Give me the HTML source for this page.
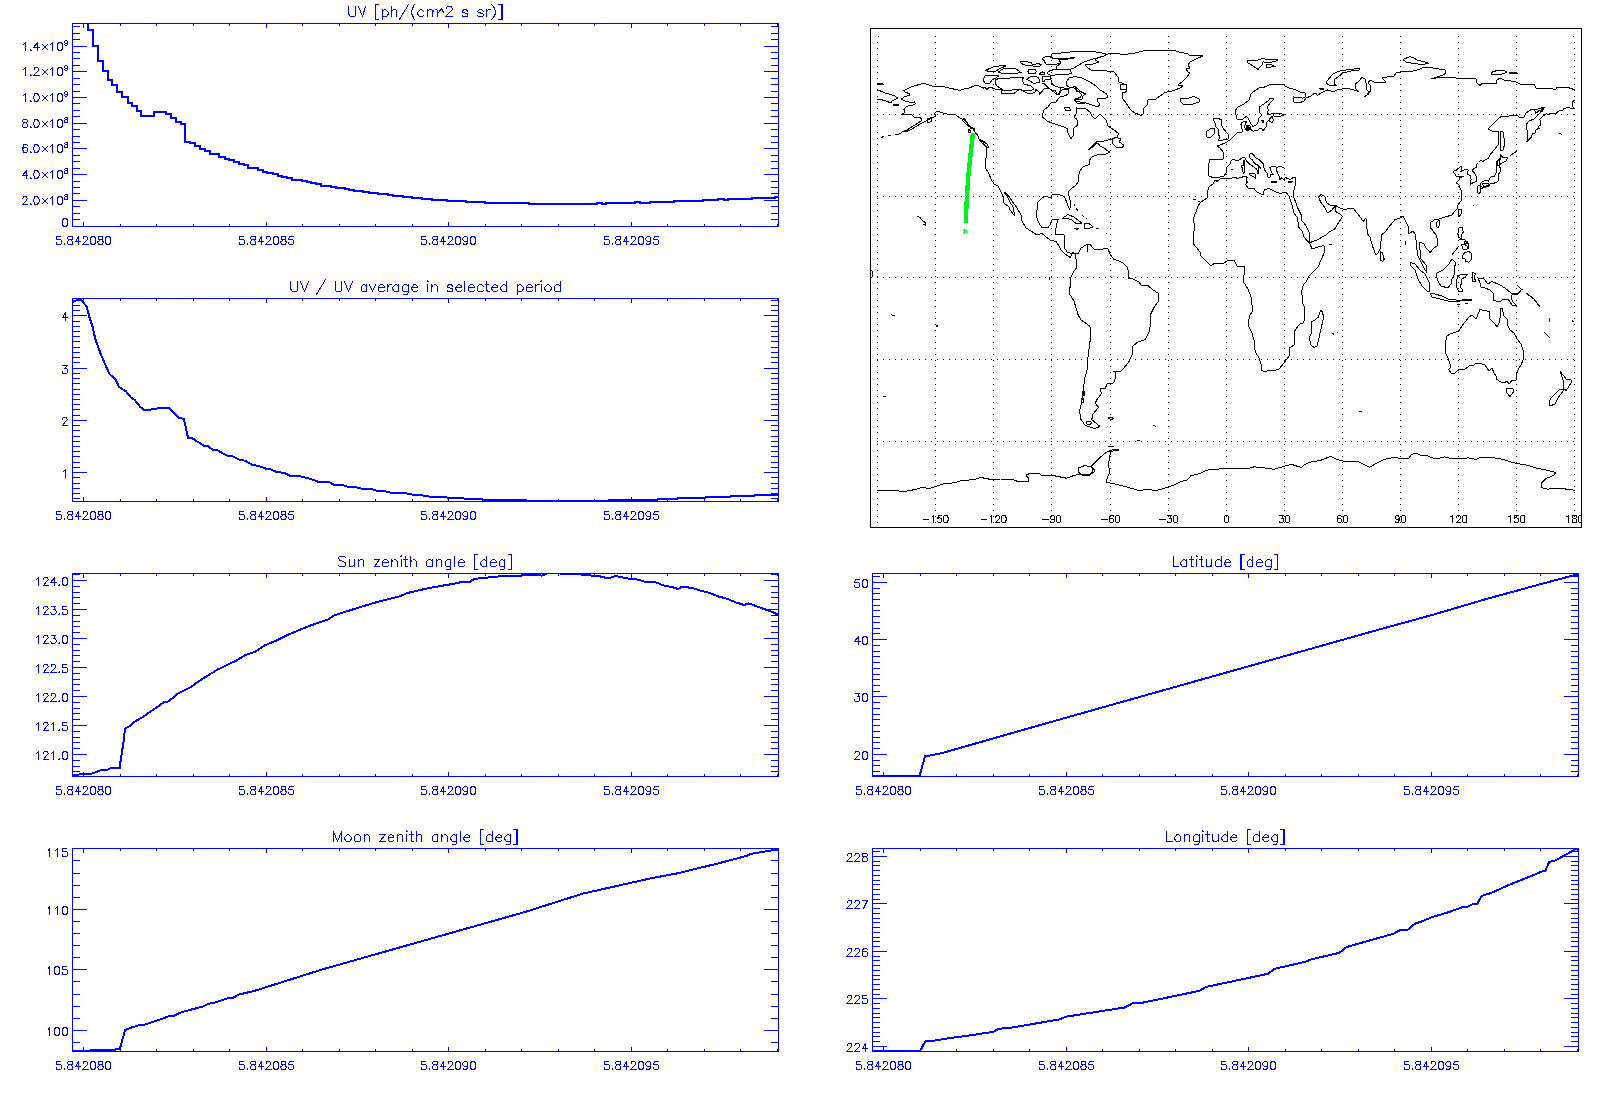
<!DOCTYPE html>
<html><head><meta charset="utf-8"><title>IDL plots</title>
<style>
html,body{margin:0;padding:0;background:#fff;width:1600px;height:1100px;overflow:hidden;font-family:"Liberation Sans",sans-serif}
svg{display:block}
</style></head><body>
<svg xmlns="http://www.w3.org/2000/svg" width="1600" height="1100" viewBox="0 0 1600 1100">
<defs><clipPath id="c00"><rect x="72" y="23" width="707" height="204"/></clipPath><clipPath id="c01"><rect x="72" y="298" width="707" height="204"/></clipPath><clipPath id="c02"><rect x="72" y="573" width="707" height="204"/></clipPath><clipPath id="c03"><rect x="72" y="848" width="707" height="204"/></clipPath><clipPath id="c10"><rect x="872" y="23" width="707" height="204"/></clipPath><clipPath id="c11"><rect x="872" y="298" width="707" height="204"/></clipPath><clipPath id="c12"><rect x="872" y="573" width="707" height="204"/></clipPath><clipPath id="c13"><rect x="872" y="848" width="707" height="204"/></clipPath><clipPath id="mapclip"><rect x="871" y="29" width="710" height="498"/></clipPath><clipPath id="coastclip"><rect x="877" y="29" width="698" height="498"/></clipPath></defs>
<rect width="1600" height="1100" fill="#fff"/>
<path d="M72 23.5H779M72 226.5H779M72.5 23V227M778.5 23V227M83.5 222V226M83.5 24V28M120.5 224V226M120.5 24V26M156.5 224V226M156.5 24V26M193.5 224V226M193.5 24V26M229.5 224V226M229.5 24V26M266.5 222V226M266.5 24V28M302.5 224V226M302.5 24V26M339.5 224V226M339.5 24V26M375.5 224V226M375.5 24V26M412.5 224V226M412.5 24V26M448.5 222V226M448.5 24V28M485.5 224V226M485.5 24V26M521.5 224V226M521.5 24V26M558.5 224V226M558.5 24V26M594.5 224V226M594.5 24V26M631.5 222V226M631.5 24V28M667.5 224V226M667.5 24V26M704.5 224V226M704.5 24V26M740.5 224V226M740.5 24V26M777.5 224V226M777.5 24V26M72 226.5H87M764 226.5H779M72 219.5H80M771 219.5H779M72 213.5H80M771 213.5H779M72 206.5H80M771 206.5H779M72 200.5H87M764 200.5H779M72 193.5H80M771 193.5H779M72 187.5H80M771 187.5H779M72 181.5H80M771 181.5H779M72 174.5H87M764 174.5H779M72 168.5H80M771 168.5H779M72 161.5H80M771 161.5H779M72 155.5H80M771 155.5H779M72 148.5H87M764 148.5H779M72 142.5H80M771 142.5H779M72 136.5H80M771 136.5H779M72 129.5H80M771 129.5H779M72 123.5H87M764 123.5H779M72 116.5H80M771 116.5H779M72 110.5H80M771 110.5H779M72 103.5H80M771 103.5H779M72 97.5H87M764 97.5H779M72 91.5H80M771 91.5H779M72 84.5H80M771 84.5H779M72 78.5H80M771 78.5H779M72 71.5H87M764 71.5H779M72 65.5H80M771 65.5H779M72 58.5H80M771 58.5H779M72 52.5H80M771 52.5H779M72 46.5H87M764 46.5H779M72 39.5H80M771 39.5H779M72 33.5H80M771 33.5H779M72 26.5H80M771 26.5H779" stroke="#0000ff" stroke-width="1" fill="none" shape-rendering="crispEdges"/>
<path d="M88 0 88 30 93 30 93 46 98 46 98 61 103 61 103 71 108 71 108 80 112 80 112 85 117 85 117 92 122 92 122 97 128 97 128 103 132 103 132 106 137 106 137 111 141 111 141 116 154 116 154 112 166 112 166 114 171 114 171 118 176 118 176 122 181 122 181 124 185 124 185 142 190 142 190 143 195 143 195 146 200 146 200 149 205 149 205 151 210 151 210 154 219 154 219 157 225 157 225 159 229 159 229 160 234 160 234 162 239 162 239 164 244 164 244 165 248 165 248 168 258 168 258 170 263 170 263 172 267 172 267 173 273 173 273 174 278 174 278 176 282 176 282 177 287 177 287 178 292 178 292 180 302 180 302 181 307 181 307 182 311 182 311 183 316 183 316 184 321 184 321 186 331 186 331 187 336 187 336 188 345 188 345 189 349 189 349 190 354 190 354 191 363 191 363 192 369 192 369 193 378 193 378 194 388 194 388 195 393 195 393 196 403 196 403 197 412 197 412 198 422 198 422 199 432 199 432 200 447 200 447 201 466 201 466 202 485 202 485 203 529 203 529 204 597 204 597 203 602 203 602 204 606 204 606 203 635 203 635 202 640 202 640 203 650 203 650 202 674 202 674 201 703 201 703 200 718 200 718 199 724 199 724 200 728 200 728 199 752 199 752 198 775 198 775 197 780 197" stroke="#0000ff" stroke-width="2" fill="none" stroke-linejoin="miter" stroke-linecap="butt" shape-rendering="crispEdges" clip-path="url(#c00)"/>
<path d="M72 298.5H779M72 501.5H779M72.5 298V502M778.5 298V502M83.5 497V501M83.5 299V303M120.5 499V501M120.5 299V301M156.5 499V501M156.5 299V301M193.5 499V501M193.5 299V301M229.5 499V501M229.5 299V301M266.5 497V501M266.5 299V303M302.5 499V501M302.5 299V301M339.5 499V501M339.5 299V301M375.5 499V501M375.5 299V301M412.5 499V501M412.5 299V301M448.5 497V501M448.5 299V303M485.5 499V501M485.5 299V301M521.5 499V501M521.5 299V301M558.5 499V501M558.5 299V301M594.5 499V501M594.5 299V301M631.5 497V501M631.5 299V303M667.5 499V501M667.5 299V301M704.5 499V501M704.5 299V301M740.5 499V501M740.5 299V301M777.5 499V501M777.5 299V301M72 498.5H80M771 498.5H779M72 493.5H80M771 493.5H779M72 488.5H80M771 488.5H779M72 483.5H80M771 483.5H779M72 477.5H80M771 477.5H779M72 472.5H87M764 472.5H779M72 467.5H80M771 467.5H779M72 462.5H80M771 462.5H779M72 456.5H80M771 456.5H779M72 451.5H80M771 451.5H779M72 446.5H80M771 446.5H779M72 441.5H80M771 441.5H779M72 436.5H80M771 436.5H779M72 430.5H80M771 430.5H779M72 425.5H80M771 425.5H779M72 420.5H87M764 420.5H779M72 415.5H80M771 415.5H779M72 409.5H80M771 409.5H779M72 404.5H80M771 404.5H779M72 399.5H80M771 399.5H779M72 394.5H80M771 394.5H779M72 389.5H80M771 389.5H779M72 383.5H80M771 383.5H779M72 378.5H80M771 378.5H779M72 373.5H80M771 373.5H779M72 368.5H87M764 368.5H779M72 362.5H80M771 362.5H779M72 357.5H80M771 357.5H779M72 352.5H80M771 352.5H779M72 347.5H80M771 347.5H779M72 341.5H80M771 341.5H779M72 336.5H80M771 336.5H779M72 331.5H80M771 331.5H779M72 326.5H80M771 326.5H779M72 321.5H80M771 321.5H779M72 315.5H87M764 315.5H779M72 310.5H80M771 310.5H779M72 305.5H80M771 305.5H779M72 300.5H80M771 300.5H779" stroke="#0000ff" stroke-width="1" fill="none" shape-rendering="crispEdges"/>
<path d="M72 302.5 77.5 299.8 81.5 300.2 86.7 306.6 89.7 318.2 92.5 326.4 95.2 338.7 100.6 353.7 104.7 363.2 109.5 374.1 115.7 379.6 119.1 387.1 125.9 391.2 130.7 397.3 134.8 400 140.2 406.9 144.3 410 150.4 410 152.5 408.6 156.6 408.6 158.6 407.7 168.2 407.7 173 411.6 179.1 417.8 183.9 419.1 188 437.6 192 438 197.5 441.7 203.75 445.6 207.5 446 213 449.75 217 449.75 223.75 454 227.5 455.6 232 455.9 240 460 245 460.6 251.9 464.75 258.75 466 266.25 468.75 270 469 276.25 471.9 285 473.1 290 475.9 300 476.25 307.5 478.1 315 480.6 318.75 481.9 328.75 481.9 333.75 484.6 342.5 485 348.1 486.9 356.25 487.25 361.25 488.5 371.25 489 376.25 490.6 385 491.25 390.6 492.75 405 492.75 410 494.4 420 495 430 496.6 444.4 496.9 448.75 497.9 463 498.1 465 499 482 499 483 500 526 500 527.5 501 608 501 608.75 500 657.5 500 658 499 677.5 499 678 498 705.6 498 706 497 730 497 730.6 496 754.4 496 755 495 780 495" stroke="#0000ff" stroke-width="2" fill="none" stroke-linejoin="miter" stroke-linecap="butt" shape-rendering="crispEdges" clip-path="url(#c01)"/>
<path d="M72 573.5H779M72 776.5H779M72.5 573V777M778.5 573V777M83.5 772V776M83.5 574V578M120.5 774V776M120.5 574V576M156.5 774V776M156.5 574V576M193.5 774V776M193.5 574V576M229.5 774V776M229.5 574V576M266.5 772V776M266.5 574V578M302.5 774V776M302.5 574V576M339.5 774V776M339.5 574V576M375.5 774V776M375.5 574V576M412.5 774V776M412.5 574V576M448.5 772V776M448.5 574V578M485.5 774V776M485.5 574V576M521.5 774V776M521.5 574V576M558.5 774V776M558.5 574V576M594.5 774V776M594.5 574V576M631.5 772V776M631.5 574V578M667.5 774V776M667.5 574V576M704.5 774V776M704.5 574V576M740.5 774V776M740.5 574V576M777.5 774V776M777.5 574V576M72 771.5H80M771 771.5H779M72 766.5H80M771 766.5H779M72 760.5H80M771 760.5H779M72 754.5H87M764 754.5H779M72 748.5H80M771 748.5H779M72 742.5H80M771 742.5H779M72 737.5H80M771 737.5H779M72 731.5H80M771 731.5H779M72 725.5H87M764 725.5H779M72 719.5H80M771 719.5H779M72 713.5H80M771 713.5H779M72 708.5H80M771 708.5H779M72 702.5H80M771 702.5H779M72 696.5H87M764 696.5H779M72 690.5H80M771 690.5H779M72 684.5H80M771 684.5H779M72 679.5H80M771 679.5H779M72 673.5H80M771 673.5H779M72 667.5H87M764 667.5H779M72 661.5H80M771 661.5H779M72 655.5H80M771 655.5H779M72 650.5H80M771 650.5H779M72 644.5H80M771 644.5H779M72 638.5H87M764 638.5H779M72 632.5H80M771 632.5H779M72 626.5H80M771 626.5H779M72 621.5H80M771 621.5H779M72 615.5H80M771 615.5H779M72 609.5H87M764 609.5H779M72 603.5H80M771 603.5H779M72 597.5H80M771 597.5H779M72 592.5H80M771 592.5H779M72 586.5H80M771 586.5H779M72 580.5H87M764 580.5H779M72 574.5H80M771 574.5H779" stroke="#0000ff" stroke-width="1" fill="none" shape-rendering="crispEdges"/>
<path d="M72 775.8 77 774.8 82 774 91 773.8 95 772.5 102 769.8 108 769.6 111 767.8 119.8 767.8 119.8 766 122 752 123.5 742 125 728.5 129 726.5 135 721.5 142 717.5 147 714 152 710.5 156 708 163.5 702.5 168 701.5 172 698.5 178 693.5 180 692.5 191.25 686.9 198.75 681.25 217.5 669.6 236.25 660.6 245.6 655 255 651.8 264.4 645.6 277.5 640 288.75 634.4 309.4 625.9 328 619.4 333.75 615.6 345 611.9 358.1 607.75 376.9 602.1 399.4 596.5 406.9 593.1 429.4 587.9 451.9 584.1 460 582.4 469 582.4 474 579 482 578 494 577 503 576 526 575.4 530 574.6 542 575.6 548 573 560 573 561 574 580 574.4 590 575.4 600 576.4 608 578.4 616 576 630 579 638 579.6 644 581.6 656 582.4 664 585.6 672 587 678 589 682 586.6 692 588 704 591.6 710 593 718 596.4 726 598.4 736 602.4 744 605 749 603.4 760 607.6 770 611 780 615.4" stroke="#0000ff" stroke-width="2" fill="none" stroke-linejoin="miter" stroke-linecap="butt" shape-rendering="crispEdges" clip-path="url(#c02)"/>
<path d="M72 848.5H779M72 1051.5H779M72.5 848V1052M778.5 848V1052M83.5 1047V1051M83.5 849V853M120.5 1049V1051M120.5 849V851M156.5 1049V1051M156.5 849V851M193.5 1049V1051M193.5 849V851M229.5 1049V1051M229.5 849V851M266.5 1047V1051M266.5 849V853M302.5 1049V1051M302.5 849V851M339.5 1049V1051M339.5 849V851M375.5 1049V1051M375.5 849V851M412.5 1049V1051M412.5 849V851M448.5 1047V1051M448.5 849V853M485.5 1049V1051M485.5 849V851M521.5 1049V1051M521.5 849V851M558.5 1049V1051M558.5 849V851M594.5 1049V1051M594.5 849V851M631.5 1047V1051M631.5 849V853M667.5 1049V1051M667.5 849V851M704.5 1049V1051M704.5 849V851M740.5 1049V1051M740.5 849V851M777.5 1049V1051M777.5 849V851M72 1042.5H80M771 1042.5H779M72 1030.5H87M764 1030.5H779M72 1018.5H80M771 1018.5H779M72 1006.5H80M771 1006.5H779M72 994.5H80M771 994.5H779M72 981.5H80M771 981.5H779M72 969.5H87M764 969.5H779M72 957.5H80M771 957.5H779M72 945.5H80M771 945.5H779M72 933.5H80M771 933.5H779M72 921.5H80M771 921.5H779M72 909.5H87M764 909.5H779M72 897.5H80M771 897.5H779M72 885.5H80M771 885.5H779M72 873.5H80M771 873.5H779M72 860.5H80M771 860.5H779M72 848.5H87M764 848.5H779" stroke="#0000ff" stroke-width="1" fill="none" shape-rendering="crispEdges"/>
<path d="M72 1051 91 1051 91 1050 115 1050 115.5 1049 120 1048.5 125 1030.25 130.75 1027.75 139.5 1025 144.5 1024.75 159.5 1019.75 169.5 1016 174.5 1015.6 179.5 1012.9 189.5 1010 203.25 1006.5 208.25 1003.75 213.25 1003.1 228.25 998.1 233.25 997.75 238.25 994.75 255 990.7 322.5 969.4 390 950.2 457.5 931.1 525 912 582.5 893.7 650 878.5 677 873.4 717.5 863.6 746.2 856 751.25 853.8 780 849" stroke="#0000ff" stroke-width="2" fill="none" stroke-linejoin="miter" stroke-linecap="butt" shape-rendering="crispEdges" clip-path="url(#c03)"/>
<path d="M872 573.5H1579M872 776.5H1579M872.5 573V777M1578.5 573V777M883.5 772V776M883.5 574V578M920.5 774V776M920.5 574V576M956.5 774V776M956.5 574V576M993.5 774V776M993.5 574V576M1029.5 774V776M1029.5 574V576M1066.5 772V776M1066.5 574V578M1102.5 774V776M1102.5 574V576M1139.5 774V776M1139.5 574V576M1175.5 774V776M1175.5 574V576M1212.5 774V776M1212.5 574V576M1248.5 772V776M1248.5 574V578M1285.5 774V776M1285.5 574V576M1321.5 774V776M1321.5 574V576M1358.5 774V776M1358.5 574V576M1394.5 774V776M1394.5 574V576M1431.5 772V776M1431.5 574V578M1467.5 774V776M1467.5 574V576M1504.5 774V776M1504.5 574V576M1540.5 774V776M1540.5 574V576M1577.5 774V776M1577.5 574V576M872 771.5H880M1571 771.5H1579M872 765.5H880M1571 765.5H1579M872 760.5H880M1571 760.5H1579M872 754.5H887M1564 754.5H1579M872 748.5H880M1571 748.5H1579M872 742.5H880M1571 742.5H1579M872 737.5H880M1571 737.5H1579M872 731.5H880M1571 731.5H1579M872 725.5H880M1571 725.5H1579M872 719.5H880M1571 719.5H1579M872 714.5H880M1571 714.5H1579M872 708.5H880M1571 708.5H1579M872 702.5H880M1571 702.5H1579M872 696.5H887M1564 696.5H1579M872 691.5H880M1571 691.5H1579M872 685.5H880M1571 685.5H1579M872 679.5H880M1571 679.5H1579M872 674.5H880M1571 674.5H1579M872 668.5H880M1571 668.5H1579M872 662.5H880M1571 662.5H1579M872 656.5H880M1571 656.5H1579M872 651.5H880M1571 651.5H1579M872 645.5H880M1571 645.5H1579M872 639.5H887M1564 639.5H1579M872 633.5H880M1571 633.5H1579M872 628.5H880M1571 628.5H1579M872 622.5H880M1571 622.5H1579M872 616.5H880M1571 616.5H1579M872 610.5H880M1571 610.5H1579M872 605.5H880M1571 605.5H1579M872 599.5H880M1571 599.5H1579M872 593.5H880M1571 593.5H1579M872 588.5H880M1571 588.5H1579M872 582.5H887M1564 582.5H1579M872 576.5H880M1571 576.5H1579" stroke="#0000ff" stroke-width="1" fill="none" shape-rendering="crispEdges"/>
<path d="M872 776 919.5 776 925.1 756 929.5 755.6 939.5 753.75 1072 716 1380 629.3 1432.5 614.9 1485 599.4 1537.5 585 1574.2 575.2 1580 574.2" stroke="#0000ff" stroke-width="2" fill="none" stroke-linejoin="miter" stroke-linecap="butt" shape-rendering="crispEdges" clip-path="url(#c12)"/>
<path d="M872 848.5H1579M872 1051.5H1579M872.5 848V1052M1578.5 848V1052M883.5 1047V1051M883.5 849V853M920.5 1049V1051M920.5 849V851M956.5 1049V1051M956.5 849V851M993.5 1049V1051M993.5 849V851M1029.5 1049V1051M1029.5 849V851M1066.5 1047V1051M1066.5 849V853M1102.5 1049V1051M1102.5 849V851M1139.5 1049V1051M1139.5 849V851M1175.5 1049V1051M1175.5 849V851M1212.5 1049V1051M1212.5 849V851M1248.5 1047V1051M1248.5 849V853M1285.5 1049V1051M1285.5 849V851M1321.5 1049V1051M1321.5 849V851M1358.5 1049V1051M1358.5 849V851M1394.5 1049V1051M1394.5 849V851M1431.5 1047V1051M1431.5 849V853M1467.5 1049V1051M1467.5 849V851M1504.5 1049V1051M1504.5 849V851M1540.5 1049V1051M1540.5 849V851M1577.5 1049V1051M1577.5 849V851M872 1046.5H887M1564 1046.5H1579M872 1041.5H880M1571 1041.5H1579M872 1036.5H880M1571 1036.5H1579M872 1032.5H880M1571 1032.5H1579M872 1027.5H880M1571 1027.5H1579M872 1022.5H880M1571 1022.5H1579M872 1017.5H880M1571 1017.5H1579M872 1013.5H880M1571 1013.5H1579M872 1008.5H880M1571 1008.5H1579M872 1003.5H880M1571 1003.5H1579M872 998.5H887M1564 998.5H1579M872 994.5H880M1571 994.5H1579M872 989.5H880M1571 989.5H1579M872 984.5H880M1571 984.5H1579M872 979.5H880M1571 979.5H1579M872 975.5H880M1571 975.5H1579M872 970.5H880M1571 970.5H1579M872 965.5H880M1571 965.5H1579M872 960.5H880M1571 960.5H1579M872 956.5H880M1571 956.5H1579M872 951.5H887M1564 951.5H1579M872 946.5H880M1571 946.5H1579M872 941.5H880M1571 941.5H1579M872 937.5H880M1571 937.5H1579M872 932.5H880M1571 932.5H1579M872 927.5H880M1571 927.5H1579M872 922.5H880M1571 922.5H1579M872 918.5H880M1571 918.5H1579M872 913.5H880M1571 913.5H1579M872 908.5H880M1571 908.5H1579M872 903.5H887M1564 903.5H1579M872 899.5H880M1571 899.5H1579M872 894.5H880M1571 894.5H1579M872 889.5H880M1571 889.5H1579M872 884.5H880M1571 884.5H1579M872 880.5H880M1571 880.5H1579M872 875.5H880M1571 875.5H1579M872 870.5H880M1571 870.5H1579M872 865.5H880M1571 865.5H1579M872 861.5H880M1571 861.5H1579M872 856.5H887M1564 856.5H1579M872 851.5H880M1571 851.5H1579" stroke="#0000ff" stroke-width="1" fill="none" shape-rendering="crispEdges"/>
<path d="M872 1051 920.1 1051 925.7 1040.6 934.4 1040.6 953 1037.6 963.1 1036.4 993.5 1031.8 998.6 1028.8 1012 1027.5 1059.3 1019.5 1066 1016.7 1099.8 1011.4 1125.1 1007.4 1133.6 1002.7 1142.6 1002.7 1199.1 990.9 1205.9 987 1268.3 973.7 1274.2 968.9 1305.4 961.8 1312.2 959.1 1339.2 952.9 1346.8 947 1393.2 933.8 1399.9 930.4 1407.8 929.7 1415.1 923.6 1420.6 921.8 1432.8 916.9 1449.8 911.8 1463.25 906.9 1468.1 906.5 1473 904.1 1477.3 903.9 1481.5 896 1491.3 892.9 1509.6 884.6 1529 876.9 1541.25 871.8 1545.5 870.6 1549.2 862 1555.9 860.2 1575.4 849.3 1580 848.5" stroke="#0000ff" stroke-width="2" fill="none" stroke-linejoin="miter" stroke-linecap="butt" shape-rendering="crispEdges" clip-path="url(#c13)"/>
<path d="M64.5 218.5L63.5 218.5L62.5 220.5L62.5 221.5L62.5 223.5L62.5 224.5L63.5 226.5L64.5 226.5L65.5 226.5L66.5 226.5L67.5 224.5L67.5 223.5L67.5 221.5L67.5 220.5L66.5 218.5L65.5 218.5L64.5 218.5M22.5 198.5L23.5 197.5L23.5 196.5L24.5 196.5L25.5 196.5L26.5 196.5L26.5 197.5L27.5 198.5L26.5 199.5L26.5 200.5L22.5 204.5L27.5 204.5M30.5 203.5L30.5 204.5L31.5 204.5L30.5 203.5M35.5 196.5L34.5 196.5L34.5 198.5L33.5 199.5L33.5 201.5L34.5 202.5L34.5 204.5L35.5 204.5L36.5 204.5L37.5 204.5L38.5 202.5L39.5 201.5L39.5 199.5L38.5 198.5L37.5 196.5L36.5 196.5L35.5 196.5M42.5 203.5L47.5 198.5M42.5 198.5L47.5 203.5M50.5 198.5L51.5 197.5L52.5 196.5L52.5 204.5M59.5 196.5L58.5 196.5L57.5 198.5L57.5 199.5L57.5 201.5L57.5 202.5L58.5 204.5L59.5 204.5L60.5 204.5L61.5 204.5L62.5 202.5L62.5 201.5L62.5 199.5L62.5 198.5L61.5 196.5L60.5 196.5L59.5 196.5M65.5 194.5L64.5 195.5L65.5 196.5L66.5 196.5L67.5 196.5L67.5 197.5L67.5 198.5L67.5 199.5L66.5 199.5L65.5 199.5L64.5 199.5L64.5 198.5L64.5 197.5L65.5 196.5L66.5 196.5L67.5 196.5L67.5 195.5L67.5 194.5L66.5 194.5L65.5 194.5M26.5 170.5L22.5 175.5L27.5 175.5M26.5 170.5L26.5 178.5M30.5 177.5L30.5 178.5L31.5 178.5L30.5 177.5M35.5 170.5L34.5 170.5L34.5 172.5L33.5 173.5L33.5 175.5L34.5 176.5L34.5 178.5L35.5 178.5L36.5 178.5L37.5 178.5L38.5 176.5L39.5 175.5L39.5 173.5L38.5 172.5L37.5 170.5L36.5 170.5L35.5 170.5M42.5 177.5L47.5 172.5M42.5 172.5L47.5 177.5M50.5 172.5L51.5 171.5L52.5 170.5L52.5 178.5M59.5 170.5L58.5 170.5L57.5 172.5L57.5 173.5L57.5 175.5L57.5 176.5L58.5 178.5L59.5 178.5L60.5 178.5L61.5 178.5L62.5 176.5L62.5 175.5L62.5 173.5L62.5 172.5L61.5 170.5L60.5 170.5L59.5 170.5M65.5 168.5L64.5 169.5L65.5 170.5L66.5 170.5L67.5 170.5L67.5 171.5L67.5 172.5L67.5 173.5L66.5 173.5L65.5 173.5L64.5 173.5L64.5 172.5L64.5 171.5L65.5 170.5L66.5 170.5L67.5 170.5L67.5 169.5L67.5 168.5L66.5 168.5L65.5 168.5M27.5 145.5L26.5 144.5L25.5 144.5L24.5 144.5L23.5 144.5L23.5 146.5L22.5 147.5L22.5 149.5L23.5 151.5L23.5 152.5L24.5 152.5L25.5 152.5L26.5 152.5L27.5 151.5L27.5 150.5L27.5 149.5L27.5 148.5L26.5 147.5L25.5 147.5L24.5 147.5L23.5 147.5L23.5 148.5L22.5 149.5M30.5 151.5L30.5 152.5L31.5 152.5L30.5 151.5M35.5 144.5L34.5 144.5L34.5 146.5L33.5 147.5L33.5 149.5L34.5 150.5L34.5 152.5L35.5 152.5L36.5 152.5L37.5 152.5L38.5 150.5L39.5 149.5L39.5 147.5L38.5 146.5L37.5 144.5L36.5 144.5L35.5 144.5M42.5 151.5L47.5 146.5M42.5 146.5L47.5 151.5M50.5 146.5L51.5 145.5L52.5 144.5L52.5 152.5M59.5 144.5L58.5 144.5L57.5 146.5L57.5 147.5L57.5 149.5L57.5 150.5L58.5 152.5L59.5 152.5L60.5 152.5L61.5 152.5L62.5 150.5L62.5 149.5L62.5 147.5L62.5 146.5L61.5 144.5L60.5 144.5L59.5 144.5M65.5 142.5L64.5 143.5L65.5 144.5L66.5 144.5L67.5 144.5L67.5 145.5L67.5 146.5L67.5 147.5L66.5 147.5L65.5 147.5L64.5 147.5L64.5 146.5L64.5 145.5L65.5 144.5L66.5 144.5L67.5 144.5L67.5 143.5L67.5 142.5L66.5 142.5L65.5 142.5M24.5 119.5L23.5 119.5L22.5 120.5L22.5 121.5L23.5 122.5L25.5 122.5L26.5 123.5L27.5 124.5L27.5 125.5L27.5 126.5L26.5 127.5L25.5 127.5L24.5 127.5L23.5 127.5L22.5 126.5L22.5 125.5L22.5 124.5L23.5 123.5L24.5 122.5L26.5 122.5L27.5 121.5L27.5 120.5L26.5 119.5L25.5 119.5L24.5 119.5M30.5 126.5L30.5 127.5L31.5 127.5L30.5 126.5M35.5 119.5L34.5 119.5L34.5 121.5L33.5 122.5L33.5 124.5L34.5 125.5L34.5 127.5L35.5 127.5L36.5 127.5L37.5 127.5L38.5 125.5L39.5 124.5L39.5 122.5L38.5 121.5L37.5 119.5L36.5 119.5L35.5 119.5M42.5 126.5L47.5 121.5M42.5 121.5L47.5 126.5M50.5 121.5L51.5 120.5L52.5 119.5L52.5 127.5M59.5 119.5L58.5 119.5L57.5 121.5L57.5 122.5L57.5 124.5L57.5 125.5L58.5 127.5L59.5 127.5L60.5 127.5L61.5 127.5L62.5 125.5L62.5 124.5L62.5 122.5L62.5 121.5L61.5 119.5L60.5 119.5L59.5 119.5M65.5 117.5L64.5 118.5L65.5 119.5L66.5 119.5L67.5 119.5L67.5 120.5L67.5 121.5L67.5 122.5L66.5 122.5L65.5 122.5L64.5 122.5L64.5 121.5L64.5 120.5L65.5 119.5L66.5 119.5L67.5 119.5L67.5 118.5L67.5 117.5L66.5 117.5L65.5 117.5M23.5 95.5L24.5 94.5L25.5 93.5L25.5 101.5M30.5 100.5L30.5 101.5L31.5 101.5L30.5 100.5M35.5 93.5L34.5 93.5L34.5 95.5L33.5 96.5L33.5 98.5L34.5 99.5L34.5 101.5L35.5 101.5L36.5 101.5L37.5 101.5L38.5 99.5L39.5 98.5L39.5 96.5L38.5 95.5L37.5 93.5L36.5 93.5L35.5 93.5M42.5 100.5L47.5 95.5M42.5 95.5L47.5 100.5M50.5 95.5L51.5 94.5L52.5 93.5L52.5 101.5M59.5 93.5L58.5 93.5L57.5 95.5L57.5 96.5L57.5 98.5L57.5 99.5L58.5 101.5L59.5 101.5L60.5 101.5L61.5 101.5L62.5 99.5L62.5 98.5L62.5 96.5L62.5 95.5L61.5 93.5L60.5 93.5L59.5 93.5M67.5 93.5L66.5 94.5L65.5 94.5L64.5 93.5L64.5 92.5L65.5 91.5L66.5 91.5L67.5 92.5L67.5 93.5L67.5 94.5L67.5 95.5L66.5 96.5L65.5 96.5L64.5 95.5M23.5 69.5L24.5 68.5L25.5 67.5L25.5 75.5M30.5 74.5L30.5 75.5L31.5 75.5L30.5 74.5M34.5 69.5L34.5 68.5L34.5 67.5L35.5 67.5L37.5 67.5L38.5 68.5L38.5 69.5L38.5 70.5L37.5 71.5L33.5 75.5L39.5 75.5M42.5 74.5L47.5 69.5M42.5 69.5L47.5 74.5M50.5 69.5L51.5 68.5L52.5 67.5L52.5 75.5M59.5 67.5L58.5 67.5L57.5 69.5L57.5 70.5L57.5 72.5L57.5 73.5L58.5 75.5L59.5 75.5L60.5 75.5L61.5 75.5L62.5 73.5L62.5 72.5L62.5 70.5L62.5 69.5L61.5 67.5L60.5 67.5L59.5 67.5M67.5 67.5L66.5 68.5L65.5 68.5L64.5 67.5L64.5 66.5L65.5 65.5L66.5 65.5L67.5 66.5L67.5 67.5L67.5 68.5L67.5 69.5L66.5 70.5L65.5 70.5L64.5 69.5M23.5 44.5L24.5 43.5L25.5 42.5L25.5 50.5M30.5 49.5L30.5 50.5L31.5 50.5L30.5 49.5M37.5 42.5L33.5 47.5L39.5 47.5M37.5 42.5L37.5 50.5M42.5 49.5L47.5 44.5M42.5 44.5L47.5 49.5M50.5 44.5L51.5 43.5L52.5 42.5L52.5 50.5M59.5 42.5L58.5 42.5L57.5 44.5L57.5 45.5L57.5 47.5L57.5 48.5L58.5 50.5L59.5 50.5L60.5 50.5L61.5 50.5L62.5 48.5L62.5 47.5L62.5 45.5L62.5 44.5L61.5 42.5L60.5 42.5L59.5 42.5M67.5 42.5L66.5 43.5L65.5 43.5L64.5 42.5L64.5 41.5L65.5 40.5L66.5 40.5L67.5 41.5L67.5 42.5L67.5 43.5L67.5 44.5L66.5 45.5L65.5 45.5L64.5 44.5M348.5 6.5L348.5 13.5L349.5 15.5L350.5 16.5L351.5 16.5L352.5 16.5L354.5 16.5L355.5 15.5L355.5 13.5L355.5 6.5M358.5 6.5L362.5 16.5M365.5 6.5L362.5 16.5M375.5 4.5L375.5 19.5M375.5 4.5L375.5 19.5M375.5 4.5L378.5 4.5M375.5 19.5L378.5 19.5M382.5 9.5L382.5 19.5M382.5 11.5L383.5 10.5L384.5 9.5L385.5 9.5L386.5 10.5L387.5 11.5L388.5 12.5L388.5 13.5L387.5 15.5L386.5 16.5L385.5 16.5L384.5 16.5L383.5 16.5L382.5 15.5M391.5 6.5L391.5 16.5M391.5 11.5L392.5 10.5L393.5 9.5L395.5 9.5L396.5 10.5L396.5 11.5L396.5 16.5M408.5 4.5L399.5 19.5M414.5 4.5L413.5 5.5L413.5 6.5L412.5 8.5L411.5 11.5L411.5 13.5L412.5 15.5L413.5 17.5L413.5 18.5L414.5 19.5M423.5 11.5L422.5 10.5L421.5 9.5L420.5 9.5L419.5 10.5L418.5 11.5L417.5 12.5L417.5 13.5L418.5 15.5L419.5 16.5L420.5 16.5L421.5 16.5L422.5 16.5L423.5 15.5M427.5 9.5L427.5 16.5M427.5 11.5L428.5 10.5L429.5 9.5L431.5 9.5L432.5 10.5L432.5 11.5L432.5 16.5M432.5 11.5L434.5 10.5L435.5 9.5L436.5 9.5L437.5 10.5L437.5 11.5L437.5 16.5M438.5 12.5L441.5 8.5L443.5 12.5M446.5 8.5L446.5 7.5L447.5 6.5L448.5 6.5L450.5 6.5L451.5 6.5L451.5 7.5L452.5 8.5L452.5 9.5L451.5 10.5L450.5 11.5L445.5 16.5L452.5 16.5M467.5 11.5L467.5 10.5L465.5 9.5L464.5 9.5L462.5 10.5L462.5 11.5L462.5 12.5L463.5 12.5L466.5 13.5L467.5 13.5L467.5 14.5L467.5 15.5L467.5 16.5L465.5 16.5L464.5 16.5L462.5 16.5L462.5 15.5M483.5 11.5L482.5 10.5L481.5 9.5L479.5 9.5L478.5 10.5L477.5 11.5L478.5 12.5L479.5 12.5L481.5 13.5L482.5 13.5L483.5 14.5L483.5 15.5L482.5 16.5L481.5 16.5L479.5 16.5L478.5 16.5L477.5 15.5M486.5 9.5L486.5 16.5M486.5 12.5L486.5 11.5L487.5 10.5L488.5 9.5L490.5 9.5M491.5 4.5L492.5 5.5L493.5 6.5L494.5 8.5L495.5 11.5L495.5 13.5L494.5 15.5L493.5 17.5L492.5 18.5L491.5 19.5M501.5 4.5L501.5 19.5M502.5 4.5L502.5 19.5M498.5 4.5L502.5 4.5M498.5 19.5L502.5 19.5M60.5 236.5L56.5 236.5L56.5 239.5L57.5 239.5L59.5 239.5L60.5 239.5L61.5 240.5L61.5 241.5L61.5 242.5L61.5 243.5L60.5 244.5L59.5 244.5L57.5 244.5L56.5 244.5L56.5 243.5L56.5 242.5M64.5 243.5L64.5 244.5L64.5 243.5M69.5 236.5L68.5 236.5L67.5 237.5L67.5 238.5L68.5 239.5L69.5 239.5L70.5 239.5L71.5 240.5L72.5 241.5L72.5 242.5L72.5 243.5L72.5 244.5L70.5 244.5L69.5 244.5L68.5 244.5L67.5 243.5L67.5 242.5L67.5 241.5L68.5 240.5L69.5 239.5L71.5 239.5L72.5 239.5L72.5 238.5L72.5 237.5L72.5 236.5L70.5 236.5L69.5 236.5M78.5 236.5L75.5 241.5L80.5 241.5M78.5 236.5L78.5 244.5M83.5 238.5L83.5 237.5L83.5 236.5L84.5 236.5L86.5 236.5L87.5 237.5L87.5 238.5L87.5 239.5L86.5 240.5L82.5 244.5L88.5 244.5M92.5 236.5L91.5 236.5L90.5 238.5L90.5 239.5L90.5 241.5L90.5 242.5L91.5 244.5L92.5 244.5L93.5 244.5L94.5 244.5L95.5 242.5L95.5 241.5L95.5 239.5L95.5 238.5L94.5 236.5L93.5 236.5L92.5 236.5M99.5 236.5L98.5 236.5L98.5 237.5L98.5 238.5L98.5 239.5L99.5 239.5L101.5 239.5L102.5 240.5L102.5 241.5L103.5 241.5L103.5 242.5L102.5 243.5L102.5 244.5L101.5 244.5L99.5 244.5L98.5 244.5L98.5 243.5L97.5 242.5L97.5 241.5L98.5 241.5L99.5 240.5L100.5 239.5L101.5 239.5L102.5 239.5L102.5 238.5L102.5 237.5L102.5 236.5L101.5 236.5L99.5 236.5M107.5 236.5L106.5 236.5L105.5 238.5L105.5 239.5L105.5 241.5L105.5 242.5L106.5 244.5L107.5 244.5L108.5 244.5L109.5 244.5L110.5 242.5L110.5 241.5L110.5 239.5L110.5 238.5L109.5 236.5L108.5 236.5L107.5 236.5M243.5 236.5L239.5 236.5L239.5 239.5L240.5 239.5L242.5 239.5L243.5 239.5L244.5 240.5L244.5 241.5L244.5 242.5L244.5 243.5L243.5 244.5L242.5 244.5L240.5 244.5L239.5 244.5L239.5 243.5L239.5 242.5M247.5 243.5L247.5 244.5L247.5 243.5M252.5 236.5L251.5 236.5L250.5 237.5L250.5 238.5L251.5 239.5L252.5 239.5L253.5 239.5L254.5 240.5L255.5 241.5L255.5 242.5L255.5 243.5L255.5 244.5L253.5 244.5L252.5 244.5L251.5 244.5L250.5 243.5L250.5 242.5L250.5 241.5L251.5 240.5L252.5 239.5L254.5 239.5L255.5 239.5L255.5 238.5L255.5 237.5L255.5 236.5L253.5 236.5L252.5 236.5M261.5 236.5L258.5 241.5L263.5 241.5M261.5 236.5L261.5 244.5M266.5 238.5L266.5 237.5L266.5 236.5L267.5 236.5L269.5 236.5L270.5 237.5L270.5 238.5L270.5 239.5L269.5 240.5L265.5 244.5L271.5 244.5M275.5 236.5L274.5 236.5L273.5 238.5L273.5 239.5L273.5 241.5L273.5 242.5L274.5 244.5L275.5 244.5L276.5 244.5L277.5 244.5L278.5 242.5L278.5 241.5L278.5 239.5L278.5 238.5L277.5 236.5L276.5 236.5L275.5 236.5M282.5 236.5L281.5 236.5L281.5 237.5L281.5 238.5L281.5 239.5L282.5 239.5L284.5 239.5L285.5 240.5L285.5 241.5L286.5 241.5L286.5 242.5L285.5 243.5L285.5 244.5L284.5 244.5L282.5 244.5L281.5 244.5L281.5 243.5L280.5 242.5L280.5 241.5L281.5 241.5L282.5 240.5L283.5 239.5L284.5 239.5L285.5 239.5L285.5 238.5L285.5 237.5L285.5 236.5L284.5 236.5L282.5 236.5M293.5 236.5L289.5 236.5L288.5 239.5L289.5 239.5L290.5 239.5L291.5 239.5L292.5 239.5L293.5 240.5L293.5 241.5L293.5 242.5L293.5 243.5L292.5 244.5L291.5 244.5L290.5 244.5L289.5 244.5L288.5 243.5L288.5 242.5M425.5 236.5L421.5 236.5L421.5 239.5L422.5 239.5L424.5 239.5L425.5 239.5L426.5 240.5L426.5 241.5L426.5 242.5L426.5 243.5L425.5 244.5L424.5 244.5L422.5 244.5L421.5 244.5L421.5 243.5L421.5 242.5M429.5 243.5L429.5 244.5L429.5 243.5M434.5 236.5L433.5 236.5L432.5 237.5L432.5 238.5L433.5 239.5L434.5 239.5L435.5 239.5L436.5 240.5L437.5 241.5L437.5 242.5L437.5 243.5L437.5 244.5L435.5 244.5L434.5 244.5L433.5 244.5L432.5 243.5L432.5 242.5L432.5 241.5L433.5 240.5L434.5 239.5L436.5 239.5L437.5 239.5L437.5 238.5L437.5 237.5L437.5 236.5L435.5 236.5L434.5 236.5M443.5 236.5L440.5 241.5L445.5 241.5M443.5 236.5L443.5 244.5M448.5 238.5L448.5 237.5L448.5 236.5L449.5 236.5L451.5 236.5L452.5 237.5L452.5 238.5L452.5 239.5L451.5 240.5L447.5 244.5L453.5 244.5M457.5 236.5L456.5 236.5L455.5 238.5L455.5 239.5L455.5 241.5L455.5 242.5L456.5 244.5L457.5 244.5L458.5 244.5L459.5 244.5L460.5 242.5L460.5 241.5L460.5 239.5L460.5 238.5L459.5 236.5L458.5 236.5L457.5 236.5M467.5 239.5L467.5 240.5L466.5 241.5L465.5 241.5L464.5 241.5L463.5 240.5L462.5 239.5L462.5 238.5L463.5 237.5L464.5 236.5L465.5 236.5L466.5 236.5L467.5 237.5L467.5 239.5L467.5 241.5L467.5 242.5L466.5 244.5L465.5 244.5L464.5 244.5L463.5 244.5L463.5 243.5M472.5 236.5L471.5 236.5L470.5 238.5L470.5 239.5L470.5 241.5L470.5 242.5L471.5 244.5L472.5 244.5L473.5 244.5L474.5 244.5L475.5 242.5L475.5 241.5L475.5 239.5L475.5 238.5L474.5 236.5L473.5 236.5L472.5 236.5M608.5 236.5L604.5 236.5L604.5 239.5L605.5 239.5L607.5 239.5L608.5 239.5L609.5 240.5L609.5 241.5L609.5 242.5L609.5 243.5L608.5 244.5L607.5 244.5L605.5 244.5L604.5 244.5L604.5 243.5L604.5 242.5M612.5 243.5L612.5 244.5L612.5 243.5M617.5 236.5L616.5 236.5L615.5 237.5L615.5 238.5L616.5 239.5L617.5 239.5L618.5 239.5L619.5 240.5L620.5 241.5L620.5 242.5L620.5 243.5L620.5 244.5L618.5 244.5L617.5 244.5L616.5 244.5L615.5 243.5L615.5 242.5L615.5 241.5L616.5 240.5L617.5 239.5L619.5 239.5L620.5 239.5L620.5 238.5L620.5 237.5L620.5 236.5L618.5 236.5L617.5 236.5M626.5 236.5L623.5 241.5L628.5 241.5M626.5 236.5L626.5 244.5M631.5 238.5L631.5 237.5L631.5 236.5L632.5 236.5L634.5 236.5L635.5 237.5L635.5 238.5L635.5 239.5L634.5 240.5L630.5 244.5L636.5 244.5M640.5 236.5L639.5 236.5L638.5 238.5L638.5 239.5L638.5 241.5L638.5 242.5L639.5 244.5L640.5 244.5L641.5 244.5L642.5 244.5L643.5 242.5L643.5 241.5L643.5 239.5L643.5 238.5L642.5 236.5L641.5 236.5L640.5 236.5M650.5 239.5L650.5 240.5L649.5 241.5L648.5 241.5L647.5 241.5L646.5 240.5L645.5 239.5L645.5 238.5L646.5 237.5L647.5 236.5L648.5 236.5L649.5 236.5L650.5 237.5L650.5 239.5L650.5 241.5L650.5 242.5L649.5 244.5L648.5 244.5L647.5 244.5L646.5 244.5L646.5 243.5M658.5 236.5L654.5 236.5L653.5 239.5L654.5 239.5L655.5 239.5L656.5 239.5L657.5 239.5L658.5 240.5L658.5 241.5L658.5 242.5L658.5 243.5L657.5 244.5L656.5 244.5L655.5 244.5L654.5 244.5L653.5 243.5L653.5 242.5M63.5 471.5L64.5 470.5L65.5 469.5L65.5 477.5M62.5 419.5L62.5 418.5L63.5 417.5L64.5 417.5L65.5 417.5L66.5 417.5L66.5 418.5L67.5 419.5L66.5 420.5L65.5 421.5L62.5 425.5L67.5 425.5M62.5 365.5L67.5 365.5L64.5 368.5L65.5 368.5L66.5 368.5L67.5 369.5L67.5 370.5L67.5 371.5L67.5 372.5L66.5 373.5L65.5 373.5L64.5 373.5L62.5 373.5L62.5 372.5L62.5 371.5M65.5 312.5L62.5 317.5L67.5 317.5M65.5 312.5L65.5 320.5M290.5 281.5L290.5 288.5L291.5 290.5L292.5 291.5L293.5 291.5L294.5 291.5L296.5 291.5L297.5 290.5L297.5 288.5L297.5 281.5M300.5 281.5L304.5 291.5M308.5 281.5L304.5 291.5M325.5 279.5L316.5 294.5M335.5 281.5L335.5 288.5L335.5 290.5L336.5 291.5L338.5 291.5L339.5 291.5L340.5 291.5L341.5 290.5L341.5 288.5L341.5 281.5M344.5 281.5L348.5 291.5M352.5 281.5L348.5 291.5M366.5 284.5L366.5 291.5M366.5 286.5L365.5 285.5L364.5 284.5L363.5 284.5L362.5 285.5L361.5 286.5L361.5 287.5L361.5 288.5L361.5 290.5L362.5 291.5L363.5 291.5L364.5 291.5L365.5 291.5L366.5 290.5M369.5 284.5L372.5 291.5M375.5 284.5L372.5 291.5M378.5 287.5L384.5 287.5L384.5 286.5L383.5 285.5L382.5 284.5L380.5 284.5L379.5 285.5L378.5 286.5L378.5 287.5L378.5 288.5L378.5 290.5L379.5 291.5L380.5 291.5L382.5 291.5L383.5 291.5L384.5 290.5M387.5 284.5L387.5 291.5M387.5 287.5L388.5 286.5L388.5 285.5L389.5 284.5L391.5 284.5M398.5 284.5L398.5 291.5M398.5 286.5L397.5 285.5L396.5 284.5L395.5 284.5L394.5 285.5L393.5 286.5L392.5 287.5L392.5 288.5L393.5 290.5L394.5 291.5L395.5 291.5L396.5 291.5L397.5 291.5L398.5 290.5M408.5 284.5L408.5 292.5L407.5 293.5L407.5 294.5L406.5 294.5L404.5 294.5L403.5 294.5M408.5 286.5L407.5 285.5L406.5 284.5L404.5 284.5L403.5 285.5L402.5 286.5L402.5 287.5L402.5 288.5L402.5 290.5L403.5 291.5L404.5 291.5L406.5 291.5L407.5 291.5L408.5 290.5M411.5 287.5L417.5 287.5L417.5 286.5L416.5 285.5L415.5 284.5L413.5 284.5L413.5 285.5L412.5 286.5L411.5 287.5L411.5 288.5L412.5 290.5L413.5 291.5L415.5 291.5L416.5 291.5L417.5 290.5M427.5 281.5L428.5 281.5L427.5 280.5L427.5 281.5M427.5 284.5L427.5 291.5M431.5 284.5L431.5 291.5M431.5 286.5L433.5 285.5L434.5 284.5L435.5 284.5L436.5 285.5L437.5 286.5L437.5 291.5M452.5 286.5L452.5 285.5L450.5 284.5L449.5 284.5L447.5 285.5L447.5 286.5L447.5 287.5L448.5 287.5L451.5 288.5L452.5 288.5L452.5 289.5L452.5 290.5L452.5 291.5L450.5 291.5L449.5 291.5L447.5 291.5L447.5 290.5M455.5 287.5L461.5 287.5L461.5 286.5L461.5 285.5L460.5 285.5L459.5 284.5L458.5 284.5L457.5 285.5L456.5 286.5L455.5 287.5L455.5 288.5L456.5 290.5L457.5 291.5L458.5 291.5L459.5 291.5L460.5 291.5L461.5 290.5M464.5 281.5L464.5 291.5M468.5 287.5L474.5 287.5L474.5 286.5L473.5 285.5L472.5 284.5L470.5 284.5L469.5 285.5L468.5 286.5L468.5 287.5L468.5 288.5L468.5 290.5L469.5 291.5L470.5 291.5L472.5 291.5L473.5 291.5L474.5 290.5M483.5 286.5L482.5 285.5L481.5 284.5L479.5 284.5L478.5 285.5L477.5 286.5L477.5 287.5L477.5 288.5L477.5 290.5L478.5 291.5L479.5 291.5L481.5 291.5L482.5 291.5L483.5 290.5M486.5 281.5L486.5 289.5L487.5 291.5L488.5 291.5L489.5 291.5M485.5 284.5L488.5 284.5M491.5 287.5L497.5 287.5L497.5 286.5L497.5 285.5L496.5 285.5L495.5 284.5L494.5 284.5L493.5 285.5L492.5 286.5L491.5 287.5L491.5 288.5L492.5 290.5L493.5 291.5L494.5 291.5L495.5 291.5L496.5 291.5L497.5 290.5M506.5 281.5L506.5 291.5M506.5 286.5L505.5 285.5L504.5 284.5L503.5 284.5L502.5 285.5L501.5 286.5L500.5 287.5L500.5 288.5L501.5 290.5L502.5 291.5L503.5 291.5L504.5 291.5L505.5 291.5L506.5 290.5M517.5 284.5L517.5 294.5M517.5 286.5L518.5 285.5L519.5 284.5L520.5 284.5L521.5 285.5L522.5 286.5L523.5 287.5L523.5 288.5L522.5 290.5L521.5 291.5L520.5 291.5L519.5 291.5L518.5 291.5L517.5 290.5M526.5 287.5L532.5 287.5L532.5 286.5L531.5 285.5L530.5 284.5L528.5 284.5L527.5 285.5L526.5 286.5L526.5 287.5L526.5 288.5L526.5 290.5L527.5 291.5L528.5 291.5L530.5 291.5L531.5 291.5L532.5 290.5M535.5 284.5L535.5 291.5M535.5 287.5L535.5 286.5L536.5 285.5L537.5 284.5L539.5 284.5M540.5 281.5L541.5 281.5L541.5 280.5L540.5 281.5M541.5 284.5L541.5 291.5M547.5 284.5L546.5 285.5L545.5 286.5L544.5 287.5L544.5 288.5L545.5 290.5L546.5 291.5L547.5 291.5L548.5 291.5L549.5 291.5L550.5 290.5L551.5 288.5L551.5 287.5L550.5 286.5L549.5 285.5L548.5 284.5L547.5 284.5M560.5 281.5L560.5 291.5M560.5 286.5L559.5 285.5L558.5 284.5L556.5 284.5L555.5 285.5L554.5 286.5L554.5 287.5L554.5 288.5L554.5 290.5L555.5 291.5L556.5 291.5L558.5 291.5L559.5 291.5L560.5 290.5M60.5 511.5L56.5 511.5L56.5 514.5L57.5 514.5L59.5 514.5L60.5 514.5L61.5 515.5L61.5 516.5L61.5 517.5L61.5 518.5L60.5 519.5L59.5 519.5L57.5 519.5L56.5 519.5L56.5 518.5L56.5 517.5M64.5 518.5L64.5 519.5L64.5 518.5M69.5 511.5L68.5 511.5L67.5 512.5L67.5 513.5L68.5 514.5L69.5 514.5L70.5 514.5L71.5 515.5L72.5 516.5L72.5 517.5L72.5 518.5L72.5 519.5L70.5 519.5L69.5 519.5L68.5 519.5L67.5 518.5L67.5 517.5L67.5 516.5L68.5 515.5L69.5 514.5L71.5 514.5L72.5 514.5L72.5 513.5L72.5 512.5L72.5 511.5L70.5 511.5L69.5 511.5M78.5 511.5L75.5 516.5L80.5 516.5M78.5 511.5L78.5 519.5M83.5 513.5L83.5 512.5L83.5 511.5L84.5 511.5L86.5 511.5L87.5 512.5L87.5 513.5L87.5 514.5L86.5 515.5L82.5 519.5L88.5 519.5M92.5 511.5L91.5 511.5L90.5 513.5L90.5 514.5L90.5 516.5L90.5 517.5L91.5 519.5L92.5 519.5L93.5 519.5L94.5 519.5L95.5 517.5L95.5 516.5L95.5 514.5L95.5 513.5L94.5 511.5L93.5 511.5L92.5 511.5M99.5 511.5L98.5 511.5L98.5 512.5L98.5 513.5L98.5 514.5L99.5 514.5L101.5 514.5L102.5 515.5L102.5 516.5L103.5 516.5L103.5 517.5L102.5 518.5L102.5 519.5L101.5 519.5L99.5 519.5L98.5 519.5L98.5 518.5L97.5 517.5L97.5 516.5L98.5 516.5L99.5 515.5L100.5 514.5L101.5 514.5L102.5 514.5L102.5 513.5L102.5 512.5L102.5 511.5L101.5 511.5L99.5 511.5M107.5 511.5L106.5 511.5L105.5 513.5L105.5 514.5L105.5 516.5L105.5 517.5L106.5 519.5L107.5 519.5L108.5 519.5L109.5 519.5L110.5 517.5L110.5 516.5L110.5 514.5L110.5 513.5L109.5 511.5L108.5 511.5L107.5 511.5M243.5 511.5L239.5 511.5L239.5 514.5L240.5 514.5L242.5 514.5L243.5 514.5L244.5 515.5L244.5 516.5L244.5 517.5L244.5 518.5L243.5 519.5L242.5 519.5L240.5 519.5L239.5 519.5L239.5 518.5L239.5 517.5M247.5 518.5L247.5 519.5L247.5 518.5M252.5 511.5L251.5 511.5L250.5 512.5L250.5 513.5L251.5 514.5L252.5 514.5L253.5 514.5L254.5 515.5L255.5 516.5L255.5 517.5L255.5 518.5L255.5 519.5L253.5 519.5L252.5 519.5L251.5 519.5L250.5 518.5L250.5 517.5L250.5 516.5L251.5 515.5L252.5 514.5L254.5 514.5L255.5 514.5L255.5 513.5L255.5 512.5L255.5 511.5L253.5 511.5L252.5 511.5M261.5 511.5L258.5 516.5L263.5 516.5M261.5 511.5L261.5 519.5M266.5 513.5L266.5 512.5L266.5 511.5L267.5 511.5L269.5 511.5L270.5 512.5L270.5 513.5L270.5 514.5L269.5 515.5L265.5 519.5L271.5 519.5M275.5 511.5L274.5 511.5L273.5 513.5L273.5 514.5L273.5 516.5L273.5 517.5L274.5 519.5L275.5 519.5L276.5 519.5L277.5 519.5L278.5 517.5L278.5 516.5L278.5 514.5L278.5 513.5L277.5 511.5L276.5 511.5L275.5 511.5M282.5 511.5L281.5 511.5L281.5 512.5L281.5 513.5L281.5 514.5L282.5 514.5L284.5 514.5L285.5 515.5L285.5 516.5L286.5 516.5L286.5 517.5L285.5 518.5L285.5 519.5L284.5 519.5L282.5 519.5L281.5 519.5L281.5 518.5L280.5 517.5L280.5 516.5L281.5 516.5L282.5 515.5L283.5 514.5L284.5 514.5L285.5 514.5L285.5 513.5L285.5 512.5L285.5 511.5L284.5 511.5L282.5 511.5M293.5 511.5L289.5 511.5L288.5 514.5L289.5 514.5L290.5 514.5L291.5 514.5L292.5 514.5L293.5 515.5L293.5 516.5L293.5 517.5L293.5 518.5L292.5 519.5L291.5 519.5L290.5 519.5L289.5 519.5L288.5 518.5L288.5 517.5M425.5 511.5L421.5 511.5L421.5 514.5L422.5 514.5L424.5 514.5L425.5 514.5L426.5 515.5L426.5 516.5L426.5 517.5L426.5 518.5L425.5 519.5L424.5 519.5L422.5 519.5L421.5 519.5L421.5 518.5L421.5 517.5M429.5 518.5L429.5 519.5L429.5 518.5M434.5 511.5L433.5 511.5L432.5 512.5L432.5 513.5L433.5 514.5L434.5 514.5L435.5 514.5L436.5 515.5L437.5 516.5L437.5 517.5L437.5 518.5L437.5 519.5L435.5 519.5L434.5 519.5L433.5 519.5L432.5 518.5L432.5 517.5L432.5 516.5L433.5 515.5L434.5 514.5L436.5 514.5L437.5 514.5L437.5 513.5L437.5 512.5L437.5 511.5L435.5 511.5L434.5 511.5M443.5 511.5L440.5 516.5L445.5 516.5M443.5 511.5L443.5 519.5M448.5 513.5L448.5 512.5L448.5 511.5L449.5 511.5L451.5 511.5L452.5 512.5L452.5 513.5L452.5 514.5L451.5 515.5L447.5 519.5L453.5 519.5M457.5 511.5L456.5 511.5L455.5 513.5L455.5 514.5L455.5 516.5L455.5 517.5L456.5 519.5L457.5 519.5L458.5 519.5L459.5 519.5L460.5 517.5L460.5 516.5L460.5 514.5L460.5 513.5L459.5 511.5L458.5 511.5L457.5 511.5M467.5 514.5L467.5 515.5L466.5 516.5L465.5 516.5L464.5 516.5L463.5 515.5L462.5 514.5L462.5 513.5L463.5 512.5L464.5 511.5L465.5 511.5L466.5 511.5L467.5 512.5L467.5 514.5L467.5 516.5L467.5 517.5L466.5 519.5L465.5 519.5L464.5 519.5L463.5 519.5L463.5 518.5M472.5 511.5L471.5 511.5L470.5 513.5L470.5 514.5L470.5 516.5L470.5 517.5L471.5 519.5L472.5 519.5L473.5 519.5L474.5 519.5L475.5 517.5L475.5 516.5L475.5 514.5L475.5 513.5L474.5 511.5L473.5 511.5L472.5 511.5M608.5 511.5L604.5 511.5L604.5 514.5L605.5 514.5L607.5 514.5L608.5 514.5L609.5 515.5L609.5 516.5L609.5 517.5L609.5 518.5L608.5 519.5L607.5 519.5L605.5 519.5L604.5 519.5L604.5 518.5L604.5 517.5M612.5 518.5L612.5 519.5L612.5 518.5M617.5 511.5L616.5 511.5L615.5 512.5L615.5 513.5L616.5 514.5L617.5 514.5L618.5 514.5L619.5 515.5L620.5 516.5L620.5 517.5L620.5 518.5L620.5 519.5L618.5 519.5L617.5 519.5L616.5 519.5L615.5 518.5L615.5 517.5L615.5 516.5L616.5 515.5L617.5 514.5L619.5 514.5L620.5 514.5L620.5 513.5L620.5 512.5L620.5 511.5L618.5 511.5L617.5 511.5M626.5 511.5L623.5 516.5L628.5 516.5M626.5 511.5L626.5 519.5M631.5 513.5L631.5 512.5L631.5 511.5L632.5 511.5L634.5 511.5L635.5 512.5L635.5 513.5L635.5 514.5L634.5 515.5L630.5 519.5L636.5 519.5M640.5 511.5L639.5 511.5L638.5 513.5L638.5 514.5L638.5 516.5L638.5 517.5L639.5 519.5L640.5 519.5L641.5 519.5L642.5 519.5L643.5 517.5L643.5 516.5L643.5 514.5L643.5 513.5L642.5 511.5L641.5 511.5L640.5 511.5M650.5 514.5L650.5 515.5L649.5 516.5L648.5 516.5L647.5 516.5L646.5 515.5L645.5 514.5L645.5 513.5L646.5 512.5L647.5 511.5L648.5 511.5L649.5 511.5L650.5 512.5L650.5 514.5L650.5 516.5L650.5 517.5L649.5 519.5L648.5 519.5L647.5 519.5L646.5 519.5L646.5 518.5M658.5 511.5L654.5 511.5L653.5 514.5L654.5 514.5L655.5 514.5L656.5 514.5L657.5 514.5L658.5 515.5L658.5 516.5L658.5 517.5L658.5 518.5L657.5 519.5L656.5 519.5L655.5 519.5L654.5 519.5L653.5 518.5L653.5 517.5M36.5 753.5L37.5 752.5L38.5 751.5L38.5 759.5M43.5 753.5L43.5 752.5L44.5 751.5L46.5 751.5L47.5 751.5L47.5 752.5L48.5 753.5L47.5 754.5L46.5 755.5L43.5 759.5L48.5 759.5M51.5 753.5L52.5 752.5L53.5 751.5L53.5 759.5M59.5 758.5L58.5 759.5L59.5 759.5L59.5 758.5M64.5 751.5L63.5 751.5L62.5 753.5L62.5 754.5L62.5 756.5L62.5 757.5L63.5 759.5L64.5 759.5L65.5 759.5L66.5 759.5L67.5 757.5L67.5 756.5L67.5 754.5L67.5 753.5L66.5 751.5L65.5 751.5L64.5 751.5M36.5 724.5L37.5 723.5L38.5 722.5L38.5 730.5M43.5 724.5L43.5 723.5L44.5 722.5L46.5 722.5L47.5 722.5L47.5 723.5L48.5 724.5L47.5 725.5L46.5 726.5L43.5 730.5L48.5 730.5M51.5 724.5L52.5 723.5L53.5 722.5L53.5 730.5M59.5 729.5L58.5 730.5L59.5 730.5L59.5 729.5M66.5 722.5L62.5 722.5L62.5 725.5L64.5 725.5L65.5 725.5L66.5 725.5L67.5 726.5L67.5 727.5L67.5 728.5L67.5 729.5L66.5 730.5L65.5 730.5L64.5 730.5L62.5 730.5L62.5 729.5L62.5 728.5M36.5 695.5L37.5 694.5L38.5 693.5L38.5 701.5M43.5 695.5L43.5 694.5L44.5 693.5L46.5 693.5L47.5 693.5L47.5 694.5L48.5 695.5L47.5 696.5L46.5 697.5L43.5 701.5L48.5 701.5M51.5 695.5L51.5 694.5L51.5 693.5L52.5 693.5L54.5 693.5L55.5 694.5L55.5 695.5L55.5 696.5L54.5 697.5L50.5 701.5L56.5 701.5M59.5 700.5L58.5 701.5L59.5 701.5L59.5 700.5M64.5 693.5L63.5 693.5L62.5 695.5L62.5 696.5L62.5 698.5L62.5 699.5L63.5 701.5L64.5 701.5L65.5 701.5L66.5 701.5L67.5 699.5L67.5 698.5L67.5 696.5L67.5 695.5L66.5 693.5L65.5 693.5L64.5 693.5M36.5 666.5L37.5 665.5L38.5 664.5L38.5 672.5M43.5 666.5L43.5 665.5L44.5 664.5L46.5 664.5L47.5 664.5L47.5 665.5L48.5 666.5L47.5 667.5L46.5 668.5L43.5 672.5L48.5 672.5M51.5 666.5L51.5 665.5L51.5 664.5L52.5 664.5L54.5 664.5L55.5 665.5L55.5 666.5L55.5 667.5L54.5 668.5L50.5 672.5L56.5 672.5M59.5 671.5L58.5 672.5L59.5 672.5L59.5 671.5M66.5 664.5L62.5 664.5L62.5 667.5L64.5 667.5L65.5 667.5L66.5 667.5L67.5 668.5L67.5 669.5L67.5 670.5L67.5 671.5L66.5 672.5L65.5 672.5L64.5 672.5L62.5 672.5L62.5 671.5L62.5 670.5M36.5 637.5L37.5 636.5L38.5 635.5L38.5 643.5M43.5 637.5L43.5 636.5L44.5 635.5L46.5 635.5L47.5 635.5L47.5 636.5L48.5 637.5L47.5 638.5L46.5 639.5L43.5 643.5L48.5 643.5M51.5 635.5L55.5 635.5L53.5 638.5L54.5 638.5L55.5 638.5L55.5 639.5L56.5 640.5L56.5 641.5L55.5 642.5L54.5 643.5L53.5 643.5L52.5 643.5L51.5 643.5L51.5 642.5L50.5 641.5M59.5 642.5L58.5 643.5L59.5 643.5L59.5 642.5M64.5 635.5L63.5 635.5L62.5 637.5L62.5 638.5L62.5 640.5L62.5 641.5L63.5 643.5L64.5 643.5L65.5 643.5L66.5 643.5L67.5 641.5L67.5 640.5L67.5 638.5L67.5 637.5L66.5 635.5L65.5 635.5L64.5 635.5M36.5 608.5L37.5 607.5L38.5 606.5L38.5 614.5M43.5 608.5L43.5 607.5L44.5 606.5L46.5 606.5L47.5 606.5L47.5 607.5L48.5 608.5L47.5 609.5L46.5 610.5L43.5 614.5L48.5 614.5M51.5 606.5L55.5 606.5L53.5 609.5L54.5 609.5L55.5 609.5L55.5 610.5L56.5 611.5L56.5 612.5L55.5 613.5L54.5 614.5L53.5 614.5L52.5 614.5L51.5 614.5L51.5 613.5L50.5 612.5M59.5 613.5L58.5 614.5L59.5 614.5L59.5 613.5M66.5 606.5L62.5 606.5L62.5 609.5L64.5 609.5L65.5 609.5L66.5 609.5L67.5 610.5L67.5 611.5L67.5 612.5L67.5 613.5L66.5 614.5L65.5 614.5L64.5 614.5L62.5 614.5L62.5 613.5L62.5 612.5M36.5 579.5L37.5 578.5L38.5 577.5L38.5 585.5M43.5 579.5L43.5 578.5L44.5 577.5L46.5 577.5L47.5 577.5L47.5 578.5L48.5 579.5L47.5 580.5L46.5 581.5L43.5 585.5L48.5 585.5M54.5 577.5L50.5 582.5L56.5 582.5M54.5 577.5L54.5 585.5M59.5 584.5L58.5 585.5L59.5 585.5L59.5 584.5M64.5 577.5L63.5 577.5L62.5 579.5L62.5 580.5L62.5 582.5L62.5 583.5L63.5 585.5L64.5 585.5L65.5 585.5L66.5 585.5L67.5 583.5L67.5 582.5L67.5 580.5L67.5 579.5L66.5 577.5L65.5 577.5L64.5 577.5M345.5 557.5L344.5 556.5L343.5 556.5L341.5 556.5L339.5 556.5L338.5 557.5L338.5 558.5L339.5 559.5L339.5 560.5L340.5 560.5L343.5 561.5L344.5 562.5L345.5 562.5L345.5 563.5L345.5 565.5L344.5 566.5L343.5 566.5L341.5 566.5L339.5 566.5L338.5 565.5M349.5 559.5L349.5 564.5L349.5 566.5L350.5 566.5L352.5 566.5L354.5 564.5M354.5 559.5L354.5 566.5M358.5 559.5L358.5 566.5M358.5 561.5L359.5 560.5L360.5 559.5L362.5 559.5L363.5 560.5L363.5 561.5L363.5 566.5M379.5 559.5L374.5 566.5M374.5 559.5L379.5 559.5M374.5 566.5L379.5 566.5M382.5 562.5L388.5 562.5L388.5 561.5L387.5 560.5L386.5 559.5L384.5 559.5L383.5 560.5L382.5 561.5L382.5 562.5L382.5 563.5L382.5 565.5L383.5 566.5L384.5 566.5L386.5 566.5L387.5 566.5L388.5 565.5M391.5 559.5L391.5 566.5M391.5 561.5L393.5 560.5L394.5 559.5L395.5 559.5L396.5 560.5L397.5 561.5L397.5 566.5M400.5 556.5L401.5 556.5L401.5 555.5L400.5 556.5M401.5 559.5L401.5 566.5M405.5 556.5L405.5 564.5L405.5 566.5L406.5 566.5L407.5 566.5M403.5 559.5L407.5 559.5M410.5 556.5L410.5 566.5M410.5 561.5L412.5 560.5L413.5 559.5L414.5 559.5L415.5 560.5L416.5 561.5L416.5 566.5M432.5 559.5L432.5 566.5M432.5 561.5L431.5 560.5L430.5 559.5L428.5 559.5L427.5 560.5L426.5 561.5L426.5 562.5L426.5 563.5L426.5 565.5L427.5 566.5L428.5 566.5L430.5 566.5L431.5 566.5L432.5 565.5M436.5 559.5L436.5 566.5M436.5 561.5L437.5 560.5L438.5 559.5L440.5 559.5L441.5 560.5L441.5 561.5L441.5 566.5M450.5 559.5L450.5 567.5L450.5 568.5L450.5 569.5L449.5 569.5L447.5 569.5L446.5 569.5M450.5 561.5L450.5 560.5L449.5 559.5L447.5 559.5L446.5 560.5L445.5 561.5L445.5 562.5L445.5 563.5L445.5 565.5L446.5 566.5L447.5 566.5L449.5 566.5L450.5 566.5L450.5 565.5M454.5 556.5L454.5 566.5M458.5 562.5L464.5 562.5L464.5 561.5L463.5 560.5L462.5 559.5L460.5 559.5L459.5 560.5L458.5 561.5L458.5 562.5L458.5 563.5L458.5 565.5L459.5 566.5L460.5 566.5L462.5 566.5L463.5 566.5L464.5 565.5M474.5 554.5L474.5 569.5M474.5 554.5L474.5 569.5M474.5 554.5L477.5 554.5M474.5 569.5L477.5 569.5M486.5 556.5L486.5 566.5M486.5 561.5L485.5 560.5L484.5 559.5L483.5 559.5L482.5 560.5L481.5 561.5L480.5 562.5L480.5 563.5L481.5 565.5L482.5 566.5L483.5 566.5L484.5 566.5L485.5 566.5L486.5 565.5M490.5 562.5L496.5 562.5L496.5 561.5L495.5 560.5L494.5 559.5L492.5 559.5L491.5 560.5L490.5 561.5L490.5 562.5L490.5 563.5L490.5 565.5L491.5 566.5L492.5 566.5L494.5 566.5L495.5 566.5L496.5 565.5M504.5 559.5L504.5 567.5L504.5 568.5L503.5 569.5L502.5 569.5L501.5 569.5L500.5 569.5M504.5 561.5L503.5 560.5L502.5 559.5L501.5 559.5L500.5 560.5L499.5 561.5L499.5 562.5L499.5 563.5L499.5 565.5L500.5 566.5L501.5 566.5L502.5 566.5L503.5 566.5L504.5 565.5M511.5 554.5L511.5 569.5M511.5 554.5L511.5 569.5M508.5 554.5L511.5 554.5M508.5 569.5L511.5 569.5M60.5 786.5L56.5 786.5L56.5 789.5L57.5 789.5L59.5 789.5L60.5 789.5L61.5 790.5L61.5 791.5L61.5 792.5L61.5 793.5L60.5 794.5L59.5 794.5L57.5 794.5L56.5 794.5L56.5 793.5L56.5 792.5M64.5 793.5L64.5 794.5L64.5 793.5M69.5 786.5L68.5 786.5L67.5 787.5L67.5 788.5L68.5 789.5L69.5 789.5L70.5 789.5L71.5 790.5L72.5 791.5L72.5 792.5L72.5 793.5L72.5 794.5L70.5 794.5L69.5 794.5L68.5 794.5L67.5 793.5L67.5 792.5L67.5 791.5L68.5 790.5L69.5 789.5L71.5 789.5L72.5 789.5L72.5 788.5L72.5 787.5L72.5 786.5L70.5 786.5L69.5 786.5M78.5 786.5L75.5 791.5L80.5 791.5M78.5 786.5L78.5 794.5M83.5 788.5L83.5 787.5L83.5 786.5L84.5 786.5L86.5 786.5L87.5 787.5L87.5 788.5L87.5 789.5L86.5 790.5L82.5 794.5L88.5 794.5M92.5 786.5L91.5 786.5L90.5 788.5L90.5 789.5L90.5 791.5L90.5 792.5L91.5 794.5L92.5 794.5L93.5 794.5L94.5 794.5L95.5 792.5L95.5 791.5L95.5 789.5L95.5 788.5L94.5 786.5L93.5 786.5L92.5 786.5M99.5 786.5L98.5 786.5L98.5 787.5L98.5 788.5L98.5 789.5L99.5 789.5L101.5 789.5L102.5 790.5L102.5 791.5L103.5 791.5L103.5 792.5L102.5 793.5L102.5 794.5L101.5 794.5L99.5 794.5L98.5 794.5L98.5 793.5L97.5 792.5L97.5 791.5L98.5 791.5L99.5 790.5L100.5 789.5L101.5 789.5L102.5 789.5L102.5 788.5L102.5 787.5L102.5 786.5L101.5 786.5L99.5 786.5M107.5 786.5L106.5 786.5L105.5 788.5L105.5 789.5L105.5 791.5L105.5 792.5L106.5 794.5L107.5 794.5L108.5 794.5L109.5 794.5L110.5 792.5L110.5 791.5L110.5 789.5L110.5 788.5L109.5 786.5L108.5 786.5L107.5 786.5M243.5 786.5L239.5 786.5L239.5 789.5L240.5 789.5L242.5 789.5L243.5 789.5L244.5 790.5L244.5 791.5L244.5 792.5L244.5 793.5L243.5 794.5L242.5 794.5L240.5 794.5L239.5 794.5L239.5 793.5L239.5 792.5M247.5 793.5L247.5 794.5L247.5 793.5M252.5 786.5L251.5 786.5L250.5 787.5L250.5 788.5L251.5 789.5L252.5 789.5L253.5 789.5L254.5 790.5L255.5 791.5L255.5 792.5L255.5 793.5L255.5 794.5L253.5 794.5L252.5 794.5L251.5 794.5L250.5 793.5L250.5 792.5L250.5 791.5L251.5 790.5L252.5 789.5L254.5 789.5L255.5 789.5L255.5 788.5L255.5 787.5L255.5 786.5L253.5 786.5L252.5 786.5M261.5 786.5L258.5 791.5L263.5 791.5M261.5 786.5L261.5 794.5M266.5 788.5L266.5 787.5L266.5 786.5L267.5 786.5L269.5 786.5L270.5 787.5L270.5 788.5L270.5 789.5L269.5 790.5L265.5 794.5L271.5 794.5M275.5 786.5L274.5 786.5L273.5 788.5L273.5 789.5L273.5 791.5L273.5 792.5L274.5 794.5L275.5 794.5L276.5 794.5L277.5 794.5L278.5 792.5L278.5 791.5L278.5 789.5L278.5 788.5L277.5 786.5L276.5 786.5L275.5 786.5M282.5 786.5L281.5 786.5L281.5 787.5L281.5 788.5L281.5 789.5L282.5 789.5L284.5 789.5L285.5 790.5L285.5 791.5L286.5 791.5L286.5 792.5L285.5 793.5L285.5 794.5L284.5 794.5L282.5 794.5L281.5 794.5L281.5 793.5L280.5 792.5L280.5 791.5L281.5 791.5L282.5 790.5L283.5 789.5L284.5 789.5L285.5 789.5L285.5 788.5L285.5 787.5L285.5 786.5L284.5 786.5L282.5 786.5M293.5 786.5L289.5 786.5L288.5 789.5L289.5 789.5L290.5 789.5L291.5 789.5L292.5 789.5L293.5 790.5L293.5 791.5L293.5 792.5L293.5 793.5L292.5 794.5L291.5 794.5L290.5 794.5L289.5 794.5L288.5 793.5L288.5 792.5M425.5 786.5L421.5 786.5L421.5 789.5L422.5 789.5L424.5 789.5L425.5 789.5L426.5 790.5L426.5 791.5L426.5 792.5L426.5 793.5L425.5 794.5L424.5 794.5L422.5 794.5L421.5 794.5L421.5 793.5L421.5 792.5M429.5 793.5L429.5 794.5L429.5 793.5M434.5 786.5L433.5 786.5L432.5 787.5L432.5 788.5L433.5 789.5L434.5 789.5L435.5 789.5L436.5 790.5L437.5 791.5L437.5 792.5L437.5 793.5L437.5 794.5L435.5 794.5L434.5 794.5L433.5 794.5L432.5 793.5L432.5 792.5L432.5 791.5L433.5 790.5L434.5 789.5L436.5 789.5L437.5 789.5L437.5 788.5L437.5 787.5L437.5 786.5L435.5 786.5L434.5 786.5M443.5 786.5L440.5 791.5L445.5 791.5M443.5 786.5L443.5 794.5M448.5 788.5L448.5 787.5L448.5 786.5L449.5 786.5L451.5 786.5L452.5 787.5L452.5 788.5L452.5 789.5L451.5 790.5L447.5 794.5L453.5 794.5M457.5 786.5L456.5 786.5L455.5 788.5L455.5 789.5L455.5 791.5L455.5 792.5L456.5 794.5L457.5 794.5L458.5 794.5L459.5 794.5L460.5 792.5L460.5 791.5L460.5 789.5L460.5 788.5L459.5 786.5L458.5 786.5L457.5 786.5M467.5 789.5L467.5 790.5L466.5 791.5L465.5 791.5L464.5 791.5L463.5 790.5L462.5 789.5L462.5 788.5L463.5 787.5L464.5 786.5L465.5 786.5L466.5 786.5L467.5 787.5L467.5 789.5L467.5 791.5L467.5 792.5L466.5 794.5L465.5 794.5L464.5 794.5L463.5 794.5L463.5 793.5M472.5 786.5L471.5 786.5L470.5 788.5L470.5 789.5L470.5 791.5L470.5 792.5L471.5 794.5L472.5 794.5L473.5 794.5L474.5 794.5L475.5 792.5L475.5 791.5L475.5 789.5L475.5 788.5L474.5 786.5L473.5 786.5L472.5 786.5M608.5 786.5L604.5 786.5L604.5 789.5L605.5 789.5L607.5 789.5L608.5 789.5L609.5 790.5L609.5 791.5L609.5 792.5L609.5 793.5L608.5 794.5L607.5 794.5L605.5 794.5L604.5 794.5L604.5 793.5L604.5 792.5M612.5 793.5L612.5 794.5L612.5 793.5M617.5 786.5L616.5 786.5L615.5 787.5L615.5 788.5L616.5 789.5L617.5 789.5L618.5 789.5L619.5 790.5L620.5 791.5L620.5 792.5L620.5 793.5L620.5 794.5L618.5 794.5L617.5 794.5L616.5 794.5L615.5 793.5L615.5 792.5L615.5 791.5L616.5 790.5L617.5 789.5L619.5 789.5L620.5 789.5L620.5 788.5L620.5 787.5L620.5 786.5L618.5 786.5L617.5 786.5M626.5 786.5L623.5 791.5L628.5 791.5M626.5 786.5L626.5 794.5M631.5 788.5L631.5 787.5L631.5 786.5L632.5 786.5L634.5 786.5L635.5 787.5L635.5 788.5L635.5 789.5L634.5 790.5L630.5 794.5L636.5 794.5M640.5 786.5L639.5 786.5L638.5 788.5L638.5 789.5L638.5 791.5L638.5 792.5L639.5 794.5L640.5 794.5L641.5 794.5L642.5 794.5L643.5 792.5L643.5 791.5L643.5 789.5L643.5 788.5L642.5 786.5L641.5 786.5L640.5 786.5M650.5 789.5L650.5 790.5L649.5 791.5L648.5 791.5L647.5 791.5L646.5 790.5L645.5 789.5L645.5 788.5L646.5 787.5L647.5 786.5L648.5 786.5L649.5 786.5L650.5 787.5L650.5 789.5L650.5 791.5L650.5 792.5L649.5 794.5L648.5 794.5L647.5 794.5L646.5 794.5L646.5 793.5M658.5 786.5L654.5 786.5L653.5 789.5L654.5 789.5L655.5 789.5L656.5 789.5L657.5 789.5L658.5 790.5L658.5 791.5L658.5 792.5L658.5 793.5L657.5 794.5L656.5 794.5L655.5 794.5L654.5 794.5L653.5 793.5L653.5 792.5M48.5 1029.5L48.5 1028.5L49.5 1027.5L49.5 1035.5M56.5 1027.5L55.5 1027.5L54.5 1029.5L54.5 1030.5L54.5 1032.5L54.5 1033.5L55.5 1035.5L56.5 1035.5L57.5 1035.5L58.5 1035.5L59.5 1033.5L59.5 1032.5L59.5 1030.5L59.5 1029.5L58.5 1027.5L57.5 1027.5L56.5 1027.5M64.5 1027.5L63.5 1027.5L62.5 1029.5L62.5 1030.5L62.5 1032.5L62.5 1033.5L63.5 1035.5L64.5 1035.5L65.5 1035.5L66.5 1035.5L67.5 1033.5L67.5 1032.5L67.5 1030.5L67.5 1029.5L66.5 1027.5L65.5 1027.5L64.5 1027.5M48.5 968.5L48.5 967.5L49.5 966.5L49.5 974.5M56.5 966.5L55.5 966.5L54.5 968.5L54.5 969.5L54.5 971.5L54.5 972.5L55.5 974.5L56.5 974.5L57.5 974.5L58.5 974.5L59.5 972.5L59.5 971.5L59.5 969.5L59.5 968.5L58.5 966.5L57.5 966.5L56.5 966.5M66.5 966.5L62.5 966.5L62.5 969.5L64.5 969.5L65.5 969.5L66.5 969.5L67.5 970.5L67.5 971.5L67.5 972.5L67.5 973.5L66.5 974.5L65.5 974.5L64.5 974.5L62.5 974.5L62.5 973.5L62.5 972.5M48.5 908.5L48.5 907.5L49.5 906.5L49.5 914.5M55.5 908.5L56.5 907.5L57.5 906.5L57.5 914.5M64.5 906.5L63.5 906.5L62.5 908.5L62.5 909.5L62.5 911.5L62.5 912.5L63.5 914.5L64.5 914.5L65.5 914.5L66.5 914.5L67.5 912.5L67.5 911.5L67.5 909.5L67.5 908.5L66.5 906.5L65.5 906.5L64.5 906.5M48.5 850.5L48.5 849.5L49.5 848.5L49.5 856.5M55.5 850.5L56.5 849.5L57.5 848.5L57.5 856.5M66.5 848.5L62.5 848.5L62.5 851.5L64.5 851.5L65.5 851.5L66.5 851.5L67.5 852.5L67.5 853.5L67.5 854.5L67.5 855.5L66.5 856.5L65.5 856.5L64.5 856.5L62.5 856.5L62.5 855.5L62.5 854.5M333.5 831.5L333.5 841.5M333.5 831.5L337.5 841.5M341.5 831.5L337.5 841.5M341.5 831.5L341.5 841.5M347.5 834.5L346.5 835.5L345.5 836.5L344.5 837.5L344.5 838.5L345.5 840.5L346.5 841.5L347.5 841.5L348.5 841.5L349.5 841.5L350.5 840.5L351.5 838.5L351.5 837.5L350.5 836.5L349.5 835.5L348.5 834.5L347.5 834.5M356.5 834.5L355.5 835.5L354.5 836.5L354.5 837.5L354.5 838.5L354.5 840.5L355.5 841.5L356.5 841.5L358.5 841.5L359.5 841.5L360.5 840.5L360.5 838.5L360.5 837.5L360.5 836.5L359.5 835.5L358.5 834.5L356.5 834.5M364.5 834.5L364.5 841.5M364.5 836.5L365.5 835.5L366.5 834.5L367.5 834.5L368.5 835.5L369.5 836.5L369.5 841.5M385.5 834.5L379.5 841.5M379.5 834.5L385.5 834.5M379.5 841.5L385.5 841.5M388.5 837.5L393.5 837.5L393.5 836.5L393.5 835.5L392.5 835.5L391.5 834.5L390.5 834.5L389.5 835.5L388.5 836.5L388.5 837.5L388.5 838.5L388.5 840.5L389.5 841.5L390.5 841.5L391.5 841.5L392.5 841.5L393.5 840.5M397.5 834.5L397.5 841.5M397.5 836.5L398.5 835.5L399.5 834.5L401.5 834.5L402.5 835.5L402.5 836.5L402.5 841.5M406.5 831.5L407.5 831.5L406.5 830.5L406.5 831.5M406.5 834.5L406.5 841.5M411.5 831.5L411.5 839.5L411.5 841.5L412.5 841.5L413.5 841.5M409.5 834.5L413.5 834.5M416.5 831.5L416.5 841.5M416.5 836.5L417.5 835.5L418.5 834.5L420.5 834.5L421.5 835.5L421.5 836.5L421.5 841.5M437.5 834.5L437.5 841.5M437.5 836.5L437.5 835.5L436.5 834.5L434.5 834.5L433.5 835.5L432.5 836.5L432.5 837.5L432.5 838.5L432.5 840.5L433.5 841.5L434.5 841.5L436.5 841.5L437.5 841.5L437.5 840.5M441.5 834.5L441.5 841.5M441.5 836.5L443.5 835.5L444.5 834.5L445.5 834.5L446.5 835.5L447.5 836.5L447.5 841.5M456.5 834.5L456.5 842.5L456.5 843.5L455.5 844.5L454.5 844.5L453.5 844.5L452.5 844.5M456.5 836.5L455.5 835.5L454.5 834.5L453.5 834.5L452.5 835.5L451.5 836.5L450.5 837.5L450.5 838.5L451.5 840.5L452.5 841.5L453.5 841.5L454.5 841.5L455.5 841.5L456.5 840.5M460.5 831.5L460.5 841.5M463.5 837.5L469.5 837.5L469.5 836.5L469.5 835.5L468.5 835.5L467.5 834.5L466.5 834.5L465.5 835.5L464.5 836.5L463.5 837.5L463.5 838.5L464.5 840.5L465.5 841.5L466.5 841.5L467.5 841.5L468.5 841.5L469.5 840.5M480.5 829.5L480.5 844.5M480.5 829.5L480.5 844.5M480.5 829.5L483.5 829.5M480.5 844.5L483.5 844.5M492.5 831.5L492.5 841.5M492.5 836.5L491.5 835.5L490.5 834.5L488.5 834.5L487.5 835.5L486.5 836.5L486.5 837.5L486.5 838.5L486.5 840.5L487.5 841.5L488.5 841.5L490.5 841.5L491.5 841.5L492.5 840.5M495.5 837.5L501.5 837.5L501.5 836.5L501.5 835.5L500.5 835.5L499.5 834.5L498.5 834.5L497.5 835.5L496.5 836.5L495.5 837.5L495.5 838.5L496.5 840.5L497.5 841.5L498.5 841.5L499.5 841.5L500.5 841.5L501.5 840.5M510.5 834.5L510.5 842.5L510.5 843.5L509.5 844.5L508.5 844.5L507.5 844.5L506.5 844.5M510.5 836.5L509.5 835.5L508.5 834.5L507.5 834.5L506.5 835.5L505.5 836.5L504.5 837.5L504.5 838.5L505.5 840.5L506.5 841.5L507.5 841.5L508.5 841.5L509.5 841.5L510.5 840.5M516.5 829.5L516.5 844.5M517.5 829.5L517.5 844.5M513.5 829.5L517.5 829.5M513.5 844.5L517.5 844.5M60.5 1061.5L56.5 1061.5L56.5 1064.5L57.5 1064.5L59.5 1064.5L60.5 1064.5L61.5 1065.5L61.5 1066.5L61.5 1067.5L61.5 1068.5L60.5 1069.5L59.5 1069.5L57.5 1069.5L56.5 1069.5L56.5 1068.5L56.5 1067.5M64.5 1068.5L64.5 1069.5L64.5 1068.5M69.5 1061.5L68.5 1061.5L67.5 1062.5L67.5 1063.5L68.5 1064.5L69.5 1064.5L70.5 1064.5L71.5 1065.5L72.5 1066.5L72.5 1067.5L72.5 1068.5L72.5 1069.5L70.5 1069.5L69.5 1069.5L68.5 1069.5L67.5 1068.5L67.5 1067.5L67.5 1066.5L68.5 1065.5L69.5 1064.5L71.5 1064.5L72.5 1064.5L72.5 1063.5L72.5 1062.5L72.5 1061.5L70.5 1061.5L69.5 1061.5M78.5 1061.5L75.5 1066.5L80.5 1066.5M78.5 1061.5L78.5 1069.5M83.5 1063.5L83.5 1062.5L83.5 1061.5L84.5 1061.5L86.5 1061.5L87.5 1062.5L87.5 1063.5L87.5 1064.5L86.5 1065.5L82.5 1069.5L88.5 1069.5M92.5 1061.5L91.5 1061.5L90.5 1063.5L90.5 1064.5L90.5 1066.5L90.5 1067.5L91.5 1069.5L92.5 1069.5L93.5 1069.5L94.5 1069.5L95.5 1067.5L95.5 1066.5L95.5 1064.5L95.5 1063.5L94.5 1061.5L93.5 1061.5L92.5 1061.5M99.5 1061.5L98.5 1061.5L98.5 1062.5L98.5 1063.5L98.5 1064.5L99.5 1064.5L101.5 1064.5L102.5 1065.5L102.5 1066.5L103.5 1066.5L103.5 1067.5L102.5 1068.5L102.5 1069.5L101.5 1069.5L99.5 1069.5L98.5 1069.5L98.5 1068.5L97.5 1067.5L97.5 1066.5L98.5 1066.5L99.5 1065.5L100.5 1064.5L101.5 1064.5L102.5 1064.5L102.5 1063.5L102.5 1062.5L102.5 1061.5L101.5 1061.5L99.5 1061.5M107.5 1061.5L106.5 1061.5L105.5 1063.5L105.5 1064.5L105.5 1066.5L105.5 1067.5L106.5 1069.5L107.5 1069.5L108.5 1069.5L109.5 1069.5L110.5 1067.5L110.5 1066.5L110.5 1064.5L110.5 1063.5L109.5 1061.5L108.5 1061.5L107.5 1061.5M243.5 1061.5L239.5 1061.5L239.5 1064.5L240.5 1064.5L242.5 1064.5L243.5 1064.5L244.5 1065.5L244.5 1066.5L244.5 1067.5L244.5 1068.5L243.5 1069.5L242.5 1069.5L240.5 1069.5L239.5 1069.5L239.5 1068.5L239.5 1067.5M247.5 1068.5L247.5 1069.5L247.5 1068.5M252.5 1061.5L251.5 1061.5L250.5 1062.5L250.5 1063.5L251.5 1064.5L252.5 1064.5L253.5 1064.5L254.5 1065.5L255.5 1066.5L255.5 1067.5L255.5 1068.5L255.5 1069.5L253.5 1069.5L252.5 1069.5L251.5 1069.5L250.5 1068.5L250.5 1067.5L250.5 1066.5L251.5 1065.5L252.5 1064.5L254.5 1064.5L255.5 1064.5L255.5 1063.5L255.5 1062.5L255.5 1061.5L253.5 1061.5L252.5 1061.5M261.5 1061.5L258.5 1066.5L263.5 1066.5M261.5 1061.5L261.5 1069.5M266.5 1063.5L266.5 1062.5L266.5 1061.5L267.5 1061.5L269.5 1061.5L270.5 1062.5L270.5 1063.5L270.5 1064.5L269.5 1065.5L265.5 1069.5L271.5 1069.5M275.5 1061.5L274.5 1061.5L273.5 1063.5L273.5 1064.5L273.5 1066.5L273.5 1067.5L274.5 1069.5L275.5 1069.5L276.5 1069.5L277.5 1069.5L278.5 1067.5L278.5 1066.5L278.5 1064.5L278.5 1063.5L277.5 1061.5L276.5 1061.5L275.5 1061.5M282.5 1061.5L281.5 1061.5L281.5 1062.5L281.5 1063.5L281.5 1064.5L282.5 1064.5L284.5 1064.5L285.5 1065.5L285.5 1066.5L286.5 1066.5L286.5 1067.5L285.5 1068.5L285.5 1069.5L284.5 1069.5L282.5 1069.5L281.5 1069.5L281.5 1068.5L280.5 1067.5L280.5 1066.5L281.5 1066.5L282.5 1065.5L283.5 1064.5L284.5 1064.5L285.5 1064.5L285.5 1063.5L285.5 1062.5L285.5 1061.5L284.5 1061.5L282.5 1061.5M293.5 1061.5L289.5 1061.5L288.5 1064.5L289.5 1064.5L290.5 1064.5L291.5 1064.5L292.5 1064.5L293.5 1065.5L293.5 1066.5L293.5 1067.5L293.5 1068.5L292.5 1069.5L291.5 1069.5L290.5 1069.5L289.5 1069.5L288.5 1068.5L288.5 1067.5M425.5 1061.5L421.5 1061.5L421.5 1064.5L422.5 1064.5L424.5 1064.5L425.5 1064.5L426.5 1065.5L426.5 1066.5L426.5 1067.5L426.5 1068.5L425.5 1069.5L424.5 1069.5L422.5 1069.5L421.5 1069.5L421.5 1068.5L421.5 1067.5M429.5 1068.5L429.5 1069.5L429.5 1068.5M434.5 1061.5L433.5 1061.5L432.5 1062.5L432.5 1063.5L433.5 1064.5L434.5 1064.5L435.5 1064.5L436.5 1065.5L437.5 1066.5L437.5 1067.5L437.5 1068.5L437.5 1069.5L435.5 1069.5L434.5 1069.5L433.5 1069.5L432.5 1068.5L432.5 1067.5L432.5 1066.5L433.5 1065.5L434.5 1064.5L436.5 1064.5L437.5 1064.5L437.5 1063.5L437.5 1062.5L437.5 1061.5L435.5 1061.5L434.5 1061.5M443.5 1061.5L440.5 1066.5L445.5 1066.5M443.5 1061.5L443.5 1069.5M448.5 1063.5L448.5 1062.5L448.5 1061.5L449.5 1061.5L451.5 1061.5L452.5 1062.5L452.5 1063.5L452.5 1064.5L451.5 1065.5L447.5 1069.5L453.5 1069.5M457.5 1061.5L456.5 1061.5L455.5 1063.5L455.5 1064.5L455.5 1066.5L455.5 1067.5L456.5 1069.5L457.5 1069.5L458.5 1069.5L459.5 1069.5L460.5 1067.5L460.5 1066.5L460.5 1064.5L460.5 1063.5L459.5 1061.5L458.5 1061.5L457.5 1061.5M467.5 1064.5L467.5 1065.5L466.5 1066.5L465.5 1066.5L464.5 1066.5L463.5 1065.5L462.5 1064.5L462.5 1063.5L463.5 1062.5L464.5 1061.5L465.5 1061.5L466.5 1061.5L467.5 1062.5L467.5 1064.5L467.5 1066.5L467.5 1067.5L466.5 1069.5L465.5 1069.5L464.5 1069.5L463.5 1069.5L463.5 1068.5M472.5 1061.5L471.5 1061.5L470.5 1063.5L470.5 1064.5L470.5 1066.5L470.5 1067.5L471.5 1069.5L472.5 1069.5L473.5 1069.5L474.5 1069.5L475.5 1067.5L475.5 1066.5L475.5 1064.5L475.5 1063.5L474.5 1061.5L473.5 1061.5L472.5 1061.5M608.5 1061.5L604.5 1061.5L604.5 1064.5L605.5 1064.5L607.5 1064.5L608.5 1064.5L609.5 1065.5L609.5 1066.5L609.5 1067.5L609.5 1068.5L608.5 1069.5L607.5 1069.5L605.5 1069.5L604.5 1069.5L604.5 1068.5L604.5 1067.5M612.5 1068.5L612.5 1069.5L612.5 1068.5M617.5 1061.5L616.5 1061.5L615.5 1062.5L615.5 1063.5L616.5 1064.5L617.5 1064.5L618.5 1064.5L619.5 1065.5L620.5 1066.5L620.5 1067.5L620.5 1068.5L620.5 1069.5L618.5 1069.5L617.5 1069.5L616.5 1069.5L615.5 1068.5L615.5 1067.5L615.5 1066.5L616.5 1065.5L617.5 1064.5L619.5 1064.5L620.5 1064.5L620.5 1063.5L620.5 1062.5L620.5 1061.5L618.5 1061.5L617.5 1061.5M626.5 1061.5L623.5 1066.5L628.5 1066.5M626.5 1061.5L626.5 1069.5M631.5 1063.5L631.5 1062.5L631.5 1061.5L632.5 1061.5L634.5 1061.5L635.5 1062.5L635.5 1063.5L635.5 1064.5L634.5 1065.5L630.5 1069.5L636.5 1069.5M640.5 1061.5L639.5 1061.5L638.5 1063.5L638.5 1064.5L638.5 1066.5L638.5 1067.5L639.5 1069.5L640.5 1069.5L641.5 1069.5L642.5 1069.5L643.5 1067.5L643.5 1066.5L643.5 1064.5L643.5 1063.5L642.5 1061.5L641.5 1061.5L640.5 1061.5M650.5 1064.5L650.5 1065.5L649.5 1066.5L648.5 1066.5L647.5 1066.5L646.5 1065.5L645.5 1064.5L645.5 1063.5L646.5 1062.5L647.5 1061.5L648.5 1061.5L649.5 1061.5L650.5 1062.5L650.5 1064.5L650.5 1066.5L650.5 1067.5L649.5 1069.5L648.5 1069.5L647.5 1069.5L646.5 1069.5L646.5 1068.5M658.5 1061.5L654.5 1061.5L653.5 1064.5L654.5 1064.5L655.5 1064.5L656.5 1064.5L657.5 1064.5L658.5 1065.5L658.5 1066.5L658.5 1067.5L658.5 1068.5L657.5 1069.5L656.5 1069.5L655.5 1069.5L654.5 1069.5L653.5 1068.5L653.5 1067.5M854.5 753.5L855.5 752.5L855.5 751.5L856.5 751.5L857.5 751.5L858.5 751.5L859.5 752.5L859.5 753.5L859.5 754.5L858.5 755.5L854.5 759.5L859.5 759.5M864.5 751.5L863.5 751.5L862.5 753.5L862.5 754.5L862.5 756.5L862.5 757.5L863.5 759.5L864.5 759.5L865.5 759.5L866.5 759.5L867.5 757.5L867.5 756.5L867.5 754.5L867.5 753.5L866.5 751.5L865.5 751.5L864.5 751.5M855.5 693.5L859.5 693.5L857.5 696.5L858.5 696.5L859.5 696.5L859.5 697.5L859.5 698.5L859.5 699.5L859.5 700.5L858.5 701.5L857.5 701.5L856.5 701.5L855.5 701.5L854.5 700.5L854.5 699.5M864.5 693.5L863.5 693.5L862.5 695.5L862.5 696.5L862.5 698.5L862.5 699.5L863.5 701.5L864.5 701.5L865.5 701.5L866.5 701.5L867.5 699.5L867.5 698.5L867.5 696.5L867.5 695.5L866.5 693.5L865.5 693.5L864.5 693.5M858.5 636.5L854.5 641.5L860.5 641.5M858.5 636.5L858.5 644.5M864.5 636.5L863.5 636.5L862.5 638.5L862.5 639.5L862.5 641.5L862.5 642.5L863.5 644.5L864.5 644.5L865.5 644.5L866.5 644.5L867.5 642.5L867.5 641.5L867.5 639.5L867.5 638.5L866.5 636.5L865.5 636.5L864.5 636.5M859.5 579.5L855.5 579.5L854.5 582.5L855.5 582.5L856.5 582.5L857.5 582.5L858.5 582.5L859.5 583.5L859.5 584.5L859.5 585.5L859.5 586.5L858.5 587.5L857.5 587.5L856.5 587.5L855.5 587.5L854.5 586.5L854.5 585.5M864.5 579.5L863.5 579.5L862.5 581.5L862.5 582.5L862.5 584.5L862.5 585.5L863.5 587.5L864.5 587.5L865.5 587.5L866.5 587.5L867.5 585.5L867.5 584.5L867.5 582.5L867.5 581.5L866.5 579.5L865.5 579.5L864.5 579.5M1173.5 556.5L1173.5 566.5M1173.5 566.5L1178.5 566.5M1186.5 559.5L1186.5 566.5M1186.5 561.5L1185.5 560.5L1184.5 559.5L1183.5 559.5L1182.5 560.5L1181.5 561.5L1180.5 562.5L1180.5 563.5L1181.5 565.5L1182.5 566.5L1183.5 566.5L1184.5 566.5L1185.5 566.5L1186.5 565.5M1191.5 556.5L1191.5 564.5L1191.5 566.5L1192.5 566.5L1193.5 566.5M1189.5 559.5L1193.5 559.5M1196.5 556.5L1197.5 556.5L1196.5 555.5L1196.5 556.5M1196.5 559.5L1196.5 566.5M1201.5 556.5L1201.5 564.5L1201.5 566.5L1202.5 566.5L1203.5 566.5M1199.5 559.5L1202.5 559.5M1206.5 559.5L1206.5 564.5L1206.5 566.5L1207.5 566.5L1209.5 566.5L1210.5 566.5L1211.5 564.5M1211.5 559.5L1211.5 566.5M1221.5 556.5L1221.5 566.5M1221.5 561.5L1220.5 560.5L1219.5 559.5L1217.5 559.5L1216.5 560.5L1215.5 561.5L1215.5 562.5L1215.5 563.5L1215.5 565.5L1216.5 566.5L1217.5 566.5L1219.5 566.5L1220.5 566.5L1221.5 565.5M1224.5 562.5L1230.5 562.5L1230.5 561.5L1229.5 560.5L1228.5 559.5L1226.5 559.5L1225.5 560.5L1225.5 561.5L1224.5 562.5L1224.5 563.5L1225.5 565.5L1225.5 566.5L1226.5 566.5L1228.5 566.5L1229.5 566.5L1230.5 565.5M1240.5 554.5L1240.5 569.5M1241.5 554.5L1241.5 569.5M1240.5 554.5L1244.5 554.5M1240.5 569.5L1244.5 569.5M1252.5 556.5L1252.5 566.5M1252.5 561.5L1251.5 560.5L1250.5 559.5L1249.5 559.5L1248.5 560.5L1247.5 561.5L1247.5 562.5L1247.5 563.5L1247.5 565.5L1248.5 566.5L1249.5 566.5L1250.5 566.5L1251.5 566.5L1252.5 565.5M1256.5 562.5L1262.5 562.5L1262.5 561.5L1261.5 560.5L1260.5 559.5L1258.5 559.5L1257.5 560.5L1256.5 561.5L1256.5 562.5L1256.5 563.5L1256.5 565.5L1257.5 566.5L1258.5 566.5L1260.5 566.5L1261.5 566.5L1262.5 565.5M1271.5 559.5L1271.5 567.5L1270.5 568.5L1270.5 569.5L1269.5 569.5L1267.5 569.5L1266.5 569.5M1271.5 561.5L1270.5 560.5L1269.5 559.5L1267.5 559.5L1266.5 560.5L1265.5 561.5L1265.5 562.5L1265.5 563.5L1265.5 565.5L1266.5 566.5L1267.5 566.5L1269.5 566.5L1270.5 566.5L1271.5 565.5M1277.5 554.5L1277.5 569.5M1277.5 554.5L1277.5 569.5M1274.5 554.5L1277.5 554.5M1274.5 569.5L1277.5 569.5M860.5 786.5L856.5 786.5L856.5 789.5L857.5 789.5L859.5 789.5L860.5 789.5L861.5 790.5L861.5 791.5L861.5 792.5L861.5 793.5L860.5 794.5L859.5 794.5L857.5 794.5L856.5 794.5L856.5 793.5L856.5 792.5M864.5 793.5L864.5 794.5L864.5 793.5M869.5 786.5L868.5 786.5L867.5 787.5L867.5 788.5L868.5 789.5L869.5 789.5L870.5 789.5L871.5 790.5L872.5 791.5L872.5 792.5L872.5 793.5L872.5 794.5L870.5 794.5L869.5 794.5L868.5 794.5L867.5 793.5L867.5 792.5L867.5 791.5L868.5 790.5L869.5 789.5L871.5 789.5L872.5 789.5L872.5 788.5L872.5 787.5L872.5 786.5L870.5 786.5L869.5 786.5M878.5 786.5L875.5 791.5L880.5 791.5M878.5 786.5L878.5 794.5M883.5 788.5L883.5 787.5L883.5 786.5L884.5 786.5L886.5 786.5L887.5 787.5L887.5 788.5L887.5 789.5L886.5 790.5L882.5 794.5L888.5 794.5M892.5 786.5L891.5 786.5L890.5 788.5L890.5 789.5L890.5 791.5L890.5 792.5L891.5 794.5L892.5 794.5L893.5 794.5L894.5 794.5L895.5 792.5L895.5 791.5L895.5 789.5L895.5 788.5L894.5 786.5L893.5 786.5L892.5 786.5M899.5 786.5L898.5 786.5L898.5 787.5L898.5 788.5L898.5 789.5L899.5 789.5L901.5 789.5L902.5 790.5L902.5 791.5L903.5 791.5L903.5 792.5L902.5 793.5L902.5 794.5L901.5 794.5L899.5 794.5L898.5 794.5L898.5 793.5L897.5 792.5L897.5 791.5L898.5 791.5L899.5 790.5L900.5 789.5L901.5 789.5L902.5 789.5L902.5 788.5L902.5 787.5L902.5 786.5L901.5 786.5L899.5 786.5M907.5 786.5L906.5 786.5L905.5 788.5L905.5 789.5L905.5 791.5L905.5 792.5L906.5 794.5L907.5 794.5L908.5 794.5L909.5 794.5L910.5 792.5L910.5 791.5L910.5 789.5L910.5 788.5L909.5 786.5L908.5 786.5L907.5 786.5M1043.5 786.5L1039.5 786.5L1039.5 789.5L1040.5 789.5L1042.5 789.5L1043.5 789.5L1044.5 790.5L1044.5 791.5L1044.5 792.5L1044.5 793.5L1043.5 794.5L1042.5 794.5L1040.5 794.5L1039.5 794.5L1039.5 793.5L1039.5 792.5M1047.5 793.5L1047.5 794.5L1047.5 793.5M1052.5 786.5L1051.5 786.5L1050.5 787.5L1050.5 788.5L1051.5 789.5L1052.5 789.5L1053.5 789.5L1054.5 790.5L1055.5 791.5L1055.5 792.5L1055.5 793.5L1055.5 794.5L1053.5 794.5L1052.5 794.5L1051.5 794.5L1050.5 793.5L1050.5 792.5L1050.5 791.5L1051.5 790.5L1052.5 789.5L1054.5 789.5L1055.5 789.5L1055.5 788.5L1055.5 787.5L1055.5 786.5L1053.5 786.5L1052.5 786.5M1061.5 786.5L1058.5 791.5L1063.5 791.5M1061.5 786.5L1061.5 794.5M1066.5 788.5L1066.5 787.5L1066.5 786.5L1067.5 786.5L1069.5 786.5L1070.5 787.5L1070.5 788.5L1070.5 789.5L1069.5 790.5L1065.5 794.5L1071.5 794.5M1075.5 786.5L1074.5 786.5L1073.5 788.5L1073.5 789.5L1073.5 791.5L1073.5 792.5L1074.5 794.5L1075.5 794.5L1076.5 794.5L1077.5 794.5L1078.5 792.5L1078.5 791.5L1078.5 789.5L1078.5 788.5L1077.5 786.5L1076.5 786.5L1075.5 786.5M1082.5 786.5L1081.5 786.5L1081.5 787.5L1081.5 788.5L1081.5 789.5L1082.5 789.5L1084.5 789.5L1085.5 790.5L1085.5 791.5L1086.5 791.5L1086.5 792.5L1085.5 793.5L1085.5 794.5L1084.5 794.5L1082.5 794.5L1081.5 794.5L1081.5 793.5L1080.5 792.5L1080.5 791.5L1081.5 791.5L1082.5 790.5L1083.5 789.5L1084.5 789.5L1085.5 789.5L1085.5 788.5L1085.5 787.5L1085.5 786.5L1084.5 786.5L1082.5 786.5M1093.5 786.5L1089.5 786.5L1088.5 789.5L1089.5 789.5L1090.5 789.5L1091.5 789.5L1092.5 789.5L1093.5 790.5L1093.5 791.5L1093.5 792.5L1093.5 793.5L1092.5 794.5L1091.5 794.5L1090.5 794.5L1089.5 794.5L1088.5 793.5L1088.5 792.5M1225.5 786.5L1221.5 786.5L1221.5 789.5L1222.5 789.5L1224.5 789.5L1225.5 789.5L1226.5 790.5L1226.5 791.5L1226.5 792.5L1226.5 793.5L1225.5 794.5L1224.5 794.5L1222.5 794.5L1221.5 794.5L1221.5 793.5L1221.5 792.5M1229.5 793.5L1229.5 794.5L1229.5 793.5M1234.5 786.5L1233.5 786.5L1232.5 787.5L1232.5 788.5L1233.5 789.5L1234.5 789.5L1235.5 789.5L1236.5 790.5L1237.5 791.5L1237.5 792.5L1237.5 793.5L1237.5 794.5L1235.5 794.5L1234.5 794.5L1233.5 794.5L1232.5 793.5L1232.5 792.5L1232.5 791.5L1233.5 790.5L1234.5 789.5L1236.5 789.5L1237.5 789.5L1237.5 788.5L1237.5 787.5L1237.5 786.5L1235.5 786.5L1234.5 786.5M1243.5 786.5L1240.5 791.5L1245.5 791.5M1243.5 786.5L1243.5 794.5M1248.5 788.5L1248.5 787.5L1248.5 786.5L1249.5 786.5L1251.5 786.5L1252.5 787.5L1252.5 788.5L1252.5 789.5L1251.5 790.5L1247.5 794.5L1253.5 794.5M1257.5 786.5L1256.5 786.5L1255.5 788.5L1255.5 789.5L1255.5 791.5L1255.5 792.5L1256.5 794.5L1257.5 794.5L1258.5 794.5L1259.5 794.5L1260.5 792.5L1260.5 791.5L1260.5 789.5L1260.5 788.5L1259.5 786.5L1258.5 786.5L1257.5 786.5M1267.5 789.5L1267.5 790.5L1266.5 791.5L1265.5 791.5L1264.5 791.5L1263.5 790.5L1262.5 789.5L1262.5 788.5L1263.5 787.5L1264.5 786.5L1265.5 786.5L1266.5 786.5L1267.5 787.5L1267.5 789.5L1267.5 791.5L1267.5 792.5L1266.5 794.5L1265.5 794.5L1264.5 794.5L1263.5 794.5L1263.5 793.5M1272.5 786.5L1271.5 786.5L1270.5 788.5L1270.5 789.5L1270.5 791.5L1270.5 792.5L1271.5 794.5L1272.5 794.5L1273.5 794.5L1274.5 794.5L1275.5 792.5L1275.5 791.5L1275.5 789.5L1275.5 788.5L1274.5 786.5L1273.5 786.5L1272.5 786.5M1408.5 786.5L1404.5 786.5L1404.5 789.5L1405.5 789.5L1407.5 789.5L1408.5 789.5L1409.5 790.5L1409.5 791.5L1409.5 792.5L1409.5 793.5L1408.5 794.5L1407.5 794.5L1405.5 794.5L1404.5 794.5L1404.5 793.5L1404.5 792.5M1412.5 793.5L1412.5 794.5L1412.5 793.5M1417.5 786.5L1416.5 786.5L1415.5 787.5L1415.5 788.5L1416.5 789.5L1417.5 789.5L1418.5 789.5L1419.5 790.5L1420.5 791.5L1420.5 792.5L1420.5 793.5L1420.5 794.5L1418.5 794.5L1417.5 794.5L1416.5 794.5L1415.5 793.5L1415.5 792.5L1415.5 791.5L1416.5 790.5L1417.5 789.5L1419.5 789.5L1420.5 789.5L1420.5 788.5L1420.5 787.5L1420.5 786.5L1418.5 786.5L1417.5 786.5M1426.5 786.5L1423.5 791.5L1428.5 791.5M1426.5 786.5L1426.5 794.5M1431.5 788.5L1431.5 787.5L1431.5 786.5L1432.5 786.5L1434.5 786.5L1435.5 787.5L1435.5 788.5L1435.5 789.5L1434.5 790.5L1430.5 794.5L1436.5 794.5M1440.5 786.5L1439.5 786.5L1438.5 788.5L1438.5 789.5L1438.5 791.5L1438.5 792.5L1439.5 794.5L1440.5 794.5L1441.5 794.5L1442.5 794.5L1443.5 792.5L1443.5 791.5L1443.5 789.5L1443.5 788.5L1442.5 786.5L1441.5 786.5L1440.5 786.5M1450.5 789.5L1450.5 790.5L1449.5 791.5L1448.5 791.5L1447.5 791.5L1446.5 790.5L1445.5 789.5L1445.5 788.5L1446.5 787.5L1447.5 786.5L1448.5 786.5L1449.5 786.5L1450.5 787.5L1450.5 789.5L1450.5 791.5L1450.5 792.5L1449.5 794.5L1448.5 794.5L1447.5 794.5L1446.5 794.5L1446.5 793.5M1458.5 786.5L1454.5 786.5L1453.5 789.5L1454.5 789.5L1455.5 789.5L1456.5 789.5L1457.5 789.5L1458.5 790.5L1458.5 791.5L1458.5 792.5L1458.5 793.5L1457.5 794.5L1456.5 794.5L1455.5 794.5L1454.5 794.5L1453.5 793.5L1453.5 792.5M847.5 1045.5L847.5 1044.5L848.5 1043.5L850.5 1043.5L851.5 1043.5L851.5 1044.5L851.5 1045.5L851.5 1046.5L850.5 1047.5L846.5 1051.5L852.5 1051.5M854.5 1045.5L855.5 1044.5L855.5 1043.5L856.5 1043.5L857.5 1043.5L858.5 1043.5L859.5 1044.5L859.5 1045.5L859.5 1046.5L858.5 1047.5L854.5 1051.5L859.5 1051.5M865.5 1043.5L862.5 1048.5L867.5 1048.5M865.5 1043.5L865.5 1051.5M847.5 997.5L847.5 996.5L848.5 995.5L850.5 995.5L851.5 995.5L851.5 996.5L851.5 997.5L851.5 998.5L850.5 999.5L846.5 1003.5L852.5 1003.5M854.5 997.5L855.5 996.5L855.5 995.5L856.5 995.5L857.5 995.5L858.5 995.5L859.5 996.5L859.5 997.5L859.5 998.5L858.5 999.5L854.5 1003.5L859.5 1003.5M866.5 995.5L862.5 995.5L862.5 998.5L864.5 998.5L865.5 998.5L866.5 998.5L867.5 999.5L867.5 1000.5L867.5 1001.5L867.5 1002.5L866.5 1003.5L865.5 1003.5L864.5 1003.5L862.5 1003.5L862.5 1002.5L862.5 1001.5M847.5 950.5L847.5 949.5L848.5 948.5L850.5 948.5L851.5 948.5L851.5 949.5L851.5 950.5L851.5 951.5L850.5 952.5L846.5 956.5L852.5 956.5M854.5 950.5L855.5 949.5L855.5 948.5L856.5 948.5L857.5 948.5L858.5 948.5L859.5 949.5L859.5 950.5L859.5 951.5L858.5 952.5L854.5 956.5L859.5 956.5M867.5 949.5L866.5 948.5L865.5 948.5L864.5 948.5L863.5 948.5L862.5 950.5L862.5 951.5L862.5 953.5L862.5 955.5L863.5 956.5L864.5 956.5L865.5 956.5L866.5 956.5L867.5 955.5L867.5 954.5L867.5 953.5L867.5 952.5L866.5 951.5L865.5 951.5L864.5 951.5L863.5 951.5L862.5 952.5L862.5 953.5M847.5 902.5L847.5 901.5L848.5 900.5L850.5 900.5L851.5 900.5L851.5 901.5L851.5 902.5L851.5 903.5L850.5 904.5L846.5 908.5L852.5 908.5M854.5 902.5L855.5 901.5L855.5 900.5L856.5 900.5L857.5 900.5L858.5 900.5L859.5 901.5L859.5 902.5L859.5 903.5L858.5 904.5L854.5 908.5L859.5 908.5M867.5 900.5L863.5 908.5M862.5 900.5L867.5 900.5M847.5 855.5L847.5 854.5L848.5 853.5L850.5 853.5L851.5 853.5L851.5 854.5L851.5 855.5L851.5 856.5L850.5 857.5L846.5 861.5L852.5 861.5M854.5 855.5L855.5 854.5L855.5 853.5L856.5 853.5L857.5 853.5L858.5 853.5L859.5 854.5L859.5 855.5L859.5 856.5L858.5 857.5L854.5 861.5L859.5 861.5M864.5 853.5L862.5 853.5L862.5 854.5L862.5 855.5L862.5 856.5L863.5 856.5L865.5 856.5L866.5 857.5L867.5 858.5L867.5 859.5L867.5 860.5L866.5 861.5L865.5 861.5L864.5 861.5L862.5 861.5L862.5 860.5L862.5 859.5L862.5 858.5L863.5 857.5L864.5 856.5L865.5 856.5L866.5 856.5L867.5 855.5L867.5 854.5L866.5 853.5L865.5 853.5L864.5 853.5M1166.5 831.5L1166.5 841.5M1166.5 841.5L1172.5 841.5M1176.5 834.5L1176.5 835.5L1175.5 836.5L1174.5 837.5L1174.5 838.5L1175.5 840.5L1176.5 841.5L1178.5 841.5L1179.5 841.5L1180.5 840.5L1180.5 838.5L1180.5 837.5L1180.5 836.5L1179.5 835.5L1178.5 834.5L1176.5 834.5M1184.5 834.5L1184.5 841.5M1184.5 836.5L1185.5 835.5L1186.5 834.5L1188.5 834.5L1189.5 835.5L1189.5 836.5L1189.5 841.5M1199.5 834.5L1199.5 842.5L1198.5 843.5L1198.5 844.5L1197.5 844.5L1195.5 844.5L1194.5 844.5M1199.5 836.5L1198.5 835.5L1197.5 834.5L1195.5 834.5L1194.5 835.5L1193.5 836.5L1193.5 837.5L1193.5 838.5L1193.5 840.5L1194.5 841.5L1195.5 841.5L1197.5 841.5L1198.5 841.5L1199.5 840.5M1202.5 831.5L1203.5 831.5L1202.5 830.5L1202.5 831.5M1202.5 834.5L1202.5 841.5M1207.5 831.5L1207.5 839.5L1207.5 841.5L1208.5 841.5L1209.5 841.5M1205.5 834.5L1209.5 834.5M1212.5 834.5L1212.5 839.5L1213.5 841.5L1214.5 841.5L1215.5 841.5L1216.5 841.5L1218.5 839.5M1218.5 834.5L1218.5 841.5M1227.5 831.5L1227.5 841.5M1227.5 836.5L1226.5 835.5L1225.5 834.5L1224.5 834.5L1223.5 835.5L1222.5 836.5L1221.5 837.5L1221.5 838.5L1222.5 840.5L1223.5 841.5L1224.5 841.5L1225.5 841.5L1226.5 841.5L1227.5 840.5M1230.5 837.5L1236.5 837.5L1236.5 836.5L1236.5 835.5L1235.5 835.5L1234.5 834.5L1233.5 834.5L1232.5 835.5L1231.5 836.5L1230.5 837.5L1230.5 838.5L1231.5 840.5L1232.5 841.5L1233.5 841.5L1234.5 841.5L1235.5 841.5L1236.5 840.5M1247.5 829.5L1247.5 844.5M1247.5 829.5L1247.5 844.5M1247.5 829.5L1250.5 829.5M1247.5 844.5L1250.5 844.5M1259.5 831.5L1259.5 841.5M1259.5 836.5L1258.5 835.5L1257.5 834.5L1255.5 834.5L1254.5 835.5L1253.5 836.5L1253.5 837.5L1253.5 838.5L1253.5 840.5L1254.5 841.5L1255.5 841.5L1257.5 841.5L1258.5 841.5L1259.5 840.5M1262.5 837.5L1268.5 837.5L1268.5 836.5L1268.5 835.5L1267.5 835.5L1266.5 834.5L1265.5 834.5L1264.5 835.5L1263.5 836.5L1262.5 837.5L1262.5 838.5L1263.5 840.5L1264.5 841.5L1265.5 841.5L1266.5 841.5L1267.5 841.5L1268.5 840.5M1277.5 834.5L1277.5 842.5L1276.5 843.5L1276.5 844.5L1275.5 844.5L1274.5 844.5L1273.5 844.5M1277.5 836.5L1276.5 835.5L1275.5 834.5L1274.5 834.5L1273.5 835.5L1272.5 836.5L1271.5 837.5L1271.5 838.5L1272.5 840.5L1273.5 841.5L1274.5 841.5L1275.5 841.5L1276.5 841.5L1277.5 840.5M1283.5 829.5L1283.5 844.5M1284.5 829.5L1284.5 844.5M1280.5 829.5L1284.5 829.5M1280.5 844.5L1284.5 844.5M860.5 1061.5L856.5 1061.5L856.5 1064.5L857.5 1064.5L859.5 1064.5L860.5 1064.5L861.5 1065.5L861.5 1066.5L861.5 1067.5L861.5 1068.5L860.5 1069.5L859.5 1069.5L857.5 1069.5L856.5 1069.5L856.5 1068.5L856.5 1067.5M864.5 1068.5L864.5 1069.5L864.5 1068.5M869.5 1061.5L868.5 1061.5L867.5 1062.5L867.5 1063.5L868.5 1064.5L869.5 1064.5L870.5 1064.5L871.5 1065.5L872.5 1066.5L872.5 1067.5L872.5 1068.5L872.5 1069.5L870.5 1069.5L869.5 1069.5L868.5 1069.5L867.5 1068.5L867.5 1067.5L867.5 1066.5L868.5 1065.5L869.5 1064.5L871.5 1064.5L872.5 1064.5L872.5 1063.5L872.5 1062.5L872.5 1061.5L870.5 1061.5L869.5 1061.5M878.5 1061.5L875.5 1066.5L880.5 1066.5M878.5 1061.5L878.5 1069.5M883.5 1063.5L883.5 1062.5L883.5 1061.5L884.5 1061.5L886.5 1061.5L887.5 1062.5L887.5 1063.5L887.5 1064.5L886.5 1065.5L882.5 1069.5L888.5 1069.5M892.5 1061.5L891.5 1061.5L890.5 1063.5L890.5 1064.5L890.5 1066.5L890.5 1067.5L891.5 1069.5L892.5 1069.5L893.5 1069.5L894.5 1069.5L895.5 1067.5L895.5 1066.5L895.5 1064.5L895.5 1063.5L894.5 1061.5L893.5 1061.5L892.5 1061.5M899.5 1061.5L898.5 1061.5L898.5 1062.5L898.5 1063.5L898.5 1064.5L899.5 1064.5L901.5 1064.5L902.5 1065.5L902.5 1066.5L903.5 1066.5L903.5 1067.5L902.5 1068.5L902.5 1069.5L901.5 1069.5L899.5 1069.5L898.5 1069.5L898.5 1068.5L897.5 1067.5L897.5 1066.5L898.5 1066.5L899.5 1065.5L900.5 1064.5L901.5 1064.5L902.5 1064.5L902.5 1063.5L902.5 1062.5L902.5 1061.5L901.5 1061.5L899.5 1061.5M907.5 1061.5L906.5 1061.5L905.5 1063.5L905.5 1064.5L905.5 1066.5L905.5 1067.5L906.5 1069.5L907.5 1069.5L908.5 1069.5L909.5 1069.5L910.5 1067.5L910.5 1066.5L910.5 1064.5L910.5 1063.5L909.5 1061.5L908.5 1061.5L907.5 1061.5M1043.5 1061.5L1039.5 1061.5L1039.5 1064.5L1040.5 1064.5L1042.5 1064.5L1043.5 1064.5L1044.5 1065.5L1044.5 1066.5L1044.5 1067.5L1044.5 1068.5L1043.5 1069.5L1042.5 1069.5L1040.5 1069.5L1039.5 1069.5L1039.5 1068.5L1039.5 1067.5M1047.5 1068.5L1047.5 1069.5L1047.5 1068.5M1052.5 1061.5L1051.5 1061.5L1050.5 1062.5L1050.5 1063.5L1051.5 1064.5L1052.5 1064.5L1053.5 1064.5L1054.5 1065.5L1055.5 1066.5L1055.5 1067.5L1055.5 1068.5L1055.5 1069.5L1053.5 1069.5L1052.5 1069.5L1051.5 1069.5L1050.5 1068.5L1050.5 1067.5L1050.5 1066.5L1051.5 1065.5L1052.5 1064.5L1054.5 1064.5L1055.5 1064.5L1055.5 1063.5L1055.5 1062.5L1055.5 1061.5L1053.5 1061.5L1052.5 1061.5M1061.5 1061.5L1058.5 1066.5L1063.5 1066.5M1061.5 1061.5L1061.5 1069.5M1066.5 1063.5L1066.5 1062.5L1066.5 1061.5L1067.5 1061.5L1069.5 1061.5L1070.5 1062.5L1070.5 1063.5L1070.5 1064.5L1069.5 1065.5L1065.5 1069.5L1071.5 1069.5M1075.5 1061.5L1074.5 1061.5L1073.5 1063.5L1073.5 1064.5L1073.5 1066.5L1073.5 1067.5L1074.5 1069.5L1075.5 1069.5L1076.5 1069.5L1077.5 1069.5L1078.5 1067.5L1078.5 1066.5L1078.5 1064.5L1078.5 1063.5L1077.5 1061.5L1076.5 1061.5L1075.5 1061.5M1082.5 1061.5L1081.5 1061.5L1081.5 1062.5L1081.5 1063.5L1081.5 1064.5L1082.5 1064.5L1084.5 1064.5L1085.5 1065.5L1085.5 1066.5L1086.5 1066.5L1086.5 1067.5L1085.5 1068.5L1085.5 1069.5L1084.5 1069.5L1082.5 1069.5L1081.5 1069.5L1081.5 1068.5L1080.5 1067.5L1080.5 1066.5L1081.5 1066.5L1082.5 1065.5L1083.5 1064.5L1084.5 1064.5L1085.5 1064.5L1085.5 1063.5L1085.5 1062.5L1085.5 1061.5L1084.5 1061.5L1082.5 1061.5M1093.5 1061.5L1089.5 1061.5L1088.5 1064.5L1089.5 1064.5L1090.5 1064.5L1091.5 1064.5L1092.5 1064.5L1093.5 1065.5L1093.5 1066.5L1093.5 1067.5L1093.5 1068.5L1092.5 1069.5L1091.5 1069.5L1090.5 1069.5L1089.5 1069.5L1088.5 1068.5L1088.5 1067.5M1225.5 1061.5L1221.5 1061.5L1221.5 1064.5L1222.5 1064.5L1224.5 1064.5L1225.5 1064.5L1226.5 1065.5L1226.5 1066.5L1226.5 1067.5L1226.5 1068.5L1225.5 1069.5L1224.5 1069.5L1222.5 1069.5L1221.5 1069.5L1221.5 1068.5L1221.5 1067.5M1229.5 1068.5L1229.5 1069.5L1229.5 1068.5M1234.5 1061.5L1233.5 1061.5L1232.5 1062.5L1232.5 1063.5L1233.5 1064.5L1234.5 1064.5L1235.5 1064.5L1236.5 1065.5L1237.5 1066.5L1237.5 1067.5L1237.5 1068.5L1237.5 1069.5L1235.5 1069.5L1234.5 1069.5L1233.5 1069.5L1232.5 1068.5L1232.5 1067.5L1232.5 1066.5L1233.5 1065.5L1234.5 1064.5L1236.5 1064.5L1237.5 1064.5L1237.5 1063.5L1237.5 1062.5L1237.5 1061.5L1235.5 1061.5L1234.5 1061.5M1243.5 1061.5L1240.5 1066.5L1245.5 1066.5M1243.5 1061.5L1243.5 1069.5M1248.5 1063.5L1248.5 1062.5L1248.5 1061.5L1249.5 1061.5L1251.5 1061.5L1252.5 1062.5L1252.5 1063.5L1252.5 1064.5L1251.5 1065.5L1247.5 1069.5L1253.5 1069.5M1257.5 1061.5L1256.5 1061.5L1255.5 1063.5L1255.5 1064.5L1255.5 1066.5L1255.5 1067.5L1256.5 1069.5L1257.5 1069.5L1258.5 1069.5L1259.5 1069.5L1260.5 1067.5L1260.5 1066.5L1260.5 1064.5L1260.5 1063.5L1259.5 1061.5L1258.5 1061.5L1257.5 1061.5M1267.5 1064.5L1267.5 1065.5L1266.5 1066.5L1265.5 1066.5L1264.5 1066.5L1263.5 1065.5L1262.5 1064.5L1262.5 1063.5L1263.5 1062.5L1264.5 1061.5L1265.5 1061.5L1266.5 1061.5L1267.5 1062.5L1267.5 1064.5L1267.5 1066.5L1267.5 1067.5L1266.5 1069.5L1265.5 1069.5L1264.5 1069.5L1263.5 1069.5L1263.5 1068.5M1272.5 1061.5L1271.5 1061.5L1270.5 1063.5L1270.5 1064.5L1270.5 1066.5L1270.5 1067.5L1271.5 1069.5L1272.5 1069.5L1273.5 1069.5L1274.5 1069.5L1275.5 1067.5L1275.5 1066.5L1275.5 1064.5L1275.5 1063.5L1274.5 1061.5L1273.5 1061.5L1272.5 1061.5M1408.5 1061.5L1404.5 1061.5L1404.5 1064.5L1405.5 1064.5L1407.5 1064.5L1408.5 1064.5L1409.5 1065.5L1409.5 1066.5L1409.5 1067.5L1409.5 1068.5L1408.5 1069.5L1407.5 1069.5L1405.5 1069.5L1404.5 1069.5L1404.5 1068.5L1404.5 1067.5M1412.5 1068.5L1412.5 1069.5L1412.5 1068.5M1417.5 1061.5L1416.5 1061.5L1415.5 1062.5L1415.5 1063.5L1416.5 1064.5L1417.5 1064.5L1418.5 1064.5L1419.5 1065.5L1420.5 1066.5L1420.5 1067.5L1420.5 1068.5L1420.5 1069.5L1418.5 1069.5L1417.5 1069.5L1416.5 1069.5L1415.5 1068.5L1415.5 1067.5L1415.5 1066.5L1416.5 1065.5L1417.5 1064.5L1419.5 1064.5L1420.5 1064.5L1420.5 1063.5L1420.5 1062.5L1420.5 1061.5L1418.5 1061.5L1417.5 1061.5M1426.5 1061.5L1423.5 1066.5L1428.5 1066.5M1426.5 1061.5L1426.5 1069.5M1431.5 1063.5L1431.5 1062.5L1431.5 1061.5L1432.5 1061.5L1434.5 1061.5L1435.5 1062.5L1435.5 1063.5L1435.5 1064.5L1434.5 1065.5L1430.5 1069.5L1436.5 1069.5M1440.5 1061.5L1439.5 1061.5L1438.5 1063.5L1438.5 1064.5L1438.5 1066.5L1438.5 1067.5L1439.5 1069.5L1440.5 1069.5L1441.5 1069.5L1442.5 1069.5L1443.5 1067.5L1443.5 1066.5L1443.5 1064.5L1443.5 1063.5L1442.5 1061.5L1441.5 1061.5L1440.5 1061.5M1450.5 1064.5L1450.5 1065.5L1449.5 1066.5L1448.5 1066.5L1447.5 1066.5L1446.5 1065.5L1445.5 1064.5L1445.5 1063.5L1446.5 1062.5L1447.5 1061.5L1448.5 1061.5L1449.5 1061.5L1450.5 1062.5L1450.5 1064.5L1450.5 1066.5L1450.5 1067.5L1449.5 1069.5L1448.5 1069.5L1447.5 1069.5L1446.5 1069.5L1446.5 1068.5M1458.5 1061.5L1454.5 1061.5L1453.5 1064.5L1454.5 1064.5L1455.5 1064.5L1456.5 1064.5L1457.5 1064.5L1458.5 1065.5L1458.5 1066.5L1458.5 1067.5L1458.5 1068.5L1457.5 1069.5L1456.5 1069.5L1455.5 1069.5L1454.5 1069.5L1453.5 1068.5L1453.5 1067.5" stroke="#0000ff" stroke-width="1" fill="none" stroke-linecap="square" stroke-linejoin="miter" shape-rendering="crispEdges"/>
<path d="M878 36h1v1h-1zM877 42h1v1h-1zM877 48h1v1h-1zM877 54h1v1h-1zM877 60h1v1h-1zM877 66h1v1h-1zM877 72h1v1h-1zM877 78h1v1h-1zM877 84h1v1h-1zM877 90h1v1h-1zM877 96h1v1h-1zM877 102h1v1h-1zM877 108h1v1h-1zM877 114h1v1h-1zM877 120h1v1h-1zM877 126h1v1h-1zM877 132h1v1h-1zM877 138h1v1h-1zM877 144h1v1h-1zM877 150h1v1h-1zM877 156h1v1h-1zM877 162h1v1h-1zM877 168h1v1h-1zM877 174h1v1h-1zM877 180h1v1h-1zM877 186h1v1h-1zM877 192h1v1h-1zM877 198h1v1h-1zM877 204h1v1h-1zM877 210h1v1h-1zM877 216h1v1h-1zM877 222h1v1h-1zM877 228h1v1h-1zM877 234h1v1h-1zM877 240h1v1h-1zM877 246h1v1h-1zM877 252h1v1h-1zM877 258h1v1h-1zM877 264h1v1h-1zM877 270h1v1h-1zM877 276h1v1h-1zM877 282h1v1h-1zM877 288h1v1h-1zM877 294h1v1h-1zM877 300h1v1h-1zM877 306h1v1h-1zM877 312h1v1h-1zM877 318h1v1h-1zM877 324h1v1h-1zM877 330h1v1h-1zM877 336h1v1h-1zM877 342h1v1h-1zM877 348h1v1h-1zM877 354h1v1h-1zM877 360h1v1h-1zM877 366h1v1h-1zM877 372h1v1h-1zM877 378h1v1h-1zM877 384h1v1h-1zM877 390h1v1h-1zM877 396h1v1h-1zM877 402h1v1h-1zM877 408h1v1h-1zM877 414h1v1h-1zM877 420h1v1h-1zM877 426h1v1h-1zM877 432h1v1h-1zM877 438h1v1h-1zM877 444h1v1h-1zM877 450h1v1h-1zM877 456h1v1h-1zM877 462h1v1h-1zM877 468h1v1h-1zM877 474h1v1h-1zM877 480h1v1h-1zM877 486h1v1h-1zM877 492h1v1h-1zM877 498h1v1h-1zM877 504h1v1h-1zM877 510h1v1h-1zM877 516h1v1h-1zM877 522h1v1h-1zM935 36h1v1h-1zM935 42h1v1h-1zM935 48h1v1h-1zM935 54h1v1h-1zM935 60h1v1h-1zM935 66h1v1h-1zM935 72h1v1h-1zM935 78h1v1h-1zM935 84h1v1h-1zM935 90h1v1h-1zM935 96h1v1h-1zM935 102h1v1h-1zM935 108h1v1h-1zM935 114h1v1h-1zM935 120h1v1h-1zM935 126h1v1h-1zM935 132h1v1h-1zM935 138h1v1h-1zM935 144h1v1h-1zM935 150h1v1h-1zM935 156h1v1h-1zM935 162h1v1h-1zM935 168h1v1h-1zM935 174h1v1h-1zM935 180h1v1h-1zM935 186h1v1h-1zM935 192h1v1h-1zM935 198h1v1h-1zM935 204h1v1h-1zM935 210h1v1h-1zM935 216h1v1h-1zM935 222h1v1h-1zM935 228h1v1h-1zM935 234h1v1h-1zM935 240h1v1h-1zM935 246h1v1h-1zM935 252h1v1h-1zM935 258h1v1h-1zM935 264h1v1h-1zM935 270h1v1h-1zM935 276h1v1h-1zM935 282h1v1h-1zM935 288h1v1h-1zM935 294h1v1h-1zM935 300h1v1h-1zM935 306h1v1h-1zM935 312h1v1h-1zM935 318h1v1h-1zM935 324h1v1h-1zM935 330h1v1h-1zM935 336h1v1h-1zM935 342h1v1h-1zM935 348h1v1h-1zM935 354h1v1h-1zM935 360h1v1h-1zM935 366h1v1h-1zM935 372h1v1h-1zM935 378h1v1h-1zM935 384h1v1h-1zM935 390h1v1h-1zM935 396h1v1h-1zM935 402h1v1h-1zM935 408h1v1h-1zM935 414h1v1h-1zM935 420h1v1h-1zM935 426h1v1h-1zM935 432h1v1h-1zM935 438h1v1h-1zM935 444h1v1h-1zM935 450h1v1h-1zM935 456h1v1h-1zM935 462h1v1h-1zM935 468h1v1h-1zM935 474h1v1h-1zM935 480h1v1h-1zM935 486h1v1h-1zM935 492h1v1h-1zM935 498h1v1h-1zM935 504h1v1h-1zM935 510h1v1h-1zM935 516h1v1h-1zM935 522h1v1h-1zM993 36h1v1h-1zM993 42h1v1h-1zM993 48h1v1h-1zM993 54h1v1h-1zM993 60h1v1h-1zM993 66h1v1h-1zM993 72h1v1h-1zM993 78h1v1h-1zM993 84h1v1h-1zM993 90h1v1h-1zM993 96h1v1h-1zM993 102h1v1h-1zM993 108h1v1h-1zM993 114h1v1h-1zM993 120h1v1h-1zM993 126h1v1h-1zM993 132h1v1h-1zM993 138h1v1h-1zM993 144h1v1h-1zM993 150h1v1h-1zM993 156h1v1h-1zM993 162h1v1h-1zM993 168h1v1h-1zM993 174h1v1h-1zM993 180h1v1h-1zM993 186h1v1h-1zM993 192h1v1h-1zM993 198h1v1h-1zM993 204h1v1h-1zM993 210h1v1h-1zM993 216h1v1h-1zM993 222h1v1h-1zM993 228h1v1h-1zM993 234h1v1h-1zM993 240h1v1h-1zM993 246h1v1h-1zM993 252h1v1h-1zM993 258h1v1h-1zM993 264h1v1h-1zM993 270h1v1h-1zM993 276h1v1h-1zM993 282h1v1h-1zM993 288h1v1h-1zM993 294h1v1h-1zM993 300h1v1h-1zM993 306h1v1h-1zM993 312h1v1h-1zM993 318h1v1h-1zM993 324h1v1h-1zM993 330h1v1h-1zM993 336h1v1h-1zM993 342h1v1h-1zM993 348h1v1h-1zM993 354h1v1h-1zM993 360h1v1h-1zM993 366h1v1h-1zM993 372h1v1h-1zM993 378h1v1h-1zM993 384h1v1h-1zM993 390h1v1h-1zM993 396h1v1h-1zM993 402h1v1h-1zM993 408h1v1h-1zM993 414h1v1h-1zM993 420h1v1h-1zM993 426h1v1h-1zM993 432h1v1h-1zM993 438h1v1h-1zM993 444h1v1h-1zM993 450h1v1h-1zM993 456h1v1h-1zM993 462h1v1h-1zM993 468h1v1h-1zM993 474h1v1h-1zM993 480h1v1h-1zM993 486h1v1h-1zM993 492h1v1h-1zM993 498h1v1h-1zM993 504h1v1h-1zM993 510h1v1h-1zM993 516h1v1h-1zM993 522h1v1h-1zM1051 36h1v1h-1zM1051 42h1v1h-1zM1051 48h1v1h-1zM1051 54h1v1h-1zM1051 60h1v1h-1zM1051 66h1v1h-1zM1051 72h1v1h-1zM1051 78h1v1h-1zM1051 84h1v1h-1zM1051 90h1v1h-1zM1051 96h1v1h-1zM1051 102h1v1h-1zM1051 108h1v1h-1zM1051 114h1v1h-1zM1051 120h1v1h-1zM1051 126h1v1h-1zM1051 132h1v1h-1zM1051 138h1v1h-1zM1051 144h1v1h-1zM1051 150h1v1h-1zM1051 156h1v1h-1zM1051 162h1v1h-1zM1051 168h1v1h-1zM1051 174h1v1h-1zM1051 180h1v1h-1zM1051 186h1v1h-1zM1051 192h1v1h-1zM1051 198h1v1h-1zM1051 204h1v1h-1zM1051 210h1v1h-1zM1051 216h1v1h-1zM1051 222h1v1h-1zM1051 228h1v1h-1zM1051 234h1v1h-1zM1051 240h1v1h-1zM1051 246h1v1h-1zM1051 252h1v1h-1zM1051 258h1v1h-1zM1051 264h1v1h-1zM1051 270h1v1h-1zM1051 276h1v1h-1zM1051 282h1v1h-1zM1051 288h1v1h-1zM1051 294h1v1h-1zM1051 300h1v1h-1zM1051 306h1v1h-1zM1051 312h1v1h-1zM1051 318h1v1h-1zM1051 324h1v1h-1zM1051 330h1v1h-1zM1051 336h1v1h-1zM1051 342h1v1h-1zM1051 348h1v1h-1zM1051 354h1v1h-1zM1051 360h1v1h-1zM1051 366h1v1h-1zM1051 372h1v1h-1zM1051 378h1v1h-1zM1051 384h1v1h-1zM1051 390h1v1h-1zM1051 396h1v1h-1zM1051 402h1v1h-1zM1051 408h1v1h-1zM1051 414h1v1h-1zM1051 420h1v1h-1zM1051 426h1v1h-1zM1051 432h1v1h-1zM1051 438h1v1h-1zM1051 444h1v1h-1zM1051 450h1v1h-1zM1051 456h1v1h-1zM1051 462h1v1h-1zM1051 468h1v1h-1zM1051 474h1v1h-1zM1051 480h1v1h-1zM1051 486h1v1h-1zM1051 492h1v1h-1zM1051 498h1v1h-1zM1051 504h1v1h-1zM1051 510h1v1h-1zM1051 516h1v1h-1zM1051 522h1v1h-1zM1110 36h1v1h-1zM1110 42h1v1h-1zM1110 48h1v1h-1zM1110 54h1v1h-1zM1110 60h1v1h-1zM1110 66h1v1h-1zM1110 72h1v1h-1zM1110 78h1v1h-1zM1110 84h1v1h-1zM1110 90h1v1h-1zM1110 96h1v1h-1zM1110 102h1v1h-1zM1110 108h1v1h-1zM1110 114h1v1h-1zM1110 120h1v1h-1zM1110 126h1v1h-1zM1110 132h1v1h-1zM1110 138h1v1h-1zM1110 144h1v1h-1zM1110 150h1v1h-1zM1110 156h1v1h-1zM1110 162h1v1h-1zM1110 168h1v1h-1zM1110 174h1v1h-1zM1110 180h1v1h-1zM1110 186h1v1h-1zM1110 192h1v1h-1zM1110 198h1v1h-1zM1110 204h1v1h-1zM1110 210h1v1h-1zM1110 216h1v1h-1zM1110 222h1v1h-1zM1110 228h1v1h-1zM1110 234h1v1h-1zM1110 240h1v1h-1zM1110 246h1v1h-1zM1110 252h1v1h-1zM1110 258h1v1h-1zM1110 264h1v1h-1zM1110 270h1v1h-1zM1110 276h1v1h-1zM1110 282h1v1h-1zM1110 288h1v1h-1zM1110 294h1v1h-1zM1110 300h1v1h-1zM1110 306h1v1h-1zM1110 312h1v1h-1zM1110 318h1v1h-1zM1110 324h1v1h-1zM1110 330h1v1h-1zM1110 336h1v1h-1zM1110 342h1v1h-1zM1110 348h1v1h-1zM1110 354h1v1h-1zM1110 360h1v1h-1zM1110 366h1v1h-1zM1110 372h1v1h-1zM1110 378h1v1h-1zM1110 384h1v1h-1zM1110 390h1v1h-1zM1110 396h1v1h-1zM1110 402h1v1h-1zM1110 408h1v1h-1zM1110 414h1v1h-1zM1110 420h1v1h-1zM1110 426h1v1h-1zM1110 432h1v1h-1zM1110 438h1v1h-1zM1110 444h1v1h-1zM1110 450h1v1h-1zM1110 456h1v1h-1zM1110 462h1v1h-1zM1110 468h1v1h-1zM1110 474h1v1h-1zM1110 480h1v1h-1zM1110 486h1v1h-1zM1110 492h1v1h-1zM1110 498h1v1h-1zM1110 504h1v1h-1zM1110 510h1v1h-1zM1110 516h1v1h-1zM1110 522h1v1h-1zM1168 36h1v1h-1zM1168 42h1v1h-1zM1168 48h1v1h-1zM1168 54h1v1h-1zM1168 60h1v1h-1zM1168 66h1v1h-1zM1168 72h1v1h-1zM1168 78h1v1h-1zM1168 84h1v1h-1zM1168 90h1v1h-1zM1168 96h1v1h-1zM1168 102h1v1h-1zM1168 108h1v1h-1zM1168 114h1v1h-1zM1168 120h1v1h-1zM1168 126h1v1h-1zM1168 132h1v1h-1zM1168 138h1v1h-1zM1168 144h1v1h-1zM1168 150h1v1h-1zM1168 156h1v1h-1zM1168 162h1v1h-1zM1168 168h1v1h-1zM1168 174h1v1h-1zM1168 180h1v1h-1zM1168 186h1v1h-1zM1168 192h1v1h-1zM1168 198h1v1h-1zM1168 204h1v1h-1zM1168 210h1v1h-1zM1168 216h1v1h-1zM1168 222h1v1h-1zM1168 228h1v1h-1zM1168 234h1v1h-1zM1168 240h1v1h-1zM1168 246h1v1h-1zM1168 252h1v1h-1zM1168 258h1v1h-1zM1168 264h1v1h-1zM1168 270h1v1h-1zM1168 276h1v1h-1zM1168 282h1v1h-1zM1168 288h1v1h-1zM1168 294h1v1h-1zM1168 300h1v1h-1zM1168 306h1v1h-1zM1168 312h1v1h-1zM1168 318h1v1h-1zM1168 324h1v1h-1zM1168 330h1v1h-1zM1168 336h1v1h-1zM1168 342h1v1h-1zM1168 348h1v1h-1zM1168 354h1v1h-1zM1168 360h1v1h-1zM1168 366h1v1h-1zM1168 372h1v1h-1zM1168 378h1v1h-1zM1168 384h1v1h-1zM1168 390h1v1h-1zM1168 396h1v1h-1zM1168 402h1v1h-1zM1168 408h1v1h-1zM1168 414h1v1h-1zM1168 420h1v1h-1zM1168 426h1v1h-1zM1168 432h1v1h-1zM1168 438h1v1h-1zM1168 444h1v1h-1zM1168 450h1v1h-1zM1168 456h1v1h-1zM1168 462h1v1h-1zM1168 468h1v1h-1zM1168 474h1v1h-1zM1168 480h1v1h-1zM1168 486h1v1h-1zM1168 492h1v1h-1zM1168 498h1v1h-1zM1168 504h1v1h-1zM1168 510h1v1h-1zM1168 516h1v1h-1zM1168 522h1v1h-1zM1226 36h1v1h-1zM1226 42h1v1h-1zM1226 48h1v1h-1zM1226 54h1v1h-1zM1226 60h1v1h-1zM1226 66h1v1h-1zM1226 72h1v1h-1zM1226 78h1v1h-1zM1226 84h1v1h-1zM1226 90h1v1h-1zM1226 96h1v1h-1zM1226 102h1v1h-1zM1226 108h1v1h-1zM1226 114h1v1h-1zM1226 120h1v1h-1zM1226 126h1v1h-1zM1226 132h1v1h-1zM1226 138h1v1h-1zM1226 144h1v1h-1zM1226 150h1v1h-1zM1226 156h1v1h-1zM1226 162h1v1h-1zM1226 168h1v1h-1zM1226 174h1v1h-1zM1226 180h1v1h-1zM1226 186h1v1h-1zM1226 192h1v1h-1zM1226 198h1v1h-1zM1226 204h1v1h-1zM1226 210h1v1h-1zM1226 216h1v1h-1zM1226 222h1v1h-1zM1226 228h1v1h-1zM1226 234h1v1h-1zM1226 240h1v1h-1zM1226 246h1v1h-1zM1226 252h1v1h-1zM1226 258h1v1h-1zM1226 264h1v1h-1zM1226 270h1v1h-1zM1226 276h1v1h-1zM1226 282h1v1h-1zM1226 288h1v1h-1zM1226 294h1v1h-1zM1226 300h1v1h-1zM1226 306h1v1h-1zM1226 312h1v1h-1zM1226 318h1v1h-1zM1226 324h1v1h-1zM1226 330h1v1h-1zM1226 336h1v1h-1zM1226 342h1v1h-1zM1226 348h1v1h-1zM1226 354h1v1h-1zM1226 360h1v1h-1zM1226 366h1v1h-1zM1226 372h1v1h-1zM1226 378h1v1h-1zM1226 384h1v1h-1zM1226 390h1v1h-1zM1226 396h1v1h-1zM1226 402h1v1h-1zM1226 408h1v1h-1zM1226 414h1v1h-1zM1226 420h1v1h-1zM1226 426h1v1h-1zM1226 432h1v1h-1zM1226 438h1v1h-1zM1226 444h1v1h-1zM1226 450h1v1h-1zM1226 456h1v1h-1zM1226 462h1v1h-1zM1226 468h1v1h-1zM1226 474h1v1h-1zM1226 480h1v1h-1zM1226 486h1v1h-1zM1226 492h1v1h-1zM1226 498h1v1h-1zM1226 504h1v1h-1zM1226 510h1v1h-1zM1226 516h1v1h-1zM1226 522h1v1h-1zM1284 36h1v1h-1zM1284 42h1v1h-1zM1284 48h1v1h-1zM1284 54h1v1h-1zM1284 60h1v1h-1zM1284 66h1v1h-1zM1284 72h1v1h-1zM1284 78h1v1h-1zM1284 84h1v1h-1zM1284 90h1v1h-1zM1284 96h1v1h-1zM1284 102h1v1h-1zM1284 108h1v1h-1zM1284 114h1v1h-1zM1284 120h1v1h-1zM1284 126h1v1h-1zM1284 132h1v1h-1zM1284 138h1v1h-1zM1284 144h1v1h-1zM1284 150h1v1h-1zM1284 156h1v1h-1zM1284 162h1v1h-1zM1284 168h1v1h-1zM1284 174h1v1h-1zM1284 180h1v1h-1zM1284 186h1v1h-1zM1284 192h1v1h-1zM1284 198h1v1h-1zM1284 204h1v1h-1zM1284 210h1v1h-1zM1284 216h1v1h-1zM1284 222h1v1h-1zM1284 228h1v1h-1zM1284 234h1v1h-1zM1284 240h1v1h-1zM1284 246h1v1h-1zM1284 252h1v1h-1zM1284 258h1v1h-1zM1284 264h1v1h-1zM1284 270h1v1h-1zM1284 276h1v1h-1zM1284 282h1v1h-1zM1284 288h1v1h-1zM1284 294h1v1h-1zM1284 300h1v1h-1zM1284 306h1v1h-1zM1284 312h1v1h-1zM1284 318h1v1h-1zM1284 324h1v1h-1zM1284 330h1v1h-1zM1284 336h1v1h-1zM1284 342h1v1h-1zM1284 348h1v1h-1zM1284 354h1v1h-1zM1284 360h1v1h-1zM1284 366h1v1h-1zM1284 372h1v1h-1zM1284 378h1v1h-1zM1284 384h1v1h-1zM1284 390h1v1h-1zM1284 396h1v1h-1zM1284 402h1v1h-1zM1284 408h1v1h-1zM1284 414h1v1h-1zM1284 420h1v1h-1zM1284 426h1v1h-1zM1284 432h1v1h-1zM1284 438h1v1h-1zM1284 444h1v1h-1zM1284 450h1v1h-1zM1284 456h1v1h-1zM1284 462h1v1h-1zM1284 468h1v1h-1zM1284 474h1v1h-1zM1284 480h1v1h-1zM1284 486h1v1h-1zM1284 492h1v1h-1zM1284 498h1v1h-1zM1284 504h1v1h-1zM1284 510h1v1h-1zM1284 516h1v1h-1zM1284 522h1v1h-1zM1342 36h1v1h-1zM1342 42h1v1h-1zM1342 48h1v1h-1zM1342 54h1v1h-1zM1342 60h1v1h-1zM1342 66h1v1h-1zM1342 72h1v1h-1zM1342 78h1v1h-1zM1342 84h1v1h-1zM1342 90h1v1h-1zM1342 96h1v1h-1zM1342 102h1v1h-1zM1342 108h1v1h-1zM1342 114h1v1h-1zM1342 120h1v1h-1zM1342 126h1v1h-1zM1342 132h1v1h-1zM1342 138h1v1h-1zM1342 144h1v1h-1zM1342 150h1v1h-1zM1342 156h1v1h-1zM1342 162h1v1h-1zM1342 168h1v1h-1zM1342 174h1v1h-1zM1342 180h1v1h-1zM1342 186h1v1h-1zM1342 192h1v1h-1zM1342 198h1v1h-1zM1342 204h1v1h-1zM1342 210h1v1h-1zM1342 216h1v1h-1zM1342 222h1v1h-1zM1342 228h1v1h-1zM1342 234h1v1h-1zM1342 240h1v1h-1zM1342 246h1v1h-1zM1342 252h1v1h-1zM1342 258h1v1h-1zM1342 264h1v1h-1zM1342 270h1v1h-1zM1342 276h1v1h-1zM1342 282h1v1h-1zM1342 288h1v1h-1zM1342 294h1v1h-1zM1342 300h1v1h-1zM1342 306h1v1h-1zM1342 312h1v1h-1zM1342 318h1v1h-1zM1342 324h1v1h-1zM1342 330h1v1h-1zM1342 336h1v1h-1zM1342 342h1v1h-1zM1342 348h1v1h-1zM1342 354h1v1h-1zM1342 360h1v1h-1zM1342 366h1v1h-1zM1342 372h1v1h-1zM1342 378h1v1h-1zM1342 384h1v1h-1zM1342 390h1v1h-1zM1342 396h1v1h-1zM1342 402h1v1h-1zM1342 408h1v1h-1zM1342 414h1v1h-1zM1342 420h1v1h-1zM1342 426h1v1h-1zM1342 432h1v1h-1zM1342 438h1v1h-1zM1342 444h1v1h-1zM1342 450h1v1h-1zM1342 456h1v1h-1zM1342 462h1v1h-1zM1342 468h1v1h-1zM1342 474h1v1h-1zM1342 480h1v1h-1zM1342 486h1v1h-1zM1342 492h1v1h-1zM1342 498h1v1h-1zM1342 504h1v1h-1zM1342 510h1v1h-1zM1342 516h1v1h-1zM1342 522h1v1h-1zM1400 36h1v1h-1zM1400 42h1v1h-1zM1400 48h1v1h-1zM1400 54h1v1h-1zM1400 60h1v1h-1zM1400 66h1v1h-1zM1400 72h1v1h-1zM1400 78h1v1h-1zM1400 84h1v1h-1zM1400 90h1v1h-1zM1400 96h1v1h-1zM1400 102h1v1h-1zM1400 108h1v1h-1zM1400 114h1v1h-1zM1400 120h1v1h-1zM1400 126h1v1h-1zM1400 132h1v1h-1zM1400 138h1v1h-1zM1400 144h1v1h-1zM1400 150h1v1h-1zM1400 156h1v1h-1zM1400 162h1v1h-1zM1400 168h1v1h-1zM1400 174h1v1h-1zM1400 180h1v1h-1zM1400 186h1v1h-1zM1400 192h1v1h-1zM1400 198h1v1h-1zM1400 204h1v1h-1zM1400 210h1v1h-1zM1400 216h1v1h-1zM1400 222h1v1h-1zM1400 228h1v1h-1zM1400 234h1v1h-1zM1400 240h1v1h-1zM1400 246h1v1h-1zM1400 252h1v1h-1zM1400 258h1v1h-1zM1400 264h1v1h-1zM1400 270h1v1h-1zM1400 276h1v1h-1zM1400 282h1v1h-1zM1400 288h1v1h-1zM1400 294h1v1h-1zM1400 300h1v1h-1zM1400 306h1v1h-1zM1400 312h1v1h-1zM1400 318h1v1h-1zM1400 324h1v1h-1zM1400 330h1v1h-1zM1400 336h1v1h-1zM1400 342h1v1h-1zM1400 348h1v1h-1zM1400 354h1v1h-1zM1400 360h1v1h-1zM1400 366h1v1h-1zM1400 372h1v1h-1zM1400 378h1v1h-1zM1400 384h1v1h-1zM1400 390h1v1h-1zM1400 396h1v1h-1zM1400 402h1v1h-1zM1400 408h1v1h-1zM1400 414h1v1h-1zM1400 420h1v1h-1zM1400 426h1v1h-1zM1400 432h1v1h-1zM1400 438h1v1h-1zM1400 444h1v1h-1zM1400 450h1v1h-1zM1400 456h1v1h-1zM1400 462h1v1h-1zM1400 468h1v1h-1zM1400 474h1v1h-1zM1400 480h1v1h-1zM1400 486h1v1h-1zM1400 492h1v1h-1zM1400 498h1v1h-1zM1400 504h1v1h-1zM1400 510h1v1h-1zM1400 516h1v1h-1zM1400 522h1v1h-1zM1458 36h1v1h-1zM1458 42h1v1h-1zM1458 48h1v1h-1zM1458 54h1v1h-1zM1458 60h1v1h-1zM1458 66h1v1h-1zM1458 72h1v1h-1zM1458 78h1v1h-1zM1458 84h1v1h-1zM1458 90h1v1h-1zM1458 96h1v1h-1zM1458 102h1v1h-1zM1458 108h1v1h-1zM1458 114h1v1h-1zM1458 120h1v1h-1zM1458 126h1v1h-1zM1458 132h1v1h-1zM1458 138h1v1h-1zM1458 144h1v1h-1zM1458 150h1v1h-1zM1458 156h1v1h-1zM1458 162h1v1h-1zM1458 168h1v1h-1zM1458 174h1v1h-1zM1458 180h1v1h-1zM1458 186h1v1h-1zM1458 192h1v1h-1zM1458 198h1v1h-1zM1458 204h1v1h-1zM1458 210h1v1h-1zM1458 216h1v1h-1zM1458 222h1v1h-1zM1458 228h1v1h-1zM1458 234h1v1h-1zM1458 240h1v1h-1zM1458 246h1v1h-1zM1458 252h1v1h-1zM1458 258h1v1h-1zM1458 264h1v1h-1zM1458 270h1v1h-1zM1458 276h1v1h-1zM1458 282h1v1h-1zM1458 288h1v1h-1zM1458 294h1v1h-1zM1458 300h1v1h-1zM1458 306h1v1h-1zM1458 312h1v1h-1zM1458 318h1v1h-1zM1458 324h1v1h-1zM1458 330h1v1h-1zM1458 336h1v1h-1zM1458 342h1v1h-1zM1458 348h1v1h-1zM1458 354h1v1h-1zM1458 360h1v1h-1zM1458 366h1v1h-1zM1458 372h1v1h-1zM1458 378h1v1h-1zM1458 384h1v1h-1zM1458 390h1v1h-1zM1458 396h1v1h-1zM1458 402h1v1h-1zM1458 408h1v1h-1zM1458 414h1v1h-1zM1458 420h1v1h-1zM1458 426h1v1h-1zM1458 432h1v1h-1zM1458 438h1v1h-1zM1458 444h1v1h-1zM1458 450h1v1h-1zM1458 456h1v1h-1zM1458 462h1v1h-1zM1458 468h1v1h-1zM1458 474h1v1h-1zM1458 480h1v1h-1zM1458 486h1v1h-1zM1458 492h1v1h-1zM1458 498h1v1h-1zM1458 504h1v1h-1zM1458 510h1v1h-1zM1458 516h1v1h-1zM1458 522h1v1h-1zM1516 36h1v1h-1zM1516 42h1v1h-1zM1516 48h1v1h-1zM1516 54h1v1h-1zM1516 60h1v1h-1zM1516 66h1v1h-1zM1516 72h1v1h-1zM1516 78h1v1h-1zM1516 84h1v1h-1zM1516 90h1v1h-1zM1516 96h1v1h-1zM1516 102h1v1h-1zM1516 108h1v1h-1zM1516 114h1v1h-1zM1516 120h1v1h-1zM1516 126h1v1h-1zM1516 132h1v1h-1zM1516 138h1v1h-1zM1516 144h1v1h-1zM1516 150h1v1h-1zM1516 156h1v1h-1zM1516 162h1v1h-1zM1516 168h1v1h-1zM1516 174h1v1h-1zM1516 180h1v1h-1zM1516 186h1v1h-1zM1516 192h1v1h-1zM1516 198h1v1h-1zM1516 204h1v1h-1zM1516 210h1v1h-1zM1516 216h1v1h-1zM1516 222h1v1h-1zM1516 228h1v1h-1zM1516 234h1v1h-1zM1516 240h1v1h-1zM1516 246h1v1h-1zM1516 252h1v1h-1zM1516 258h1v1h-1zM1516 264h1v1h-1zM1516 270h1v1h-1zM1516 276h1v1h-1zM1516 282h1v1h-1zM1516 288h1v1h-1zM1516 294h1v1h-1zM1516 300h1v1h-1zM1516 306h1v1h-1zM1516 312h1v1h-1zM1516 318h1v1h-1zM1516 324h1v1h-1zM1516 330h1v1h-1zM1516 336h1v1h-1zM1516 342h1v1h-1zM1516 348h1v1h-1zM1516 354h1v1h-1zM1516 360h1v1h-1zM1516 366h1v1h-1zM1516 372h1v1h-1zM1516 378h1v1h-1zM1516 384h1v1h-1zM1516 390h1v1h-1zM1516 396h1v1h-1zM1516 402h1v1h-1zM1516 408h1v1h-1zM1516 414h1v1h-1zM1516 420h1v1h-1zM1516 426h1v1h-1zM1516 432h1v1h-1zM1516 438h1v1h-1zM1516 444h1v1h-1zM1516 450h1v1h-1zM1516 456h1v1h-1zM1516 462h1v1h-1zM1516 468h1v1h-1zM1516 474h1v1h-1zM1516 480h1v1h-1zM1516 486h1v1h-1zM1516 492h1v1h-1zM1516 498h1v1h-1zM1516 504h1v1h-1zM1516 510h1v1h-1zM1516 516h1v1h-1zM1516 522h1v1h-1zM1573 36h1v1h-1zM1574 42h1v1h-1zM1574 48h1v1h-1zM1574 54h1v1h-1zM1574 60h1v1h-1zM1574 66h1v1h-1zM1574 72h1v1h-1zM1574 78h1v1h-1zM1574 84h1v1h-1zM1574 90h1v1h-1zM1574 96h1v1h-1zM1574 102h1v1h-1zM1574 108h1v1h-1zM1574 114h1v1h-1zM1574 120h1v1h-1zM1574 126h1v1h-1zM1574 132h1v1h-1zM1574 138h1v1h-1zM1574 144h1v1h-1zM1574 150h1v1h-1zM1574 156h1v1h-1zM1574 162h1v1h-1zM1574 168h1v1h-1zM1574 174h1v1h-1zM1574 180h1v1h-1zM1574 186h1v1h-1zM1574 192h1v1h-1zM1574 198h1v1h-1zM1574 204h1v1h-1zM1574 210h1v1h-1zM1574 216h1v1h-1zM1574 222h1v1h-1zM1574 228h1v1h-1zM1574 234h1v1h-1zM1574 240h1v1h-1zM1574 246h1v1h-1zM1574 252h1v1h-1zM1574 258h1v1h-1zM1574 264h1v1h-1zM1574 270h1v1h-1zM1574 276h1v1h-1zM1574 282h1v1h-1zM1574 288h1v1h-1zM1574 294h1v1h-1zM1574 300h1v1h-1zM1574 306h1v1h-1zM1574 312h1v1h-1zM1574 318h1v1h-1zM1574 324h1v1h-1zM1574 330h1v1h-1zM1574 336h1v1h-1zM1574 342h1v1h-1zM1574 348h1v1h-1zM1574 354h1v1h-1zM1574 360h1v1h-1zM1574 366h1v1h-1zM1574 372h1v1h-1zM1574 378h1v1h-1zM1574 384h1v1h-1zM1574 390h1v1h-1zM1574 396h1v1h-1zM1574 402h1v1h-1zM1574 408h1v1h-1zM1574 414h1v1h-1zM1574 420h1v1h-1zM1574 426h1v1h-1zM1574 432h1v1h-1zM1574 438h1v1h-1zM1574 444h1v1h-1zM1574 450h1v1h-1zM1574 456h1v1h-1zM1574 462h1v1h-1zM1574 468h1v1h-1zM1574 474h1v1h-1zM1574 480h1v1h-1zM1574 486h1v1h-1zM1574 492h1v1h-1zM1574 498h1v1h-1zM1574 504h1v1h-1zM1574 510h1v1h-1zM1574 516h1v1h-1zM1574 522h1v1h-1zM877 114h1v1h-1zM883 114h1v1h-1zM889 114h1v1h-1zM895 114h1v1h-1zM901 114h1v1h-1zM907 114h1v1h-1zM913 114h1v1h-1zM919 114h1v1h-1zM925 114h1v1h-1zM931 114h1v1h-1zM937 114h1v1h-1zM943 114h1v1h-1zM949 114h1v1h-1zM955 114h1v1h-1zM961 114h1v1h-1zM967 114h1v1h-1zM973 114h1v1h-1zM979 114h1v1h-1zM985 114h1v1h-1zM991 114h1v1h-1zM997 114h1v1h-1zM1003 114h1v1h-1zM1009 114h1v1h-1zM1015 114h1v1h-1zM1021 114h1v1h-1zM1027 114h1v1h-1zM1033 114h1v1h-1zM1039 114h1v1h-1zM1045 114h1v1h-1zM1051 114h1v1h-1zM1057 114h1v1h-1zM1063 114h1v1h-1zM1069 114h1v1h-1zM1075 114h1v1h-1zM1081 114h1v1h-1zM1087 114h1v1h-1zM1093 114h1v1h-1zM1099 114h1v1h-1zM1105 114h1v1h-1zM1111 114h1v1h-1zM1117 114h1v1h-1zM1123 114h1v1h-1zM1129 114h1v1h-1zM1135 114h1v1h-1zM1141 114h1v1h-1zM1147 114h1v1h-1zM1153 114h1v1h-1zM1159 114h1v1h-1zM1165 114h1v1h-1zM1171 114h1v1h-1zM1177 114h1v1h-1zM1183 114h1v1h-1zM1189 114h1v1h-1zM1195 114h1v1h-1zM1201 114h1v1h-1zM1207 114h1v1h-1zM1213 114h1v1h-1zM1219 114h1v1h-1zM1225 114h1v1h-1zM1231 114h1v1h-1zM1237 114h1v1h-1zM1243 114h1v1h-1zM1249 114h1v1h-1zM1255 114h1v1h-1zM1261 114h1v1h-1zM1267 114h1v1h-1zM1273 114h1v1h-1zM1279 114h1v1h-1zM1285 114h1v1h-1zM1291 114h1v1h-1zM1297 114h1v1h-1zM1303 114h1v1h-1zM1309 114h1v1h-1zM1315 114h1v1h-1zM1321 114h1v1h-1zM1327 114h1v1h-1zM1333 114h1v1h-1zM1339 114h1v1h-1zM1345 114h1v1h-1zM1351 114h1v1h-1zM1357 114h1v1h-1zM1363 114h1v1h-1zM1369 114h1v1h-1zM1375 114h1v1h-1zM1381 114h1v1h-1zM1387 114h1v1h-1zM1393 114h1v1h-1zM1399 114h1v1h-1zM1405 114h1v1h-1zM1411 114h1v1h-1zM1417 114h1v1h-1zM1423 114h1v1h-1zM1429 114h1v1h-1zM1435 114h1v1h-1zM1441 114h1v1h-1zM1447 114h1v1h-1zM1453 114h1v1h-1zM1459 114h1v1h-1zM1465 114h1v1h-1zM1471 114h1v1h-1zM1477 114h1v1h-1zM1483 114h1v1h-1zM1489 114h1v1h-1zM1495 114h1v1h-1zM1501 114h1v1h-1zM1507 114h1v1h-1zM1513 114h1v1h-1zM1519 114h1v1h-1zM1525 114h1v1h-1zM1531 114h1v1h-1zM1537 114h1v1h-1zM1543 114h1v1h-1zM1549 114h1v1h-1zM1555 114h1v1h-1zM1561 114h1v1h-1zM1567 114h1v1h-1zM1573 114h1v1h-1zM877 196h1v1h-1zM883 196h1v1h-1zM889 196h1v1h-1zM895 196h1v1h-1zM901 196h1v1h-1zM907 196h1v1h-1zM913 196h1v1h-1zM919 196h1v1h-1zM925 196h1v1h-1zM931 196h1v1h-1zM937 196h1v1h-1zM943 196h1v1h-1zM949 196h1v1h-1zM955 196h1v1h-1zM961 196h1v1h-1zM967 196h1v1h-1zM973 196h1v1h-1zM979 196h1v1h-1zM985 196h1v1h-1zM991 196h1v1h-1zM997 196h1v1h-1zM1003 196h1v1h-1zM1009 196h1v1h-1zM1015 196h1v1h-1zM1021 196h1v1h-1zM1027 196h1v1h-1zM1033 196h1v1h-1zM1039 196h1v1h-1zM1045 196h1v1h-1zM1051 196h1v1h-1zM1057 196h1v1h-1zM1063 196h1v1h-1zM1069 196h1v1h-1zM1075 196h1v1h-1zM1081 196h1v1h-1zM1087 196h1v1h-1zM1093 196h1v1h-1zM1099 196h1v1h-1zM1105 196h1v1h-1zM1111 196h1v1h-1zM1117 196h1v1h-1zM1123 196h1v1h-1zM1129 196h1v1h-1zM1135 196h1v1h-1zM1141 196h1v1h-1zM1147 196h1v1h-1zM1153 196h1v1h-1zM1159 196h1v1h-1zM1165 196h1v1h-1zM1171 196h1v1h-1zM1177 196h1v1h-1zM1183 196h1v1h-1zM1189 196h1v1h-1zM1195 196h1v1h-1zM1201 196h1v1h-1zM1207 196h1v1h-1zM1213 196h1v1h-1zM1219 196h1v1h-1zM1225 196h1v1h-1zM1231 196h1v1h-1zM1237 196h1v1h-1zM1243 196h1v1h-1zM1249 196h1v1h-1zM1255 196h1v1h-1zM1261 196h1v1h-1zM1267 196h1v1h-1zM1273 196h1v1h-1zM1279 196h1v1h-1zM1285 196h1v1h-1zM1291 196h1v1h-1zM1297 196h1v1h-1zM1303 196h1v1h-1zM1309 196h1v1h-1zM1315 196h1v1h-1zM1321 196h1v1h-1zM1327 196h1v1h-1zM1333 196h1v1h-1zM1339 196h1v1h-1zM1345 196h1v1h-1zM1351 196h1v1h-1zM1357 196h1v1h-1zM1363 196h1v1h-1zM1369 196h1v1h-1zM1375 196h1v1h-1zM1381 196h1v1h-1zM1387 196h1v1h-1zM1393 196h1v1h-1zM1399 196h1v1h-1zM1405 196h1v1h-1zM1411 196h1v1h-1zM1417 196h1v1h-1zM1423 196h1v1h-1zM1429 196h1v1h-1zM1435 196h1v1h-1zM1441 196h1v1h-1zM1447 196h1v1h-1zM1453 196h1v1h-1zM1459 196h1v1h-1zM1465 196h1v1h-1zM1471 196h1v1h-1zM1477 196h1v1h-1zM1483 196h1v1h-1zM1489 196h1v1h-1zM1495 196h1v1h-1zM1501 196h1v1h-1zM1507 196h1v1h-1zM1513 196h1v1h-1zM1519 196h1v1h-1zM1525 196h1v1h-1zM1531 196h1v1h-1zM1537 196h1v1h-1zM1543 196h1v1h-1zM1549 196h1v1h-1zM1555 196h1v1h-1zM1561 196h1v1h-1zM1567 196h1v1h-1zM1573 196h1v1h-1zM877 277h1v1h-1zM883 277h1v1h-1zM889 277h1v1h-1zM895 277h1v1h-1zM901 277h1v1h-1zM907 277h1v1h-1zM913 277h1v1h-1zM919 277h1v1h-1zM925 277h1v1h-1zM931 277h1v1h-1zM937 277h1v1h-1zM943 277h1v1h-1zM949 277h1v1h-1zM955 277h1v1h-1zM961 277h1v1h-1zM967 277h1v1h-1zM973 277h1v1h-1zM979 277h1v1h-1zM985 277h1v1h-1zM991 277h1v1h-1zM997 277h1v1h-1zM1003 277h1v1h-1zM1009 277h1v1h-1zM1015 277h1v1h-1zM1021 277h1v1h-1zM1027 277h1v1h-1zM1033 277h1v1h-1zM1039 277h1v1h-1zM1045 277h1v1h-1zM1051 277h1v1h-1zM1057 277h1v1h-1zM1063 277h1v1h-1zM1069 277h1v1h-1zM1075 277h1v1h-1zM1081 277h1v1h-1zM1087 277h1v1h-1zM1093 277h1v1h-1zM1099 277h1v1h-1zM1105 277h1v1h-1zM1111 277h1v1h-1zM1117 277h1v1h-1zM1123 277h1v1h-1zM1129 277h1v1h-1zM1135 277h1v1h-1zM1141 277h1v1h-1zM1147 277h1v1h-1zM1153 277h1v1h-1zM1159 277h1v1h-1zM1165 277h1v1h-1zM1171 277h1v1h-1zM1177 277h1v1h-1zM1183 277h1v1h-1zM1189 277h1v1h-1zM1195 277h1v1h-1zM1201 277h1v1h-1zM1207 277h1v1h-1zM1213 277h1v1h-1zM1219 277h1v1h-1zM1225 277h1v1h-1zM1231 277h1v1h-1zM1237 277h1v1h-1zM1243 277h1v1h-1zM1249 277h1v1h-1zM1255 277h1v1h-1zM1261 277h1v1h-1zM1267 277h1v1h-1zM1273 277h1v1h-1zM1279 277h1v1h-1zM1285 277h1v1h-1zM1291 277h1v1h-1zM1297 277h1v1h-1zM1303 277h1v1h-1zM1309 277h1v1h-1zM1315 277h1v1h-1zM1321 277h1v1h-1zM1327 277h1v1h-1zM1333 277h1v1h-1zM1339 277h1v1h-1zM1345 277h1v1h-1zM1351 277h1v1h-1zM1357 277h1v1h-1zM1363 277h1v1h-1zM1369 277h1v1h-1zM1375 277h1v1h-1zM1381 277h1v1h-1zM1387 277h1v1h-1zM1393 277h1v1h-1zM1399 277h1v1h-1zM1405 277h1v1h-1zM1411 277h1v1h-1zM1417 277h1v1h-1zM1423 277h1v1h-1zM1429 277h1v1h-1zM1435 277h1v1h-1zM1441 277h1v1h-1zM1447 277h1v1h-1zM1453 277h1v1h-1zM1459 277h1v1h-1zM1465 277h1v1h-1zM1471 277h1v1h-1zM1477 277h1v1h-1zM1483 277h1v1h-1zM1489 277h1v1h-1zM1495 277h1v1h-1zM1501 277h1v1h-1zM1507 277h1v1h-1zM1513 277h1v1h-1zM1519 277h1v1h-1zM1525 277h1v1h-1zM1531 277h1v1h-1zM1537 277h1v1h-1zM1543 277h1v1h-1zM1549 277h1v1h-1zM1555 277h1v1h-1zM1561 277h1v1h-1zM1567 277h1v1h-1zM1573 277h1v1h-1zM877 359h1v1h-1zM883 359h1v1h-1zM889 359h1v1h-1zM895 359h1v1h-1zM901 359h1v1h-1zM907 359h1v1h-1zM913 359h1v1h-1zM919 359h1v1h-1zM925 359h1v1h-1zM931 359h1v1h-1zM937 359h1v1h-1zM943 359h1v1h-1zM949 359h1v1h-1zM955 359h1v1h-1zM961 359h1v1h-1zM967 359h1v1h-1zM973 359h1v1h-1zM979 359h1v1h-1zM985 359h1v1h-1zM991 359h1v1h-1zM997 359h1v1h-1zM1003 359h1v1h-1zM1009 359h1v1h-1zM1015 359h1v1h-1zM1021 359h1v1h-1zM1027 359h1v1h-1zM1033 359h1v1h-1zM1039 359h1v1h-1zM1045 359h1v1h-1zM1051 359h1v1h-1zM1057 359h1v1h-1zM1063 359h1v1h-1zM1069 359h1v1h-1zM1075 359h1v1h-1zM1081 359h1v1h-1zM1087 359h1v1h-1zM1093 359h1v1h-1zM1099 359h1v1h-1zM1105 359h1v1h-1zM1111 359h1v1h-1zM1117 359h1v1h-1zM1123 359h1v1h-1zM1129 359h1v1h-1zM1135 359h1v1h-1zM1141 359h1v1h-1zM1147 359h1v1h-1zM1153 359h1v1h-1zM1159 359h1v1h-1zM1165 359h1v1h-1zM1171 359h1v1h-1zM1177 359h1v1h-1zM1183 359h1v1h-1zM1189 359h1v1h-1zM1195 359h1v1h-1zM1201 359h1v1h-1zM1207 359h1v1h-1zM1213 359h1v1h-1zM1219 359h1v1h-1zM1225 359h1v1h-1zM1231 359h1v1h-1zM1237 359h1v1h-1zM1243 359h1v1h-1zM1249 359h1v1h-1zM1255 359h1v1h-1zM1261 359h1v1h-1zM1267 359h1v1h-1zM1273 359h1v1h-1zM1279 359h1v1h-1zM1285 359h1v1h-1zM1291 359h1v1h-1zM1297 359h1v1h-1zM1303 359h1v1h-1zM1309 359h1v1h-1zM1315 359h1v1h-1zM1321 359h1v1h-1zM1327 359h1v1h-1zM1333 359h1v1h-1zM1339 359h1v1h-1zM1345 359h1v1h-1zM1351 359h1v1h-1zM1357 359h1v1h-1zM1363 359h1v1h-1zM1369 359h1v1h-1zM1375 359h1v1h-1zM1381 359h1v1h-1zM1387 359h1v1h-1zM1393 359h1v1h-1zM1399 359h1v1h-1zM1405 359h1v1h-1zM1411 359h1v1h-1zM1417 359h1v1h-1zM1423 359h1v1h-1zM1429 359h1v1h-1zM1435 359h1v1h-1zM1441 359h1v1h-1zM1447 359h1v1h-1zM1453 359h1v1h-1zM1459 359h1v1h-1zM1465 359h1v1h-1zM1471 359h1v1h-1zM1477 359h1v1h-1zM1483 359h1v1h-1zM1489 359h1v1h-1zM1495 359h1v1h-1zM1501 359h1v1h-1zM1507 359h1v1h-1zM1513 359h1v1h-1zM1519 359h1v1h-1zM1525 359h1v1h-1zM1531 359h1v1h-1zM1537 359h1v1h-1zM1543 359h1v1h-1zM1549 359h1v1h-1zM1555 359h1v1h-1zM1561 359h1v1h-1zM1567 359h1v1h-1zM1573 359h1v1h-1zM877 441h1v1h-1zM883 441h1v1h-1zM889 441h1v1h-1zM895 441h1v1h-1zM901 441h1v1h-1zM907 441h1v1h-1zM913 441h1v1h-1zM919 441h1v1h-1zM925 441h1v1h-1zM931 441h1v1h-1zM937 441h1v1h-1zM943 441h1v1h-1zM949 441h1v1h-1zM955 441h1v1h-1zM961 441h1v1h-1zM967 441h1v1h-1zM973 441h1v1h-1zM979 441h1v1h-1zM985 441h1v1h-1zM991 441h1v1h-1zM997 441h1v1h-1zM1003 441h1v1h-1zM1009 441h1v1h-1zM1015 441h1v1h-1zM1021 441h1v1h-1zM1027 441h1v1h-1zM1033 441h1v1h-1zM1039 441h1v1h-1zM1045 441h1v1h-1zM1051 441h1v1h-1zM1057 441h1v1h-1zM1063 441h1v1h-1zM1069 441h1v1h-1zM1075 441h1v1h-1zM1081 441h1v1h-1zM1087 441h1v1h-1zM1093 441h1v1h-1zM1099 441h1v1h-1zM1105 441h1v1h-1zM1111 441h1v1h-1zM1117 441h1v1h-1zM1123 441h1v1h-1zM1129 441h1v1h-1zM1135 441h1v1h-1zM1141 441h1v1h-1zM1147 441h1v1h-1zM1153 441h1v1h-1zM1159 441h1v1h-1zM1165 441h1v1h-1zM1171 441h1v1h-1zM1177 441h1v1h-1zM1183 441h1v1h-1zM1189 441h1v1h-1zM1195 441h1v1h-1zM1201 441h1v1h-1zM1207 441h1v1h-1zM1213 441h1v1h-1zM1219 441h1v1h-1zM1225 441h1v1h-1zM1231 441h1v1h-1zM1237 441h1v1h-1zM1243 441h1v1h-1zM1249 441h1v1h-1zM1255 441h1v1h-1zM1261 441h1v1h-1zM1267 441h1v1h-1zM1273 441h1v1h-1zM1279 441h1v1h-1zM1285 441h1v1h-1zM1291 441h1v1h-1zM1297 441h1v1h-1zM1303 441h1v1h-1zM1309 441h1v1h-1zM1315 441h1v1h-1zM1321 441h1v1h-1zM1327 441h1v1h-1zM1333 441h1v1h-1zM1339 441h1v1h-1zM1345 441h1v1h-1zM1351 441h1v1h-1zM1357 441h1v1h-1zM1363 441h1v1h-1zM1369 441h1v1h-1zM1375 441h1v1h-1zM1381 441h1v1h-1zM1387 441h1v1h-1zM1393 441h1v1h-1zM1399 441h1v1h-1zM1405 441h1v1h-1zM1411 441h1v1h-1zM1417 441h1v1h-1zM1423 441h1v1h-1zM1429 441h1v1h-1zM1435 441h1v1h-1zM1441 441h1v1h-1zM1447 441h1v1h-1zM1453 441h1v1h-1zM1459 441h1v1h-1zM1465 441h1v1h-1zM1471 441h1v1h-1zM1477 441h1v1h-1zM1483 441h1v1h-1zM1489 441h1v1h-1zM1495 441h1v1h-1zM1501 441h1v1h-1zM1507 441h1v1h-1zM1513 441h1v1h-1zM1519 441h1v1h-1zM1525 441h1v1h-1zM1531 441h1v1h-1zM1537 441h1v1h-1zM1543 441h1v1h-1zM1549 441h1v1h-1zM1555 441h1v1h-1zM1561 441h1v1h-1zM1567 441h1v1h-1zM1573 441h1v1h-1z" fill="#000" shape-rendering="crispEdges"/>
<g clip-path="url(#coastclip)" fill="none" stroke="#000" stroke-width="1" stroke-linejoin="round" shape-rendering="crispEdges">
<path d="M877 89.5 885 93 894 95.5 897.5 98 895 99.5 891.5 101.5 891 103 885 100.5 880 99.5 877 99"/>
<path d="M877 83.5 883 83.5 883 84.5 877 84.5"/>
<path d="M893 104.5 899 105 897 106 893 105.5 893 104.5"/>
<path d="M904 131 907 130 910 128 914 125.5 918 123 921 121 921.5 119 920 117.5 917 118 914 117 912 115 907 114.5 902 114.5 905 112 904 109.5 906 107 908.5 105.5 913 105 915.5 103.5 914.5 102 911 102.5 905 101 901.5 99 904.5 96.5 909.5 95.5 910 94 905 92 904 90.5 912 86.5 923 83.5 924.5 83.5 932 86 944 86.8 960 90.5 964 89 969 88 974 86 978.5 85.5 983 88.2 985 87.5 987 89.5 989 87.5 992 87.8 995 89 997.5 90 1001 89.5 1002 93.5 1006 93 1010 93.5 1014 93.5 1017 91 1020 89.5 1022.5 90.5 1025 92 1028 93.5 1032 93.5 1035 92 1036 89.5 1039 92 1039.5 94.5 1041.5 92 1044 89 1048 88 1052 90 1056 94 1059 94.5 1060 91 1064 89 1068 89.5 1069 93 1066 95.5 1060 97 1058 99 1056 102 1051 103 1048 107 1044 110 1042.5 114 1043 117.5 1047 121 1052 123 1058 125 1064 127 1067 128.5 1068 133 1071 138.5 1074 135 1073 129 1077.5 125 1077.5 121 1076.5 119 1074 117 1076 114 1076 110 1076.5 108 1082 108.5 1086 109 1090 112 1092 116 1095 119 1097 117 1100 114 1103 117 1106 120 1108 126 1114 130 1118 133 1118.5 134 1117 137 1112 139 1104 141 1097 141.5 1095 143.5 1088 150 1089.5 149.5 1096 144 1098 143 1100 146 1104 148 1108 151 1110 152 1106 154 1100 155 1098 154.5 1092 157 1089 161 1090 164 1083 167 1080 171 1078.5 176 1079 181 1076 185 1071 189 1068 192 1069.5 198 1071 203 1070.5 207 1069.5 209 1068 206 1066.5 202 1065.5 199 1064 196.5 1060 195 1055 194.5 1052 195 1051 198 1048 197 1044 196.5 1040 200 1037 203 1037 210 1036 216 1039 223 1042 228 1048 227.5 1050 225 1052 220 1058 219.5 1056.5 225 1055 234 1059 234.5 1064 235 1065 238 1064.5 242 1064 247 1067 252 1071 253.5 1074 253 1078 254 1081 248 1086 245 1090 244.5 1094 249 1100 250 1104 248.5 1108 249 1110 254 1114 259.5 1119 261 1123 263 1127 267 1129 273 1128 278 1133 279 1139 282 1141 285 1148 285.5 1153 290 1158 293 1158.7 300.9 1154.6 306.4 1150.5 314.6 1150.5 324.1 1149 332.3 1145 339.8 1138.2 341.8 1132.8 346 1132.8 352.8 1128.7 362.3 1120.5 371.9 1113 371.2 1115 371.9 1115.7 377.3 1113.7 382.8 1106.8 384.1 1105.5 388.2 1100 388.9 1101.4 393.7 1097.3 399.1 1095 403.2 1098.7 407.3 1093 414 1091.8 419.6 1094.6 422 1100 426.4 1094.6 428.5 1087.7 426.4 1085 425 1081 419.6 1079.6 411.4 1081.6 401.9 1083.7 393.7 1083.7 385.5 1085 377.3 1087.7 367.8 1087.7 359.6 1089 348.7 1090.5 338 1090.5 328 1089 325.5 1081 320 1078 314.5 1074 301 1072 298 1069 293 1069 289 1071 286 1070 284 1070 279 1072 275 1074 271 1076.5 268 1076 259 1075 254 1073 252 1071 256 1070 258 1069 256.5 1065 254 1061 250 1059 246 1056 241.5 1050 240 1045 236 1042 233.5 1037 235 1031 231 1026 228 1022 221 1021 215 1017 208 1012 201 1007 194 1004 192 1007 196 1010 202 1013 207 1014.5 215 1014 215 1010 210 1009 207 1004 203 1003 197 1002 194 1000 190 998 186 994 184 991 179 989 174 985.5 168 985.5 160 987 153 986 147 983 142 979 139 978 136 975 132 974 129 970 126.5 967 123 964 120 960 118 955 114.5 950 114.5 944 113.5 940 112 936.5 111.5 934 114 936 116 932 118 928 120 922 123 916 126.5 910 130 905 132 904 131"/>
<path d="M979 140 983 141 987 144 989 148 986 146.5 982 143 979 140"/>
<path d="M927 119 931 117.5 932 121 928 123 927 119"/>
<path d="M904 131 899 134 895 135"/>
<path d="M888 136 891 135.5"/>
<path d="M881 137.5 884 136.5"/>
<path d="M917 216 920 217.5 922 220 925 222.5 926 225.5 923 224"/>
<path d="M985 76 993 75 999 75.5 996 78 992 80 990 83 985 83 983 80 985 76"/>
<path d="M995 80 1000 78 1010 78 1018 77.5 1024 77 1022 80 1024 84 1031 86 1034 89 1030 91 1024 90.5 1018 89 1012 90 1004 91 1000 88 997 86 995 83 995 80"/>
<path d="M985 70.5 993 67 1002 65.5 1006 66 1000 68.5 996 71 990 71.5 985 70.5"/>
<path d="M998 72 1003 69 1010 68 1016 69 1021 72.5 1015 73.5 1008 74 1002 73.5 998 72"/>
<path d="M1020 62 1025 61.5 1031 62.5 1033 65 1037.5 63.5 1041.5 64.5 1039 67 1032.5 66 1026.5 65.5 1022.5 64 1020 62"/>
<path d="M1047.5 72.5 1050 70.5 1055 69.5 1062.5 69.5 1070 70 1071.5 73 1067.5 74.5 1062.5 74.5 1055 75 1050 75 1048 74 1047.5 72.5"/>
<path d="M1028.5 69.5 1035 69.5 1036.5 71.5 1035 73.5 1029 73.5 1028 71.5 1028.5 69.5"/>
<path d="M1039.5 73.5 1042.5 72 1044.5 73 1044 74.5 1040 74.5 1039.5 73.5"/>
<path d="M1026.5 79.5 1030 77 1036.5 76.5 1039 78.5 1039.5 82 1034 83.5 1030 81 1026.5 79.5"/>
<path d="M1042 77 1050 76.5 1051 79 1045 80 1044 81.5 1042 82 1042 77"/>
<path d="M1042.5 58.5 1046 56.2 1050 56.5 1052 58 1055 58 1065 59 1075 57.2 1072.5 58.5 1064 59.5 1059 60 1061 63 1055 64.5 1047 65 1045 62.5 1044.5 60.5 1042.5 59.5 1042.5 58.5"/>
<path d="M1052 54 1065 52.5 1075 51.5 1085 51.5 1095 51.8 1105 53.5 1106 55.5 1100 57 1090 60 1083 62.5 1078 65.5 1073 68.5 1068 70 1062 69.5 1057 70 1056 67 1059 64.5 1061 62 1058 59 1053 58 1051 56 1052 54"/>
<path d="M1069 78 1075 76.5 1082 78 1090 82 1096 86 1100 90 1106 93.5 1108 97 1104 99 1098 98 1097 101 1100 104 1098 107 1092 105 1086 103 1080 102 1075 101 1074 99.5 1080 97.5 1082 95 1078 91 1074 88 1069 87 1066 85 1067 81 1069 78"/>
<path d="M1064 108 1069 107.5 1071 110 1066 110.5 1064 108"/>
<path d="M1112 139 1117 137.5 1121 139 1119 142 1124 145 1122 148 1116 147 1113 144 1112 139"/>
<path d="M1108 54 1116 53.5 1124 54.5 1135 53 1145 50.5 1156 50.5 1175 50.5 1180 52.5 1187 53.5 1190 55.5 1203 56 1198 58 1190 62 1188 65 1190 68 1186 69 1188 72 1190 73 1186 78 1182 82 1178 85 1183 86 1180 88 1174 90.5 1165 92.5 1160 96 1156 99 1148 100 1147 105 1144 108 1143 114 1141 115.5 1134 112.5 1130 109 1126 103 1123 99 1122.5 93 1127 91.5 1126.5 85 1122 83 1119 82 1118 77 1114 72 1110 71 1107 71 1098 70.5 1092 70.5 1088 68 1085 65 1093 64 1099 62 1095 60 1096 58.5 1104 56 1108 54"/>
<path d="M1120 85 1126 84 1127 89 1121 90 1120 85"/>
<path d="M1180 98 1186 99 1194 96.5 1199 99 1199 102 1190 105 1183 104 1180 101 1180 98"/>
<path d="M1247 60.3 1253.8 60.3 1257 60.6 1260.6 59 1263.8 58.4 1266.2 59.4 1278 59.7 1275 61.6 1267.5 62.5 1263 61.9 1262.5 64.4 1258 69.4 1252.5 65.6 1247.5 62.5 1247 60.3"/>
<path d="M1266 64.5 1272 65 1275 66.5 1267 67.5 1266 64.5"/>
<path d="M1252.8 126.8 1254.2 125.6 1256.5 124.9 1258 122.2 1258.4 118.5 1260.2 117 1261.8 115.1 1260.6 113.6 1259.5 112.1 1259.5 108 1259 107 1264 104 1268 101 1270 98.5 1274 99 1271 102 1268 106 1267.4 108 1268.5 110.2 1267.4 111.4 1267.8 113.2 1269.2 114.6 1274 113.2 1279.8 113.6 1283.5 114.4 1285.8 114.4 1280.5 116.2 1276.8 116.2 1273 115.9 1270.4 117.8 1268.5 120.4 1266.2 123 1266.6 126.8 1265.5 127.5 1264.4 129.4 1262.9 130.5 1261.8 128.4 1259.5 128.4 1258 130.1 1253.5 131.2 1250.5 129.4 1246.8 130.5 1245 128 1244.9 126 1245.2 123 1246.8 122.2 1245.6 121.5 1242.2 122.2 1241 124.5 1241.5 127 1242.2 129.4 1242.2 132 1237 133 1234 136 1230 140 1225 143 1220 145 1217 146 1220 148 1223 152 1224 156 1223 159 1210 159.5 1209 163 1208 172 1209 176 1214 178 1218 177.5 1224 176 1226 173 1226 168 1230 164 1231.1 160.4 1233.8 159.4 1235.6 160.4 1238.6 160.2 1241.2 158.5 1242.4 157.4 1244.6 157.4 1245.4 158.9 1247.2 161.9 1249.5 164.1 1251.8 165.4 1254 167.1 1256.2 168.6 1257.4 170.5 1257 172 1257 173.5 1258.5 173.5 1258.5 169.4 1258.9 166.8 1261.1 169 1259.6 166.8 1257.8 165.2 1257.4 164.5 1255.5 164.1 1253.6 162.2 1252.5 160 1250.2 158.1 1249.1 157 1249.1 154.4 1251.8 153.2 1254 155.5 1255.5 157.8 1258.5 159.2 1260.8 161.5 1263.4 164.1 1263.8 167.5 1264.5 169.8 1266.4 172.4 1267.5 173.5 1267.5 176.9 1269.8 178 1270.5 175 1273.1 174.6 1271.2 172 1270.5 169.4 1269.8 167.5 1273.1 166.4 1275 166.4 1276.5 167.5 1279.5 166.4 1282.5 167.1 1284.4 168.2"/>
<path d="M1276.5 167.9 1276.9 171.2 1278 174.2 1279.5 177.2 1280 179.5 1281.8 177.6 1284 179.9 1285.5 177.6 1288.5 178.8 1290 179.5 1292.8 177.8 1295.4 177.8 1295.8 183 1294 190 1293 195 1297.6 207.6 1301.1 214.6 1302 220.7 1305.5 225.1 1309 232.1 1309.9 242.6 1316.9 240 1326.5 234.7 1329.1 232.1 1334.4 229.5 1337 225.1 1340.5 219.9 1342.2 216.4 1339.6 213.7 1336.1 212 1335.2 205.9 1331.7 210.2 1327.4 212.9 1324.7 207.6 1320.4 201.5 1318.6 197.1 1321.2 194.5 1324.7 196.2 1326.5 202.4 1330 205 1335.2 205 1338.7 207.6 1344 209.4 1350.1 208.5 1353.6 208.5 1356.2 212 1359.7 216.4 1363.2 221.6 1365.9 218.1 1366.7 226.9 1367.6 233.9 1370.2 237.4 1372 244.4 1374.6 252.2 1375.5 254.9 1377.2 254 1379.9 249.6 1380.7 245.2 1381.6 234.7 1385.1 232.1 1390.4 225.1 1394.7 219.9 1400 218.1 1403 216 1408 226 1409 234 1413 231 1415 234 1416 240 1417 250 1418 256 1421 262 1424 268 1427 273 1426 265 1421 259 1420 250 1419 245 1420 242 1424 244 1426 248 1429 251 1430 253 1433 249 1437 246 1437.5 240 1436 235 1433 231 1430 227 1431 222 1436 219 1439 219 1445 217 1452 215 1454 212 1457 209 1458 205 1461 201 1462 197 1461.6 192.9 1461.2 190.2 1459.8 188 1459 185 1456.4 182.8 1459 179.8 1459.8 177.9 1463.9 176.4 1461.2 176.8 1458.6 176 1456.4 176.4 1455.6 174.9 1453.8 173 1453.4 171.1 1456 170.4 1459 167.8 1461.2 166.2 1462 168.5 1461 171.5 1462.8 170.4 1465.4 169.2 1467.2 169.2 1468.4 170.4 1467.6 172.2 1467.6 174.5 1470.2 175.6 1470.6 177.5 1471.4 179.8 1470.2 181.2 1470.4 184.2 1471 183.5 1474.4 182.4 1476.4 181.6 1476.4 176.4 1475.5 174.9 1474.4 172.6 1472.5 171.1 1472.5 169.6 1474.4 168.5 1476.4 167.4 1476.4 164.4 1478.5 162.5 1480.8 160.2 1483 161.4 1486 159.5 1488.6 158 1489.8 155 1494 150 1498 145 1498 136 1499 132 1492 131 1488 129 1492 125 1498 119 1501 116.5 1517 115.5 1520 117.5 1524 117 1526 113 1532 109 1536 110 1540 108 1543 109 1540 113 1534 119 1529 121 1526 125 1527 130 1528 137 1527 141.5 1531 137.5 1532.2 134.2 1535.5 132.7 1536.2 129.5 1539.1 128.4 1538.4 126.2 1540.9 124.7 1540.5 121 1539.5 119.6 1540.9 118.2 1542.7 116.4 1544.5 115 1546.7 113.5 1547.5 114.5 1550.4 113.5 1554.7 113.5 1555.5 114.2 1558 111.6 1559.8 110.5 1562.7 110.2 1564.2 108.4 1568.2 107.5 1571.5 108.4 1574.4 108.4"/>
<path d="M1574.4 100 1572.2 102.2 1572.5 106.5 1574.4 108.4"/>
<path d="M1530 109.5 1533.6 109.5 1535.5 111.6 1535 113.5 1537.3 112.4 1539.1 110.5 1540.9 110.5 1541.6 107.6 1544.5 107.5 1542.7 109.8 1542.4 112"/>
<path d="M1252.8 126.8 1251.6 124.5 1249.4 121.5 1248.6 118.5 1246.4 116.2 1243 118.9 1240 120 1237.4 119.2 1236.2 118.5 1236 115 1235.5 110 1238 107 1244 104 1249 100 1251.2 93.8 1255 90.6 1258.8 88.1 1265 86.9 1270 84.4 1277.5 84.4 1283.8 85 1287.5 87.5 1294.4 89.4 1300 91.9 1305 93.1 1305.6 96.9 1302.5 98.1 1297.5 97.5 1293 96.9 1294 102 1299 103 1304 101 1306 98 1310.6 96.2 1312.5 94.4 1315.6 93.1 1317.5 95.6 1320.6 93.1 1327.5 90 1330.6 90.6 1332.5 91.9 1337 90 1340 89.4 1344 88.5 1350 89 1356 90.5 1359 92 1356 89 1355 84 1358 82 1362 77.5 1365 79 1366 83 1367 90 1369 92 1367 95 1364 97 1368 94.5 1371 90 1370 85 1368 83 1370 80 1376 83 1382 82 1386 82 1382 78 1387 77 1394 76 1396 73 1405 71 1413 71 1417 70 1425 67 1430 67.5 1445 70 1446 73 1443 75 1436 77.5 1432 78.5 1443 77 1455 77.5 1458 79 1464 78 1470 78 1476 79 1477 83 1480 85.5 1482 83.5 1487 83 1497 83.5 1496 81 1500 78 1504 80 1515 81.5 1520 84 1534 84.5 1536 88 1552 88.5 1555 90 1557 87.5 1568 87.5 1574 89.5 1581 91"/>
<path d="M1326 82.5 1329.4 78.1 1333 73.8 1338.8 71.2 1342 70.5 1350 69.5 1359 68.5 1359.5 70 1353 70.5 1343 73 1338.8 76.2 1334 80 1334 83.8 1337 85.6 1328.8 85 1326 82.5"/>
<path d="M1319 88.5 1324 88 1323 90 1319 88.5"/>
<path d="M1403 59.5 1410 56.5 1414 58 1418 60.5 1424 61.5 1429 63.5 1422 64.5 1414 63.5 1406 62 1403 59.5"/>
<path d="M1491 72.5 1497 70.5 1505 71 1507 72.5 1498 75 1492 74.5 1491 72.5"/>
<path d="M1509 73 1514 72.5 1518 73.5 1512 74 1509 73"/>
<path d="M1213 119 1217 118 1222 120 1221 124 1223 128 1226 132 1229 135 1228 139 1223 140 1218 141 1220 137 1218 134 1219 130 1216 127 1215 123 1213 119"/>
<path d="M1207 131 1212 128 1215 129 1214 134 1211 137 1207 137 1206.5 133 1207 131"/>
<path d="M1243 160.5 1244.5 160.2 1245 163 1244 165 1243 163.5 1243 160.5"/>
<path d="M1241.5 166 1244.5 165.6 1245 170 1244.5 172.5 1243.5 173 1242.5 171.5 1242.2 168 1241.5 166"/>
<path d="M1249.1 174.2 1251 173.1 1255.5 174.2 1255.5 178.4 1252.5 176.1 1249.1 174.5"/>
<path d="M1271 181.5 1276.6 181.5 1276.6 182.5 1271 182.5 1271 181.5"/>
<path d="M1288.5 182 1292.5 181.5 1291 183 1288.5 182"/>
<path d="M1231.5 169.5 1232.6 170"/>
<path d="M1215 180 1213 184 1209 187 1207.5 192 1207 198 1201 202 1198 206 1196 212 1193.5 218 1194.5 228 1193 237 1193.5 244 1200 252 1201 256 1206 261 1211 266 1215 263 1223 264 1227 261 1234 260 1237 266 1244 266 1244 270 1244 275 1243.5 282 1248 289 1251 297 1251.5 303 1253 308 1252 312 1250 315 1248.5 321 1248.5 326 1252 333 1254 340 1254.5 349 1256 353 1259 358 1261 364 1261.5 370 1264 372 1269 370.5 1276 370 1279 369 1284 363 1289 356 1289.5 348 1294 345 1294.5 335 1294 332 1298 326 1300 324 1303 323 1304.5 320 1304.5 307 1303 304 1302 295 1301.5 292 1303.5 284.5 1306 282 1309 276 1314 271 1318 267 1321 260 1324.5 252 1324 245.5 1318 247 1312 249 1310 244 1304 237 1302 231 1298.5 227 1297.6 218 1294 213 1291.5 203 1289 196 1286.2 192.7 1279.2 193.2 1274 191 1268.7 188.4 1264.4 190 1263 195 1257 192 1254 188.5 1248 188 1245.8 184.4 1247.2 182.1 1246.5 179.9 1247.2 177.6 1245.8 176.5 1243.5 176.1 1242.4 177.2 1236.8 178.4 1235.6 177.2 1230 178.4 1220 179 1217 181.5 1215 180"/>
<path d="M1321.5 310 1323.5 316 1323 320 1321 329 1318.5 340 1317 346 1314 347.5 1310.5 344.5 1309.5 337 1312 332 1311.5 322 1315 320 1318.5 317 1320 312 1321.5 310"/>
<path d="M1193 199 1196 200"/>
<path d="M1198 201 1200 202"/>
<path d="M1332 333 1334 334.5"/>
<path d="M1337 332 1337.5 333.5"/>
<path d="M1329 244 1332 244"/>
<path d="M1380 251.5 1382.5 253 1384.2 259.2 1382.5 261.4 1380.7 260.1 1380.3 254 1380 251.5"/>
<path d="M1405.5 241 1405.5 245"/>
<path d="M1436 223 1439 220 1440 224 1438 228 1436 226 1436 223"/>
<path d="M1458.5 210 1461.5 209.5 1461 214 1459 217 1458 214 1458.5 210"/>
<path d="M1477 187.2 1478.9 185 1481.1 186.5 1480.4 189.5 1480.4 192.5 1478.9 193.4 1477.4 192.5 1477.4 189.9 1477 187.2"/>
<path d="M1481.1 188.4 1485.6 187.2 1488.6 186.1 1490.5 183.5 1494.2 183.1 1496.9 182 1498.4 180.9 1498.4 174.5 1500.2 171.9 1500.6 168.5 1499.1 166.2 1499.1 162.5 1500.6 157.6 1499.9 158.8 1498.8 160.2 1496.5 161.4 1496.5 166.2 1496.5 171.5 1495.4 174.5 1494.2 176.4 1491.2 176.8 1489.8 178.2 1488.6 181.2 1486.8 180.5 1482.6 181.2 1480 184 1481.1 188.4"/>
<path d="M1482 184 1488 183.5 1489 185 1484 186.5 1482 184"/>
<path d="M1500 154 1503 158 1508 157.5 1506 161 1502 163 1498 166 1497 161 1500 158 1500 154"/>
<path d="M1501 131 1503 132 1505 143 1503 150 1501 151 1500 140 1500 132 1501 131"/>
<path d="M1510 156 1513 153.5 1517 151"/>
<path d="M1473.5 205 1474 206"/>
<path d="M1458.2 228.6 1459.5 227.3 1462.7 227.5 1462.7 230.5 1463.6 231.4 1462.3 233.6 1461.4 235 1461.4 238.6 1459 237.7 1458.2 235.5 1457.7 233.6 1458.6 231.8 1458.2 228.6"/>
<path d="M1459 239.5 1464.5 239.5 1466.8 242.7 1468.2 243.6 1469 247.3 1467.5 249.5"/>
<path d="M1461.5 245 1465 244.5 1468 247 1466.5 250 1463 249 1461.5 245"/>
<path d="M1465 241 1467.5 242 1466 244 1464.5 243 1465 241"/>
<path d="M1452.3 254.5 1455 251 1458.6 246.4"/>
<path d="M1452 259 1449 264 1443 270 1437 273 1436 276 1439 283 1441 286 1448 288 1451 284 1452 279 1454 275 1454 268 1456 263 1452 259"/>
<path d="M1410.5 262.5 1415 264 1420 270 1425 274 1429 282 1430 292 1427 291 1422 286 1418 279 1415 270 1411 266 1410.5 262.5"/>
<path d="M1430 293 1432 297 1440 299 1448 301 1452 302 1456 301.5 1460 301 1468 300.5 1472 300 1469 299 1462 300 1456 300 1448 299 1442 296 1435 294 1430 293"/>
<path d="M1457 304 1460 305"/>
<path d="M1465 304 1468 303"/>
<path d="M1457 276 1462 274.5 1468 274 1465 277 1461 280 1462 283 1460 286 1463 291 1459 292 1457 288 1456 283 1457 279 1457 276"/>
<path d="M1464.5 252.7 1468.6 251.4 1471 253.2 1471 260 1468.6 262.3 1465.5 261 1465 258.6 1462.7 259 1462.3 256.4 1464.5 252.7"/>
<path d="M1473 272 1475.5 274 1474 278 1476 281 1473 282 1472.5 276 1473 272"/>
<path d="M1478 278 1484 279 1488 284 1492 281.5 1500 285 1505 288 1511 293 1518 293 1522 289 1518 294 1512 295 1511 298 1513 302 1517 306 1512 305 1508 299 1504 299 1499 302 1493 300 1494 294 1490 290 1485 288 1481 287 1480 283 1478 278"/>
<path d="M1517 285 1521 289 1522.5 290"/>
<path d="M1526 293 1530 296 1534 299 1537 303 1540 307"/>
<path d="M1549 318 1550 322"/>
<path d="M1544 332 1547 335 1550 338"/>
<path d="M1446 337 1450 334 1459 331 1462 326 1465 322 1469 317 1472 315 1476 319 1479 312 1479 309 1482 310 1487 311 1490 312 1489 318 1493 322 1497 326.5 1499 323 1500 318 1501 308 1502 308 1504 316 1507 319 1508 326 1510 330 1514 333 1517 339 1521 344 1523 350 1523.5 355 1523 360 1521 365 1518 370 1516.5 374 1516.5 380 1512 380.5 1509 384 1507 381 1504 383 1500 381.5 1497 379.5 1496 376 1494 373 1492 368 1489 371 1485 365 1481 363.5 1476 363.5 1474 365 1470 365.5 1465 369 1459 369.5 1455 373 1451 373 1448.5 369.5 1450 368 1450 364 1448 358 1446 354 1445 348 1446 340 1446 337"/>
<path d="M1506 388.5 1513 388.5 1513.5 392 1510 396.5 1507 393 1506 388.5"/>
<path d="M1560 371.5 1564 376 1566 379 1571 380 1571 383 1568 388 1566 390.5 1564 389 1563 386 1564 383 1563 380 1560 371.5"/>
<path d="M1564 390 1560 389 1558 391 1555 394 1551 398 1549 402 1550 406 1555 404 1558 398 1561 394 1564 390"/>
<path d="M883 396 886 397"/>
<path d="M1062 218.5 1068 214.5 1074 217 1079 221 1082 223 1076 223.5 1072 220 1066 218 1062 218.5"/>
<path d="M1084 224 1089 223.5 1093 227 1089 228.5 1084 228 1084 224"/>
<path d="M1074.5 228 1079 228.5 1077 229.5 1074.5 228"/>
<path d="M1096 228 1099.5 228.5"/>
<path d="M1074 204 1075 206"/>
<path d="M1076 208 1078 211"/>
<path d="M1082 215 1084 217"/>
<path d="M1086 218 1087 219"/>
<path d="M1106 233 1106.5 234.5"/>
<path d="M1050 277 1049.5 280"/>
<path d="M1087 245 1088 248 1087 252"/>
<path d="M1108 418 1111 417.5 1114 418.5 1111 419.6 1108 418"/>
<path d="M1153 425 1156 426.4"/>
<path d="M876.7 490.2 895.5 490.7 901.5 491.3 907.5 491 915 489.5 921 487.7 930 488.3 936 486.5 943.5 483.8 955.5 482.7 958.5 481.2 964.5 480.5 975 479.3 981 477.5 990 479.3 1000.5 479 1012.5 479.3 1017 481.2 1029 481.2 1028 477.5 1026 475.2 1029 473.7 1039.5 473.7 1041 475.2 1051.5 475.2 1059 476.7 1066.5 478.2 1071 476.7 1074 475.2 1083 474.5 1090 474 1093 471 1091.6 466 1096.5 461 1101.4 456.3 1106.3 452.2 1112.8 449.8 1119.3 450 1111 451.4 1109.5 456.3 1108.7 464.4 1109.5 472.5 1107 479 1106.3 482.3 1114.4 483.9 1127.4 487.2 1138.8 490.4 1146.9 489.6 1156.7 490.4 1168 487.2 1174.6 484.7 1181 481.5 1187.6 479.8 1190.8 475.8 1200.6 473.3 1207 470.1 1216.8 469.3 1225 468 1236.3 468.5 1249.3 468.1 1254.2 466.8 1268.9 468.5 1273.7 469.3 1285.1 466 1291.6 464.4 1296.5 466 1301.4 467.6 1304.6 464.4 1311.1 462 1320.9 460.3 1330.7 456.3 1337.2 459.5 1343.7 461.1 1350.2 461.1 1358.8 462 1369.7 467.2 1377.5 462.8 1383.8 459.7 1388.4 458.4 1396.3 457.3 1399.4 458.9 1408.8 458.1 1411.9 454.2 1416.6 453.4 1421.3 455.8 1425.9 455 1430.6 457.3 1436.9 458.9 1444.7 456.9 1452.5 458.9 1461.9 458.9 1468.1 457.8 1475.9 459.4 1480.6 457.3 1490 457.3 1502.5 459.2 1508.8 461.3 1515 463.1 1527.5 465.2 1536.9 468.3 1547.8 470.3 1555.6 472.5 1554 475.3 1546.3 478.4 1541.6 483.1 1541.6 487.8 1547.8 489.1 1558.8 488.1 1574.4 490.2 1581 490.2"/>
<path d="M1078 468 1085 465.5 1092 467 1095 471 1090 475 1082 475 1078 472 1078 468"/>
<path d="M1108 447 1114 446.5"/>
<path d="M891 314.5 893 315.5 895 315.5"/>
<path d="M936 325.5 937.5 325.5 937.5 326.5 936 326.5 936 325.5"/>
<path d="M1559 133 1560.5 133.5 1562 134.5"/>
<path d="M1359 411 1361 411 1362 412"/>
<path d="M1137 440.5 1139.5 441"/>
<path d="M1572 320.5 1574 322"/>
<path d="M1051 83 1055 86 1060 87.5 1064 88 1070 88 1075 86.5 1080 91 1086.5 94.5"/>
<path d="M1060 87.5 1060 92.5 1057 94.5 1055 90 1052.5 91.5 1048 87.5 1043.5 83 1041.5 83"/>
<path d="M1076.5 92 1080.5 91.5 1085 94 1082.5 96.5 1082 99 1077 99 1075 100.5 1076.5 103 1085 104"/>
<path d="M1050 76.5 1051 80 1051 83"/>
<path d="M1246 125 1249 125 1251 127 1249 130 1246.5 129 1246 125"/>
<path d="M1247 126 1249.5 127.5 1247.5 128.5 1247 126"/>
<path d="M1261.5 120 1264 120.5 1263 122.6 1261.5 120"/>
<path d="M1269 119 1272 117.5 1273.7 119.5 1272 122.5 1269.5 121 1269 119"/>
<path d="M962.5 119.5 964.5 118.5 966 121.5 968 122.5 966.5 124.5 964.5 122.5 963 121 962.5 119.5"/>
<path d="M965 123 968.5 126 971 126.5 970 129 968.5 130"/>
<path d="M968.3 130.4 970.5 130.4 970.5 132.5 968.3 132.5 968.3 130.4"/>
<path d="M971 128 974.5 128.5 973 130 974.5 131"/>
<path d="M1082.5 391 1085 391.5 1084.5 396 1082.5 395.5 1082.5 391"/>
<path d="M1081 398 1083.5 398.5 1083 403 1081 402.5 1081 398"/>
<path d="M1086 421.5 1089 421 1092 422.5 1090 424.5 1087 424 1086 421.5"/>
</g>
<path d="M923.5 519.5L928.5 519.5M932.5 516.5L933.5 515.5L933.5 522.5M941.5 515.5L938.5 515.5L937.5 518.5L938.5 518.5L938.5 517.5L939.5 517.5L940.5 518.5L941.5 518.5L941.5 519.5L941.5 520.5L941.5 521.5L940.5 522.5L939.5 522.5L938.5 522.5L937.5 521.5M945.5 515.5L944.5 515.5L943.5 516.5L943.5 518.5L943.5 519.5L943.5 521.5L944.5 522.5L945.5 522.5L946.5 522.5L947.5 522.5L947.5 521.5L948.5 519.5L948.5 518.5L947.5 516.5L947.5 515.5L946.5 515.5L945.5 515.5M981.5 519.5L986.5 519.5M990.5 516.5L991.5 515.5L991.5 522.5M995.5 517.5L995.5 516.5L996.5 516.5L996.5 515.5L998.5 515.5L999.5 516.5L999.5 517.5L999.5 518.5L998.5 519.5L995.5 522.5L999.5 522.5M1003.5 515.5L1002.5 515.5L1001.5 516.5L1001.5 518.5L1001.5 519.5L1001.5 521.5L1002.5 522.5L1003.5 522.5L1004.5 522.5L1005.5 522.5L1005.5 521.5L1006.5 519.5L1006.5 518.5L1005.5 516.5L1005.5 515.5L1004.5 515.5L1003.5 515.5M1042.5 519.5L1048.5 519.5M1054.5 517.5L1054.5 518.5L1053.5 519.5L1052.5 519.5L1051.5 519.5L1050.5 518.5L1050.5 517.5L1050.5 516.5L1051.5 515.5L1052.5 515.5L1053.5 515.5L1054.5 516.5L1054.5 517.5L1054.5 519.5L1054.5 521.5L1053.5 522.5L1052.5 522.5L1051.5 522.5L1050.5 522.5L1050.5 521.5M1058.5 515.5L1057.5 515.5L1056.5 516.5L1056.5 518.5L1056.5 519.5L1056.5 521.5L1057.5 522.5L1058.5 522.5L1059.5 522.5L1060.5 521.5L1060.5 519.5L1060.5 518.5L1060.5 516.5L1059.5 515.5L1058.5 515.5M1101.5 519.5L1107.5 519.5M1113.5 516.5L1113.5 515.5L1112.5 515.5L1111.5 515.5L1110.5 515.5L1109.5 516.5L1109.5 518.5L1109.5 520.5L1109.5 521.5L1110.5 522.5L1111.5 522.5L1112.5 522.5L1113.5 521.5L1113.5 520.5L1113.5 519.5L1112.5 518.5L1111.5 518.5L1110.5 518.5L1109.5 519.5L1109.5 520.5M1117.5 515.5L1116.5 515.5L1115.5 516.5L1115.5 518.5L1115.5 519.5L1115.5 521.5L1116.5 522.5L1117.5 522.5L1118.5 522.5L1119.5 521.5L1119.5 519.5L1119.5 518.5L1119.5 516.5L1118.5 515.5L1117.5 515.5M1159.5 519.5L1165.5 519.5M1167.5 515.5L1171.5 515.5L1169.5 518.5L1170.5 518.5L1171.5 518.5L1171.5 519.5L1171.5 520.5L1171.5 521.5L1170.5 522.5L1169.5 522.5L1168.5 522.5L1167.5 522.5L1167.5 521.5M1175.5 515.5L1174.5 515.5L1173.5 516.5L1173.5 518.5L1173.5 519.5L1173.5 521.5L1174.5 522.5L1175.5 522.5L1176.5 522.5L1177.5 521.5L1177.5 519.5L1177.5 518.5L1177.5 516.5L1176.5 515.5L1175.5 515.5M1226.5 515.5L1225.5 515.5L1224.5 516.5L1224.5 518.5L1224.5 519.5L1224.5 521.5L1225.5 522.5L1226.5 522.5L1227.5 522.5L1228.5 521.5L1228.5 519.5L1228.5 518.5L1228.5 516.5L1227.5 515.5L1226.5 515.5M1279.5 515.5L1283.5 515.5L1281.5 518.5L1282.5 518.5L1283.5 518.5L1283.5 519.5L1283.5 520.5L1283.5 521.5L1282.5 522.5L1281.5 522.5L1280.5 522.5L1279.5 522.5L1279.5 521.5M1287.5 515.5L1286.5 515.5L1285.5 516.5L1285.5 518.5L1285.5 519.5L1285.5 521.5L1286.5 522.5L1287.5 522.5L1288.5 522.5L1289.5 521.5L1289.5 519.5L1289.5 518.5L1289.5 516.5L1288.5 515.5L1287.5 515.5M1341.5 516.5L1340.5 515.5L1339.5 515.5L1338.5 515.5L1337.5 516.5L1337.5 518.5L1337.5 520.5L1337.5 521.5L1338.5 522.5L1339.5 522.5L1340.5 522.5L1341.5 521.5L1341.5 520.5L1341.5 519.5L1340.5 518.5L1339.5 518.5L1338.5 518.5L1337.5 519.5L1337.5 520.5M1345.5 515.5L1344.5 515.5L1343.5 516.5L1343.5 518.5L1343.5 519.5L1343.5 521.5L1344.5 522.5L1345.5 522.5L1346.5 522.5L1347.5 521.5L1347.5 519.5L1347.5 518.5L1347.5 516.5L1346.5 515.5L1345.5 515.5M1399.5 517.5L1398.5 518.5L1398.5 519.5L1397.5 519.5L1396.5 519.5L1395.5 518.5L1395.5 517.5L1395.5 516.5L1396.5 515.5L1397.5 515.5L1398.5 515.5L1398.5 516.5L1399.5 517.5L1399.5 519.5L1398.5 521.5L1398.5 522.5L1397.5 522.5L1396.5 522.5L1395.5 522.5L1395.5 521.5M1403.5 515.5L1402.5 515.5L1401.5 516.5L1401.5 518.5L1401.5 519.5L1401.5 521.5L1402.5 522.5L1403.5 522.5L1404.5 522.5L1405.5 521.5L1405.5 519.5L1405.5 518.5L1405.5 516.5L1404.5 515.5L1403.5 515.5M1450.5 516.5L1451.5 516.5L1452.5 515.5L1452.5 522.5M1456.5 517.5L1456.5 516.5L1457.5 515.5L1459.5 515.5L1460.5 516.5L1460.5 517.5L1460.5 518.5L1459.5 519.5L1456.5 522.5L1460.5 522.5M1464.5 515.5L1463.5 515.5L1462.5 516.5L1462.5 518.5L1462.5 519.5L1462.5 521.5L1463.5 522.5L1464.5 522.5L1465.5 522.5L1466.5 522.5L1466.5 521.5L1466.5 519.5L1466.5 518.5L1466.5 516.5L1466.5 515.5L1465.5 515.5L1464.5 515.5M1508.5 516.5L1509.5 516.5L1510.5 515.5L1510.5 522.5M1518.5 515.5L1514.5 515.5L1514.5 518.5L1515.5 517.5L1516.5 517.5L1517.5 518.5L1518.5 518.5L1518.5 519.5L1518.5 520.5L1518.5 521.5L1517.5 522.5L1516.5 522.5L1515.5 522.5L1514.5 522.5L1514.5 521.5M1522.5 515.5L1521.5 515.5L1520.5 516.5L1520.5 518.5L1520.5 519.5L1520.5 521.5L1521.5 522.5L1522.5 522.5L1523.5 522.5L1524.5 522.5L1524.5 521.5L1524.5 519.5L1524.5 518.5L1524.5 516.5L1524.5 515.5L1523.5 515.5L1522.5 515.5M1566.5 516.5L1567.5 516.5L1568.5 515.5L1568.5 522.5M1573.5 515.5L1572.5 515.5L1572.5 516.5L1572.5 517.5L1573.5 518.5L1574.5 518.5L1575.5 518.5L1576.5 519.5L1576.5 520.5L1576.5 521.5L1576.5 522.5L1575.5 522.5L1573.5 522.5L1572.5 522.5L1572.5 521.5L1572.5 520.5L1572.5 519.5L1573.5 518.5L1574.5 518.5L1575.5 518.5L1576.5 517.5L1576.5 516.5L1576.5 515.5L1575.5 515.5L1573.5 515.5M1580.5 515.5L1579.5 515.5L1578.5 516.5L1578.5 518.5L1578.5 519.5L1578.5 521.5L1579.5 522.5L1580.5 522.5L1581.5 522.5L1582.5 522.5L1582.5 521.5L1582.5 519.5L1582.5 518.5L1582.5 516.5L1582.5 515.5L1581.5 515.5L1580.5 515.5M870.5 270.5L869.5 270.5L868.5 271.5L868.5 273.5L868.5 274.5L868.5 276.5L869.5 277.5L870.5 277.5L871.5 277.5L872.5 276.5L872.5 274.5L872.5 273.5L872.5 271.5L871.5 270.5L870.5 270.5" stroke="#000" stroke-width="1" fill="none" stroke-linecap="square" shape-rendering="crispEdges" clip-path="url(#mapclip)"/>
<rect x="870.5" y="28.5" width="711" height="499" fill="none" stroke="#000" stroke-width="1" shape-rendering="crispEdges"/>
<path d="M973 133L970.5 155L968.4 175L967 195L966 215L965.8 223" stroke="#00f020" stroke-width="4.4" fill="none" stroke-linejoin="round" shape-rendering="crispEdges"/>
<path d="M964 229h1v5h-1zM963 230h1v1h-1zM963 232h1v1h-1zM965 231h1v1h-1zM966 230h1v1h-1zM966 232h1v1h-1z" fill="#00f020" shape-rendering="crispEdges"/>
</svg>
</body></html>
